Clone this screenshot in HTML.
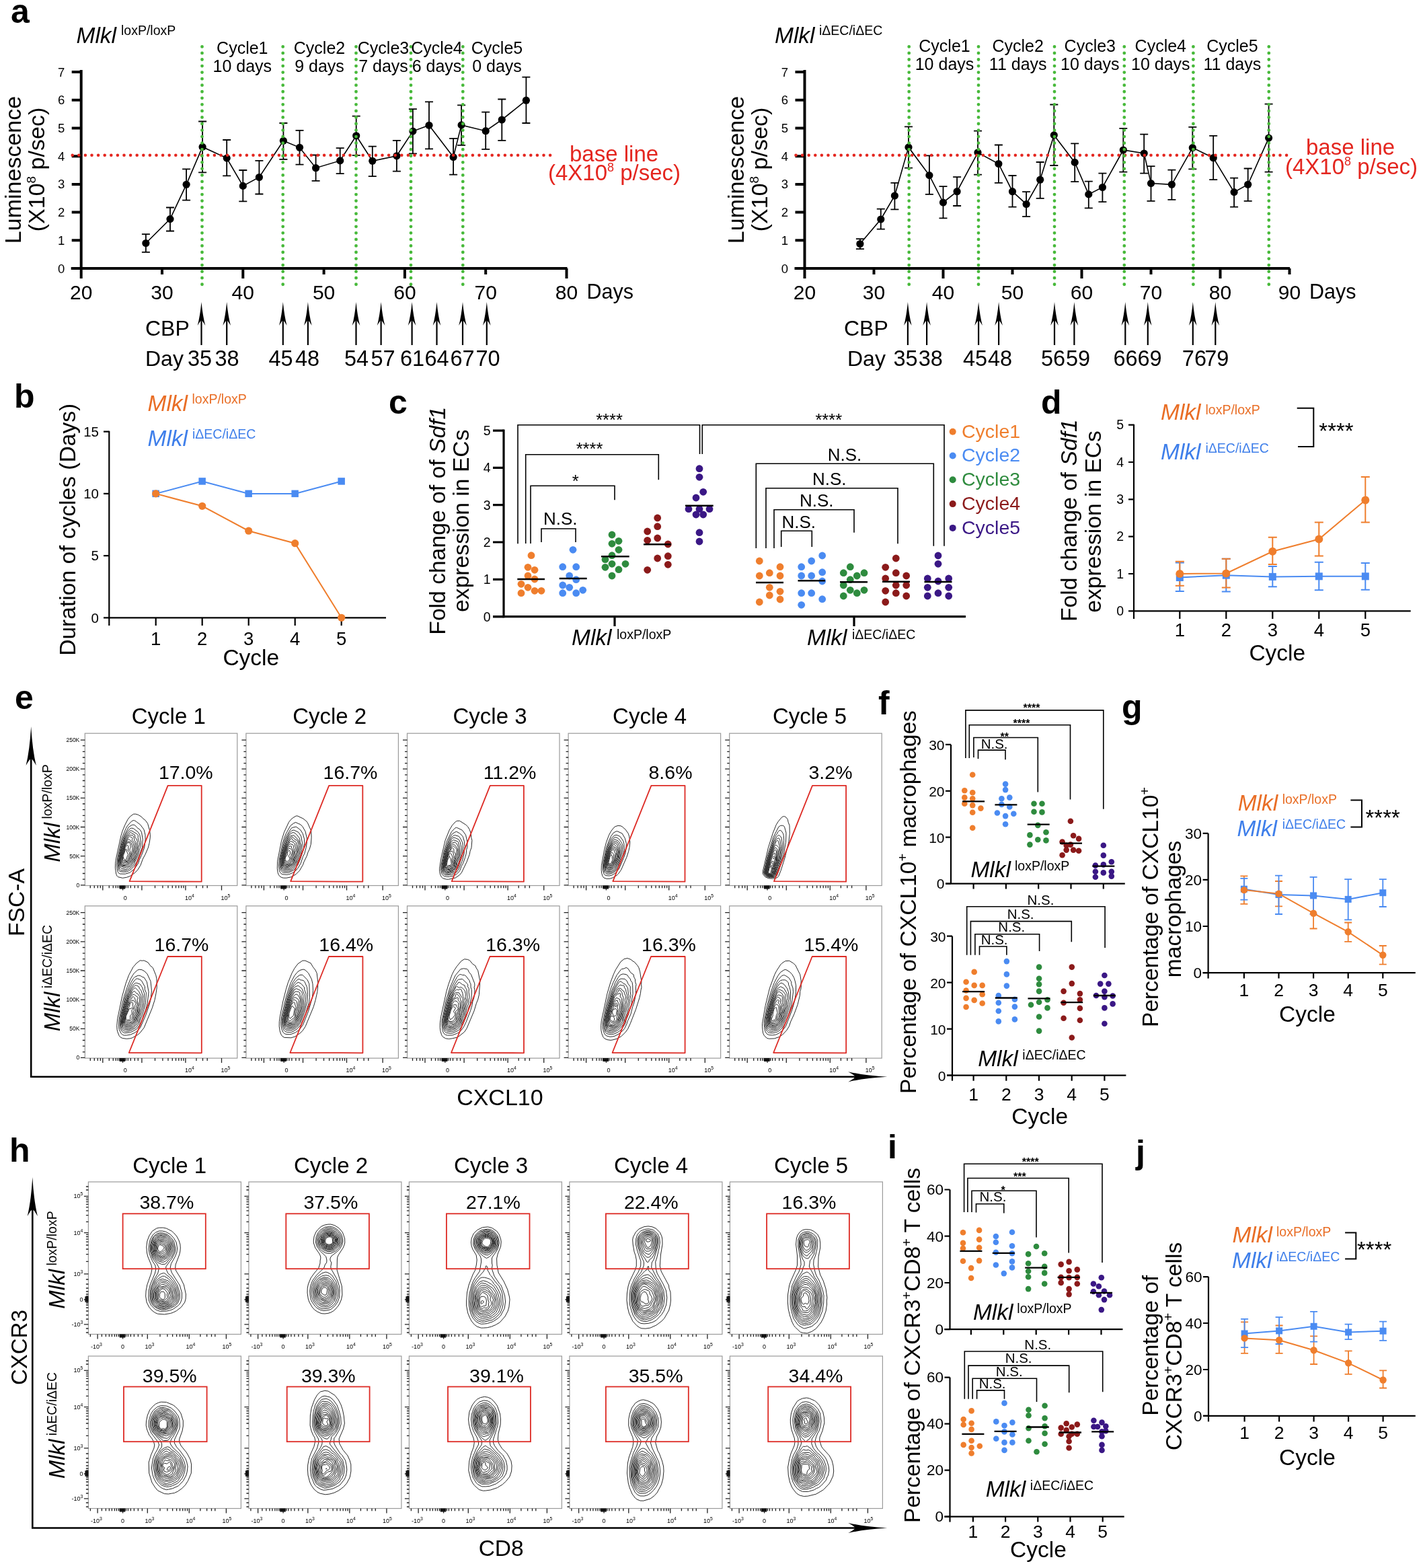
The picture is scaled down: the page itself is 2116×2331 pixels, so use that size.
<!DOCTYPE html>
<html><head><meta charset="utf-8"><style>
html,body{margin:0;padding:0;background:#fff;overflow:hidden;}
svg{display:block;font-family:'Liberation Sans', Arial, sans-serif;}
</style></head><body>
<svg width="2116" height="2331" viewBox="0 0 2116 2331">
<rect width="2116" height="2331" fill="#fff"/>
<text x="16" y="34" font-size="50" font-weight="bold">a</text>
<path d="M120.7 104L120.7 401" stroke="#000" stroke-width="4" fill="none"/>
<path d="M105.7 399L843.5 399" stroke="#000" stroke-width="4" fill="none"/>
<path d="M106.7 357.3L120.7 357.3M106.7 315.6L120.7 315.6M106.7 273.9L120.7 273.9M106.7 232.2L120.7 232.2M106.7 190.5L120.7 190.5M106.7 148.8L120.7 148.8M106.7 107.1L120.7 107.1" stroke="#000" stroke-width="4" fill="none"/>
<text x="91.2" y="405.5" font-size="18.5" text-anchor="middle">0</text>
<text x="91.2" y="363.8" font-size="18.5" text-anchor="middle">1</text>
<text x="91.2" y="322.1" font-size="18.5" text-anchor="middle">2</text>
<text x="91.2" y="280.4" font-size="18.5" text-anchor="middle">3</text>
<text x="91.2" y="238.7" font-size="18.5" text-anchor="middle">4</text>
<text x="91.2" y="197" font-size="18.5" text-anchor="middle">5</text>
<text x="91.2" y="155.3" font-size="18.5" text-anchor="middle">6</text>
<text x="91.2" y="113.6" font-size="18.5" text-anchor="middle">7</text>
<path d="M120.7 399L120.7 414M241 399L241 408M361.3 399L361.3 414M481.6 399L481.6 408M601.9 399L601.9 414M722.2 399L722.2 408M842.5 399L842.5 414" stroke="#000" stroke-width="4" fill="none"/>
<text x="120.7" y="444.5" font-size="30" text-anchor="middle">20</text>
<text x="241" y="444.5" font-size="30" text-anchor="middle">30</text>
<text x="361.3" y="444.5" font-size="30" text-anchor="middle">40</text>
<text x="481.6" y="444.5" font-size="30" text-anchor="middle">50</text>
<text x="601.9" y="444.5" font-size="30" text-anchor="middle">60</text>
<text x="722.2" y="444.5" font-size="30" text-anchor="middle">70</text>
<text x="842.5" y="444.5" font-size="30" text-anchor="middle">80</text>
<text x="872.5" y="444" font-size="30.5">Days</text>
<path d="M216.9 361.5L253 325.6L277.1 274.3L301.1 218.4L337.2 235.1L361.3 276.4L385.4 263.5L421.4 209.3L445.5 219.3L469.6 249.7L505.7 238.9L529.7 201.8L553.8 239.3L589.9 231.8L613.9 195.1L638 186.3L674.1 233.5L686.1 185.9L722.2 194.7L746.3 178L782.4 149.2" stroke="#000" stroke-width="1.6" fill="none"/>
<path d="M216.9 348.1L216.9 374.8M210.9 348.1L222.9 348.1M210.9 374.8L222.9 374.8M253 308.5L253 343.5M247 308.5L259 308.5M247 343.5L259 343.5M277.1 251.4L277.1 297.7M271.1 251.4L283.1 251.4M271.1 297.7L283.1 297.7M301.1 180.5L301.1 256.4M295.1 180.5L307.1 180.5M295.1 256.4L307.1 256.4M337.2 208L337.2 261.4M331.2 208L343.2 208M331.2 261.4L343.2 261.4M361.3 253L361.3 299.3M355.3 253L367.3 253M355.3 299.3L367.3 299.3M385.4 238.9L385.4 288.5M379.4 238.9L391.4 238.9M379.4 288.5L391.4 288.5M421.4 183L421.4 236.8M415.4 183L427.4 183M415.4 236.8L427.4 236.8M445.5 193.8L445.5 244.7M439.5 193.8L451.5 193.8M439.5 244.7L451.5 244.7M469.6 230.5L469.6 268.9M463.6 230.5L475.6 230.5M463.6 268.9L475.6 268.9M505.7 220.1L505.7 258.1M499.7 220.1L511.7 220.1M499.7 258.1L511.7 258.1M529.7 172.6L529.7 230.9M523.7 172.6L535.7 172.6M523.7 230.9L535.7 230.9M553.8 217.6L553.8 262.2M547.8 217.6L559.8 217.6M547.8 262.2L559.8 262.2M589.9 208.8L589.9 254.7M583.9 208.8L595.9 208.8M583.9 254.7L595.9 254.7M613.9 162.1L613.9 228.4M607.9 162.1L619.9 162.1M607.9 228.4L619.9 228.4M638 151.3L638 221.4M632 151.3L644 151.3M632 221.4L644 221.4M674.1 205.9L674.1 259.7M668.1 205.9L680.1 205.9M668.1 259.7L680.1 259.7M686.1 156.3L686.1 215.9M680.1 156.3L692.1 156.3M680.1 215.9L692.1 215.9M722.2 166.7L722.2 221.8M716.2 166.7L728.2 166.7M716.2 221.8L728.2 221.8M746.3 147.5L746.3 208.8M740.3 147.5L752.3 147.5M740.3 208.8L752.3 208.8M782.4 114.6L782.4 183M776.4 114.6L788.4 114.6M776.4 183L788.4 183" stroke="#000" stroke-width="1.8" fill="none"/>
<circle cx="216.9" cy="361.5" r="5.6" fill="#000"/>
<circle cx="253" cy="325.6" r="5.6" fill="#000"/>
<circle cx="277.1" cy="274.3" r="5.6" fill="#000"/>
<circle cx="301.1" cy="218.4" r="5.6" fill="#000"/>
<circle cx="337.2" cy="235.1" r="5.6" fill="#000"/>
<circle cx="361.3" cy="276.4" r="5.6" fill="#000"/>
<circle cx="385.4" cy="263.5" r="5.6" fill="#000"/>
<circle cx="421.4" cy="209.3" r="5.6" fill="#000"/>
<circle cx="445.5" cy="219.3" r="5.6" fill="#000"/>
<circle cx="469.6" cy="249.7" r="5.6" fill="#000"/>
<circle cx="505.7" cy="238.9" r="5.6" fill="#000"/>
<circle cx="529.7" cy="201.8" r="5.6" fill="#000"/>
<circle cx="553.8" cy="239.3" r="5.6" fill="#000"/>
<circle cx="589.9" cy="231.8" r="5.6" fill="#000"/>
<circle cx="613.9" cy="195.1" r="5.6" fill="#000"/>
<circle cx="638" cy="186.3" r="5.6" fill="#000"/>
<circle cx="674.1" cy="233.5" r="5.6" fill="#000"/>
<circle cx="686.1" cy="185.9" r="5.6" fill="#000"/>
<circle cx="722.2" cy="194.7" r="5.6" fill="#000"/>
<circle cx="746.3" cy="178" r="5.6" fill="#000"/>
<circle cx="782.4" cy="149.2" r="5.6" fill="#000"/>
<path d="M107.7 230.7H822" stroke="#E4261F" stroke-width="4.6" fill="none" stroke-dasharray="0 9.6" stroke-linecap="round"/>
<path d="M300.5 69.4V424" stroke="#47B93A" stroke-width="4.8" fill="none" stroke-dasharray="0 9.55" stroke-linecap="round"/>
<path d="M420.7 69.4V424" stroke="#47B93A" stroke-width="4.8" fill="none" stroke-dasharray="0 9.55" stroke-linecap="round"/>
<path d="M529.5 69.4V424" stroke="#47B93A" stroke-width="4.8" fill="none" stroke-dasharray="0 9.55" stroke-linecap="round"/>
<path d="M611 69.4V424" stroke="#47B93A" stroke-width="4.8" fill="none" stroke-dasharray="0 9.55" stroke-linecap="round"/>
<path d="M688.3 69.4V424" stroke="#47B93A" stroke-width="4.8" fill="none" stroke-dasharray="0 9.55" stroke-linecap="round"/>
<text x="360.3" y="80" font-size="25" text-anchor="middle">Cycle1</text>
<text x="360.3" y="107" font-size="25" text-anchor="middle">10 days</text>
<text x="475" y="80" font-size="25" text-anchor="middle">Cycle2</text>
<text x="475" y="107" font-size="25" text-anchor="middle">9 days</text>
<text x="570" y="80" font-size="25" text-anchor="middle">Cycle3</text>
<text x="570" y="107" font-size="25" text-anchor="middle">7 days</text>
<text x="649.5" y="80" font-size="25" text-anchor="middle">Cycle4</text>
<text x="649.5" y="107" font-size="25" text-anchor="middle">6 days</text>
<text x="739" y="80" font-size="25" text-anchor="middle">Cycle5</text>
<text x="739" y="107" font-size="25" text-anchor="middle">0 days</text>
<text x="113.5" y="63.5" font-size="33.5" font-style="italic">Mlkl</text>
<text x="180" y="52" font-size="19.5">loxP/loxP</text>
<text x="847" y="240" font-size="33" fill="#E4261F">base line</text>
<text x="815" y="268" font-size="33" fill="#E4261F">(4X10<tspan font-size="18" dy="-13">8</tspan><tspan dy="13"> p/sec)</tspan></text>
<text x="31" y="252.5" font-size="34" text-anchor="middle" transform="rotate(-90 31 252.5)">Luminescence</text>
<text x="66" y="252" font-size="34" text-anchor="middle" transform="rotate(-90 66 252)">(X10<tspan font-size="19" dy="-13">8</tspan><tspan dy="13"> p/sec)</tspan></text>
<text x="216" y="499" font-size="32">CBP</text>
<text x="216" y="543.5" font-size="32">Day</text>
<path d="M299.5 476L299.5 513" stroke="#000" stroke-width="2.2" fill="none"/>
<path d="M299.5 449 Q301.5 470 305.3 484 Q300.5 476 299.5 476 Q298.5 476 293.7 484 Q297.5 470 299.5 449Z" fill="#000"/>
<path d="M337.2 476L337.2 513" stroke="#000" stroke-width="2.2" fill="none"/>
<path d="M337.2 449 Q339.2 470 343 484 Q338.2 476 337.2 476 Q336.2 476 331.4 484 Q335.2 470 337.2 449Z" fill="#000"/>
<path d="M420.8 476L420.8 513" stroke="#000" stroke-width="2.2" fill="none"/>
<path d="M420.8 449 Q422.8 470 426.6 484 Q421.8 476 420.8 476 Q419.8 476 415 484 Q418.8 470 420.8 449Z" fill="#000"/>
<path d="M457.9 476L457.9 513" stroke="#000" stroke-width="2.2" fill="none"/>
<path d="M457.9 449 Q459.9 470 463.7 484 Q458.9 476 457.9 476 Q456.9 476 452.1 484 Q455.9 470 457.9 449Z" fill="#000"/>
<path d="M529.5 476L529.5 513" stroke="#000" stroke-width="2.2" fill="none"/>
<path d="M529.5 449 Q531.5 470 535.3 484 Q530.5 476 529.5 476 Q528.5 476 523.7 484 Q527.5 470 529.5 449Z" fill="#000"/>
<path d="M566.6 476L566.6 513" stroke="#000" stroke-width="2.2" fill="none"/>
<path d="M566.6 449 Q568.6 470 572.4 484 Q567.6 476 566.6 476 Q565.6 476 560.8 484 Q564.6 470 566.6 449Z" fill="#000"/>
<path d="M612.6 476L612.6 513" stroke="#000" stroke-width="2.2" fill="none"/>
<path d="M612.6 449 Q614.6 470 618.4 484 Q613.6 476 612.6 476 Q611.6 476 606.8 484 Q610.6 470 612.6 449Z" fill="#000"/>
<path d="M649.5 476L649.5 513" stroke="#000" stroke-width="2.2" fill="none"/>
<path d="M649.5 449 Q651.5 470 655.3 484 Q650.5 476 649.5 476 Q648.5 476 643.7 484 Q647.5 470 649.5 449Z" fill="#000"/>
<path d="M688 476L688 513" stroke="#000" stroke-width="2.2" fill="none"/>
<path d="M688 449 Q690 470 693.8 484 Q689 476 688 476 Q687 476 682.2 484 Q686 470 688 449Z" fill="#000"/>
<path d="M723.8 476L723.8 513" stroke="#000" stroke-width="2.2" fill="none"/>
<path d="M723.8 449 Q725.8 470 729.6 484 Q724.8 476 723.8 476 Q722.8 476 718 484 Q721.8 470 723.8 449Z" fill="#000"/>
<text x="297" y="543.5" font-size="32.5" text-anchor="middle">35</text>
<text x="337.5" y="543.5" font-size="32.5" text-anchor="middle">38</text>
<text x="417.5" y="543.5" font-size="32.5" text-anchor="middle">45</text>
<text x="457" y="543.5" font-size="32.5" text-anchor="middle">48</text>
<text x="530" y="543.5" font-size="32.5" text-anchor="middle">54</text>
<text x="569.5" y="543.5" font-size="32.5" text-anchor="middle">57</text>
<text x="613" y="543.5" font-size="32.5" text-anchor="middle">61</text>
<text x="649.5" y="543.5" font-size="32.5" text-anchor="middle">64</text>
<text x="687.5" y="543.5" font-size="32.5" text-anchor="middle">67</text>
<text x="725.5" y="543.5" font-size="32.5" text-anchor="middle">70</text>
<path d="M1196.5 104L1196.5 401" stroke="#000" stroke-width="4" fill="none"/>
<path d="M1181.5 399L1918 399" stroke="#000" stroke-width="4" fill="none"/>
<path d="M1182.5 357.3L1196.5 357.3M1182.5 315.6L1196.5 315.6M1182.5 273.9L1196.5 273.9M1182.5 232.2L1196.5 232.2M1182.5 190.5L1196.5 190.5M1182.5 148.8L1196.5 148.8M1182.5 107.1L1196.5 107.1" stroke="#000" stroke-width="4" fill="none"/>
<text x="1167" y="405.5" font-size="18.5" text-anchor="middle">0</text>
<text x="1167" y="363.8" font-size="18.5" text-anchor="middle">1</text>
<text x="1167" y="322.1" font-size="18.5" text-anchor="middle">2</text>
<text x="1167" y="280.4" font-size="18.5" text-anchor="middle">3</text>
<text x="1167" y="238.7" font-size="18.5" text-anchor="middle">4</text>
<text x="1167" y="197" font-size="18.5" text-anchor="middle">5</text>
<text x="1167" y="155.3" font-size="18.5" text-anchor="middle">6</text>
<text x="1167" y="113.6" font-size="18.5" text-anchor="middle">7</text>
<path d="M1196.5 399L1196.5 414M1299.5 399L1299.5 408M1402.5 399L1402.5 414M1505.5 399L1505.5 408M1608.5 399L1608.5 414M1711.5 399L1711.5 408M1814.5 399L1814.5 414M1917.5 399L1917.5 408" stroke="#000" stroke-width="4" fill="none"/>
<text x="1196.5" y="444.5" font-size="30" text-anchor="middle">20</text>
<text x="1299.5" y="444.5" font-size="30" text-anchor="middle">30</text>
<text x="1402.5" y="444.5" font-size="30" text-anchor="middle">40</text>
<text x="1505.5" y="444.5" font-size="30" text-anchor="middle">50</text>
<text x="1608.5" y="444.5" font-size="30" text-anchor="middle">60</text>
<text x="1711.5" y="444.5" font-size="30" text-anchor="middle">70</text>
<text x="1814.5" y="444.5" font-size="30" text-anchor="middle">80</text>
<text x="1917.5" y="444.5" font-size="30" text-anchor="middle">90</text>
<text x="1947" y="444" font-size="30.5">Days</text>
<path d="M1278.9 362.5L1309.8 326L1330.4 291L1351 218.9L1381.9 260.6L1402.5 301L1423.1 284.7L1454 226.8L1484.9 243.5L1505.5 284.7L1526.1 303.5L1546.7 267.2L1567.3 200.9L1598.2 241.4L1618.8 288.9L1639.4 278.5L1670.3 223L1701.2 228L1711.5 272.6L1742.4 274.3L1773.3 219.7L1804.2 234.7L1835.1 285.6L1855.7 274.3L1886.6 205.1" stroke="#000" stroke-width="1.6" fill="none"/>
<path d="M1278.9 355.2L1278.9 370.2M1272.9 355.2L1284.9 355.2M1272.9 370.2L1284.9 370.2M1309.8 310.6L1309.8 340.6M1303.8 310.6L1315.8 310.6M1303.8 340.6L1315.8 340.6M1330.4 271.8L1330.4 311.4M1324.4 271.8L1336.4 271.8M1324.4 311.4L1336.4 311.4M1351 188.4L1351 249.7M1345 188.4L1357 188.4M1345 249.7L1357 249.7M1381.9 231.4L1381.9 288.9M1375.9 231.4L1387.9 231.4M1375.9 288.9L1387.9 288.9M1402.5 277.2L1402.5 324.4M1396.5 277.2L1408.5 277.2M1396.5 324.4L1408.5 324.4M1423.1 263.1L1423.1 306M1417.1 263.1L1429.1 263.1M1417.1 306L1429.1 306M1454 194.7L1454 259.7M1448 194.7L1460 194.7M1448 259.7L1460 259.7M1484.9 215.5L1484.9 271.8M1478.9 215.5L1490.9 215.5M1478.9 271.8L1490.9 271.8M1505.5 261L1505.5 307.7M1499.5 261L1511.5 261M1499.5 307.7L1511.5 307.7M1526.1 285.2L1526.1 321.9M1520.1 285.2L1532.1 285.2M1520.1 321.9L1532.1 321.9M1546.7 241L1546.7 294.8M1540.7 241L1552.7 241M1540.7 294.8L1552.7 294.8M1567.3 155.5L1567.3 246M1561.3 155.5L1573.3 155.5M1561.3 246L1573.3 246M1598.2 213.4L1598.2 270.1M1592.2 213.4L1604.2 213.4M1592.2 270.1L1604.2 270.1M1618.8 269.7L1618.8 309.3M1612.8 269.7L1624.8 269.7M1612.8 309.3L1624.8 309.3M1639.4 257.6L1639.4 300.2M1633.4 257.6L1645.4 257.6M1633.4 300.2L1645.4 300.2M1670.3 190.9L1670.3 255.6M1664.3 190.9L1676.3 190.9M1664.3 255.6L1676.3 255.6M1701.2 199.7L1701.2 257.6M1695.2 199.7L1707.2 199.7M1695.2 257.6L1707.2 257.6M1711.5 247.2L1711.5 298.9M1705.5 247.2L1717.5 247.2M1705.5 298.9L1717.5 298.9M1742.4 252.6L1742.4 296.8M1736.4 252.6L1748.4 252.6M1736.4 296.8L1748.4 296.8M1773.3 188.8L1773.3 251.4M1767.3 188.8L1779.3 188.8M1767.3 251.4L1779.3 251.4M1804.2 201.8L1804.2 267.2M1798.2 201.8L1810.2 201.8M1798.2 267.2L1810.2 267.2M1835.1 264.7L1835.1 307.7M1829.1 264.7L1841.1 264.7M1829.1 307.7L1841.1 307.7M1855.7 250.5L1855.7 298.9M1849.7 250.5L1861.7 250.5M1849.7 298.9L1861.7 298.9M1886.6 154.6L1886.6 255.6M1880.6 154.6L1892.6 154.6M1880.6 255.6L1892.6 255.6" stroke="#000" stroke-width="1.8" fill="none"/>
<circle cx="1278.9" cy="362.5" r="5.6" fill="#000"/>
<circle cx="1309.8" cy="326" r="5.6" fill="#000"/>
<circle cx="1330.4" cy="291" r="5.6" fill="#000"/>
<circle cx="1351" cy="218.9" r="5.6" fill="#000"/>
<circle cx="1381.9" cy="260.6" r="5.6" fill="#000"/>
<circle cx="1402.5" cy="301" r="5.6" fill="#000"/>
<circle cx="1423.1" cy="284.7" r="5.6" fill="#000"/>
<circle cx="1454" cy="226.8" r="5.6" fill="#000"/>
<circle cx="1484.9" cy="243.5" r="5.6" fill="#000"/>
<circle cx="1505.5" cy="284.7" r="5.6" fill="#000"/>
<circle cx="1526.1" cy="303.5" r="5.6" fill="#000"/>
<circle cx="1546.7" cy="267.2" r="5.6" fill="#000"/>
<circle cx="1567.3" cy="200.9" r="5.6" fill="#000"/>
<circle cx="1598.2" cy="241.4" r="5.6" fill="#000"/>
<circle cx="1618.8" cy="288.9" r="5.6" fill="#000"/>
<circle cx="1639.4" cy="278.5" r="5.6" fill="#000"/>
<circle cx="1670.3" cy="223" r="5.6" fill="#000"/>
<circle cx="1701.2" cy="228" r="5.6" fill="#000"/>
<circle cx="1711.5" cy="272.6" r="5.6" fill="#000"/>
<circle cx="1742.4" cy="274.3" r="5.6" fill="#000"/>
<circle cx="1773.3" cy="219.7" r="5.6" fill="#000"/>
<circle cx="1804.2" cy="234.7" r="5.6" fill="#000"/>
<circle cx="1835.1" cy="285.6" r="5.6" fill="#000"/>
<circle cx="1855.7" cy="274.3" r="5.6" fill="#000"/>
<circle cx="1886.6" cy="205.1" r="5.6" fill="#000"/>
<path d="M1183.5 230.7H1918" stroke="#E4261F" stroke-width="4.6" fill="none" stroke-dasharray="0 9.6" stroke-linecap="round"/>
<path d="M1351.7 69.4V424" stroke="#47B93A" stroke-width="4.8" fill="none" stroke-dasharray="0 9.55" stroke-linecap="round"/>
<path d="M1455 69.4V424" stroke="#47B93A" stroke-width="4.8" fill="none" stroke-dasharray="0 9.55" stroke-linecap="round"/>
<path d="M1568 69.4V424" stroke="#47B93A" stroke-width="4.8" fill="none" stroke-dasharray="0 9.55" stroke-linecap="round"/>
<path d="M1671.8 69.4V424" stroke="#47B93A" stroke-width="4.8" fill="none" stroke-dasharray="0 9.55" stroke-linecap="round"/>
<path d="M1774.4 69.4V424" stroke="#47B93A" stroke-width="4.8" fill="none" stroke-dasharray="0 9.55" stroke-linecap="round"/>
<path d="M1886.8 69.4V424" stroke="#47B93A" stroke-width="4.8" fill="none" stroke-dasharray="0 9.55" stroke-linecap="round"/>
<text x="1404.5" y="77" font-size="25" text-anchor="middle">Cycle1</text>
<text x="1404.5" y="104" font-size="25" text-anchor="middle">10 days</text>
<text x="1513.7" y="77" font-size="25" text-anchor="middle">Cycle2</text>
<text x="1513.7" y="104" font-size="25" text-anchor="middle">11 days</text>
<text x="1620.8" y="77" font-size="25" text-anchor="middle">Cycle3</text>
<text x="1620.8" y="104" font-size="25" text-anchor="middle">10 days</text>
<text x="1725.8" y="77" font-size="25" text-anchor="middle">Cycle4</text>
<text x="1725.8" y="104" font-size="25" text-anchor="middle">10 days</text>
<text x="1832.4" y="77" font-size="25" text-anchor="middle">Cycle5</text>
<text x="1832.4" y="104" font-size="25" text-anchor="middle">11 days</text>
<text x="1152" y="63.5" font-size="33.5" font-style="italic">Mlkl</text>
<text x="1218" y="52" font-size="19.5">iΔEC/iΔEC</text>
<text x="1942" y="230" font-size="33" fill="#E4261F">base line</text>
<text x="1911" y="258.5" font-size="33" fill="#E4261F">(4X10<tspan font-size="18" dy="-13">8</tspan><tspan dy="13"> p/sec)</tspan></text>
<text x="1106" y="252.5" font-size="34" text-anchor="middle" transform="rotate(-90 1106 252.5)">Luminescence</text>
<text x="1141" y="252" font-size="34" text-anchor="middle" transform="rotate(-90 1141 252)">(X10<tspan font-size="19" dy="-13">8</tspan><tspan dy="13"> p/sec)</tspan></text>
<text x="1255" y="499" font-size="32">CBP</text>
<text x="1260" y="543.5" font-size="32">Day</text>
<path d="M1349.9 476L1349.9 513" stroke="#000" stroke-width="2.2" fill="none"/>
<path d="M1349.9 449 Q1351.9 470 1355.7 484 Q1350.9 476 1349.9 476 Q1348.9 476 1344.1 484 Q1347.9 470 1349.9 449Z" fill="#000"/>
<path d="M1378.1 476L1378.1 513" stroke="#000" stroke-width="2.2" fill="none"/>
<path d="M1378.1 449 Q1380.1 470 1383.9 484 Q1379.1 476 1378.1 476 Q1377.1 476 1372.3 484 Q1376.1 470 1378.1 449Z" fill="#000"/>
<path d="M1455.1 476L1455.1 513" stroke="#000" stroke-width="2.2" fill="none"/>
<path d="M1455.1 449 Q1457.1 470 1460.9 484 Q1456.1 476 1455.1 476 Q1454.1 476 1449.3 484 Q1453.1 470 1455.1 449Z" fill="#000"/>
<path d="M1485.1 476L1485.1 513" stroke="#000" stroke-width="2.2" fill="none"/>
<path d="M1485.1 449 Q1487.1 470 1490.9 484 Q1486.1 476 1485.1 476 Q1484.1 476 1479.3 484 Q1483.1 470 1485.1 449Z" fill="#000"/>
<path d="M1568 476L1568 513" stroke="#000" stroke-width="2.2" fill="none"/>
<path d="M1568 449 Q1570 470 1573.8 484 Q1569 476 1568 476 Q1567 476 1562.2 484 Q1566 470 1568 449Z" fill="#000"/>
<path d="M1597.4 476L1597.4 513" stroke="#000" stroke-width="2.2" fill="none"/>
<path d="M1597.4 449 Q1599.4 470 1603.2 484 Q1598.4 476 1597.4 476 Q1596.4 476 1591.6 484 Q1595.4 470 1597.4 449Z" fill="#000"/>
<path d="M1673.3 476L1673.3 513" stroke="#000" stroke-width="2.2" fill="none"/>
<path d="M1673.3 449 Q1675.3 470 1679.1 484 Q1674.3 476 1673.3 476 Q1672.3 476 1667.5 484 Q1671.3 470 1673.3 449Z" fill="#000"/>
<path d="M1706.8 476L1706.8 513" stroke="#000" stroke-width="2.2" fill="none"/>
<path d="M1706.8 449 Q1708.8 470 1712.6 484 Q1707.8 476 1706.8 476 Q1705.8 476 1701 484 Q1704.8 470 1706.8 449Z" fill="#000"/>
<path d="M1773.8 476L1773.8 513" stroke="#000" stroke-width="2.2" fill="none"/>
<path d="M1773.8 449 Q1775.8 470 1779.6 484 Q1774.8 476 1773.8 476 Q1772.8 476 1768 484 Q1771.8 470 1773.8 449Z" fill="#000"/>
<path d="M1807.3 476L1807.3 513" stroke="#000" stroke-width="2.2" fill="none"/>
<path d="M1807.3 449 Q1809.3 470 1813.1 484 Q1808.3 476 1807.3 476 Q1806.3 476 1801.5 484 Q1805.3 470 1807.3 449Z" fill="#000"/>
<text x="1346.6" y="543.5" font-size="32.5" text-anchor="middle">35</text>
<text x="1383.8" y="543.5" font-size="32.5" text-anchor="middle">38</text>
<text x="1450" y="543.5" font-size="32.5" text-anchor="middle">45</text>
<text x="1487" y="543.5" font-size="32.5" text-anchor="middle">48</text>
<text x="1566" y="543.5" font-size="32.5" text-anchor="middle">56</text>
<text x="1603" y="543.5" font-size="32.5" text-anchor="middle">59</text>
<text x="1673.5" y="543.5" font-size="32.5" text-anchor="middle">66</text>
<text x="1709.5" y="543.5" font-size="32.5" text-anchor="middle">69</text>
<text x="1775.9" y="543.5" font-size="32.5" text-anchor="middle">76</text>
<text x="1809.3" y="543.5" font-size="32.5" text-anchor="middle">79</text>
<text x="21" y="606" font-size="50" font-weight="bold">b</text>
<path d="M162.3 640.7L162.3 930" stroke="#000" stroke-width="2.2" fill="none"/>
<path d="M161.2 918.3L574 918.3" stroke="#000" stroke-width="2.2" fill="none"/>
<path d="M154 918.3L162.3 918.3M154 826.1L162.3 826.1M154 733.9L162.3 733.9M154 641.7L162.3 641.7" stroke="#000" stroke-width="2.2" fill="none"/>
<path d="M231.7 918.3L231.7 930M300.7 918.3L300.7 930M369.7 918.3L369.7 930M438.7 918.3L438.7 930M507.7 918.3L507.7 930" stroke="#000" stroke-width="2.2" fill="none"/>
<text x="147" y="925.6" font-size="20.5" text-anchor="end">0</text>
<text x="147" y="833.4" font-size="20.5" text-anchor="end">5</text>
<text x="147" y="741.2" font-size="20.5" text-anchor="end">10</text>
<text x="147" y="649" font-size="20.5" text-anchor="end">15</text>
<text x="231.7" y="958.5" font-size="27.5" text-anchor="middle">1</text>
<text x="300.7" y="958.5" font-size="27.5" text-anchor="middle">2</text>
<text x="369.7" y="958.5" font-size="27.5" text-anchor="middle">3</text>
<text x="438.7" y="958.5" font-size="27.5" text-anchor="middle">4</text>
<text x="507.7" y="958.5" font-size="27.5" text-anchor="middle">5</text>
<text x="373.3" y="988.5" font-size="33.5" text-anchor="middle">Cycle</text>
<text x="112" y="787.3" font-size="33.6" text-anchor="middle" transform="rotate(-90 112 787.3)">Duration of cycles (Days)</text>
<path d="M231.7 733.9L300.7 715.5L369.7 733.9L438.7 733.9L507.7 715.5" stroke="#4A8BF2" stroke-width="2" fill="none"/>
<rect x="226.4" y="728.6" width="10.5" height="10.5" fill="#4A8BF2"/>
<rect x="295.4" y="710.2" width="10.5" height="10.5" fill="#4A8BF2"/>
<rect x="364.4" y="728.6" width="10.5" height="10.5" fill="#4A8BF2"/>
<rect x="433.4" y="728.6" width="10.5" height="10.5" fill="#4A8BF2"/>
<rect x="502.4" y="710.2" width="10.5" height="10.5" fill="#4A8BF2"/>
<path d="M231.7 733.9L300.7 752.3L369.7 789.2L438.7 807.7L507.7 918.3" stroke="#EF7E2D" stroke-width="2" fill="none"/>
<circle cx="231.7" cy="733.9" r="5.6" fill="#EF7E2D"/>
<circle cx="300.7" cy="752.3" r="5.6" fill="#EF7E2D"/>
<circle cx="369.7" cy="789.2" r="5.6" fill="#EF7E2D"/>
<circle cx="438.7" cy="807.7" r="5.6" fill="#EF7E2D"/>
<circle cx="507.7" cy="918.3" r="5.6" fill="#EF7E2D"/>
<text x="219.5" y="611" font-size="33.5" font-style="italic" fill="#E96E26">Mlkl</text>
<text x="285.5" y="600" font-size="19.5" fill="#E96E26">loxP/loxP</text>
<text x="219.5" y="662.5" font-size="33.5" font-style="italic" fill="#3F7FEA">Mlkl</text>
<text x="286" y="651.5" font-size="19.5" fill="#3F7FEA">iΔEC/iΔEC</text>
<text x="578" y="615" font-size="50" font-weight="bold">c</text>
<path d="M749 638.5L749 918.2" stroke="#000" stroke-width="3.2" fill="none"/>
<path d="M733 916.7L1436 916.7" stroke="#000" stroke-width="3.2" fill="none"/>
<path d="M733 916.7L749 916.7M733 861.4L749 861.4M733 806L749 806M733 750.7L749 750.7M733 695.4L749 695.4M733 640.1L749 640.1" stroke="#000" stroke-width="3.2" fill="none"/>
<path d="M914 916.7L914 931M1270 916.7L1270 931" stroke="#000" stroke-width="3.2" fill="none"/>
<text x="729.5" y="923.5" font-size="19.5" text-anchor="end">0</text>
<text x="729.5" y="868.2" font-size="19.5" text-anchor="end">1</text>
<text x="729.5" y="812.8" font-size="19.5" text-anchor="end">2</text>
<text x="729.5" y="757.5" font-size="19.5" text-anchor="end">3</text>
<text x="729.5" y="702.2" font-size="19.5" text-anchor="end">4</text>
<text x="729.5" y="646.9" font-size="19.5" text-anchor="end">5</text>
<text x="850" y="959" font-size="33.5" font-style="italic">Mlkl</text>
<text x="917" y="950" font-size="19.5">loxP/loxP</text>
<text x="1200" y="959" font-size="33.5" font-style="italic">Mlkl</text>
<text x="1267" y="950" font-size="19.5">iΔEC/iΔEC</text>
<text x="662.5" y="774.2" font-size="33.7" text-anchor="middle" transform="rotate(-90 662.5 774.2)">Fold change of of <tspan font-style="italic">Sdf1</tspan></text>
<text x="697" y="774.2" font-size="33.7" text-anchor="middle" transform="rotate(-90 697 774.2)">expression in ECs</text>
<circle cx="790" cy="825.7" r="5.4" fill="#EF7E2D"/>
<circle cx="785" cy="843.3" r="5.4" fill="#EF7E2D"/>
<circle cx="795" cy="847.3" r="5.4" fill="#EF7E2D"/>
<circle cx="785" cy="856" r="5.4" fill="#EF7E2D"/>
<circle cx="795" cy="861" r="5.4" fill="#EF7E2D"/>
<circle cx="775" cy="868.3" r="5.4" fill="#EF7E2D"/>
<circle cx="785" cy="873.3" r="5.4" fill="#EF7E2D"/>
<circle cx="805" cy="878.3" r="5.4" fill="#EF7E2D"/>
<circle cx="775" cy="881.7" r="5.4" fill="#EF7E2D"/>
<circle cx="795" cy="878.3" r="5.4" fill="#EF7E2D"/>
<circle cx="852" cy="817.3" r="5.4" fill="#4A8BF2"/>
<circle cx="836.7" cy="842.7" r="5.4" fill="#4A8BF2"/>
<circle cx="856.7" cy="842.7" r="5.4" fill="#4A8BF2"/>
<circle cx="846.7" cy="856" r="5.4" fill="#4A8BF2"/>
<circle cx="856.7" cy="861.7" r="5.4" fill="#4A8BF2"/>
<circle cx="836.7" cy="870" r="5.4" fill="#4A8BF2"/>
<circle cx="846.7" cy="873.3" r="5.4" fill="#4A8BF2"/>
<circle cx="866.7" cy="877.3" r="5.4" fill="#4A8BF2"/>
<circle cx="836.7" cy="881.7" r="5.4" fill="#4A8BF2"/>
<circle cx="856.7" cy="881.7" r="5.4" fill="#4A8BF2"/>
<circle cx="910" cy="795" r="5.4" fill="#2E8B3E"/>
<circle cx="920" cy="804.3" r="5.4" fill="#2E8B3E"/>
<circle cx="910" cy="808.3" r="5.4" fill="#2E8B3E"/>
<circle cx="920" cy="817.3" r="5.4" fill="#2E8B3E"/>
<circle cx="910" cy="825.7" r="5.4" fill="#2E8B3E"/>
<circle cx="900" cy="831.7" r="5.4" fill="#2E8B3E"/>
<circle cx="930" cy="838.3" r="5.4" fill="#2E8B3E"/>
<circle cx="910" cy="838.3" r="5.4" fill="#2E8B3E"/>
<circle cx="900" cy="843.3" r="5.4" fill="#2E8B3E"/>
<circle cx="920" cy="846.7" r="5.4" fill="#2E8B3E"/>
<circle cx="910" cy="856" r="5.4" fill="#2E8B3E"/>
<circle cx="977.7" cy="770" r="5.4" fill="#8B1A1A"/>
<circle cx="977.7" cy="782.7" r="5.4" fill="#8B1A1A"/>
<circle cx="962.7" cy="790" r="5.4" fill="#8B1A1A"/>
<circle cx="962.7" cy="803.3" r="5.4" fill="#8B1A1A"/>
<circle cx="977.7" cy="800" r="5.4" fill="#8B1A1A"/>
<circle cx="993.3" cy="809" r="5.4" fill="#8B1A1A"/>
<circle cx="977.7" cy="830" r="5.4" fill="#8B1A1A"/>
<circle cx="993.3" cy="826.7" r="5.4" fill="#8B1A1A"/>
<circle cx="993.3" cy="839.3" r="5.4" fill="#8B1A1A"/>
<circle cx="962.7" cy="847.3" r="5.4" fill="#8B1A1A"/>
<circle cx="1040" cy="696.7" r="5.4" fill="#3A1785"/>
<circle cx="1040" cy="709.3" r="5.4" fill="#3A1785"/>
<circle cx="1045.7" cy="731.3" r="5.4" fill="#3A1785"/>
<circle cx="1035" cy="740" r="5.4" fill="#3A1785"/>
<circle cx="1024" cy="756.7" r="5.4" fill="#3A1785"/>
<circle cx="1040" cy="756.7" r="5.4" fill="#3A1785"/>
<circle cx="1055" cy="756.7" r="5.4" fill="#3A1785"/>
<circle cx="1035" cy="765" r="5.4" fill="#3A1785"/>
<circle cx="1045.7" cy="765" r="5.4" fill="#3A1785"/>
<circle cx="1040" cy="791.7" r="5.4" fill="#3A1785"/>
<circle cx="1040" cy="805" r="5.4" fill="#3A1785"/>
<circle cx="1129.3" cy="834" r="5.4" fill="#EF7E2D"/>
<circle cx="1144.3" cy="851.7" r="5.4" fill="#EF7E2D"/>
<circle cx="1160" cy="842.7" r="5.4" fill="#EF7E2D"/>
<circle cx="1129.3" cy="856" r="5.4" fill="#EF7E2D"/>
<circle cx="1160" cy="856" r="5.4" fill="#EF7E2D"/>
<circle cx="1144.3" cy="873.3" r="5.4" fill="#EF7E2D"/>
<circle cx="1160" cy="879.3" r="5.4" fill="#EF7E2D"/>
<circle cx="1144.3" cy="885" r="5.4" fill="#EF7E2D"/>
<circle cx="1129.3" cy="895" r="5.4" fill="#EF7E2D"/>
<circle cx="1160" cy="891" r="5.4" fill="#EF7E2D"/>
<circle cx="1222.7" cy="826" r="5.4" fill="#4A8BF2"/>
<circle cx="1206.7" cy="834" r="5.4" fill="#4A8BF2"/>
<circle cx="1191.7" cy="842.7" r="5.4" fill="#4A8BF2"/>
<circle cx="1222.7" cy="850.7" r="5.4" fill="#4A8BF2"/>
<circle cx="1206.7" cy="856" r="5.4" fill="#4A8BF2"/>
<circle cx="1191.7" cy="856" r="5.4" fill="#4A8BF2"/>
<circle cx="1222.7" cy="864" r="5.4" fill="#4A8BF2"/>
<circle cx="1191.7" cy="881.7" r="5.4" fill="#4A8BF2"/>
<circle cx="1206.7" cy="881.7" r="5.4" fill="#4A8BF2"/>
<circle cx="1222.7" cy="890.7" r="5.4" fill="#4A8BF2"/>
<circle cx="1191.7" cy="899.3" r="5.4" fill="#4A8BF2"/>
<circle cx="1264.3" cy="842.7" r="5.4" fill="#2E8B3E"/>
<circle cx="1254.3" cy="851.7" r="5.4" fill="#2E8B3E"/>
<circle cx="1285" cy="851.7" r="5.4" fill="#2E8B3E"/>
<circle cx="1274.3" cy="856" r="5.4" fill="#2E8B3E"/>
<circle cx="1264.3" cy="861.7" r="5.4" fill="#2E8B3E"/>
<circle cx="1254.3" cy="870" r="5.4" fill="#2E8B3E"/>
<circle cx="1285" cy="877.3" r="5.4" fill="#2E8B3E"/>
<circle cx="1264.3" cy="877.3" r="5.4" fill="#2E8B3E"/>
<circle cx="1274.3" cy="881.7" r="5.4" fill="#2E8B3E"/>
<circle cx="1254.3" cy="886" r="5.4" fill="#2E8B3E"/>
<circle cx="1332.3" cy="830" r="5.4" fill="#8B1A1A"/>
<circle cx="1316.7" cy="843.3" r="5.4" fill="#8B1A1A"/>
<circle cx="1332.3" cy="851.7" r="5.4" fill="#8B1A1A"/>
<circle cx="1347.7" cy="856" r="5.4" fill="#8B1A1A"/>
<circle cx="1316.7" cy="860" r="5.4" fill="#8B1A1A"/>
<circle cx="1332.3" cy="870" r="5.4" fill="#8B1A1A"/>
<circle cx="1347.7" cy="870" r="5.4" fill="#8B1A1A"/>
<circle cx="1316.7" cy="878.3" r="5.4" fill="#8B1A1A"/>
<circle cx="1332.3" cy="881.7" r="5.4" fill="#8B1A1A"/>
<circle cx="1347.7" cy="886" r="5.4" fill="#8B1A1A"/>
<circle cx="1316.7" cy="895" r="5.4" fill="#8B1A1A"/>
<circle cx="1395" cy="826" r="5.4" fill="#3A1785"/>
<circle cx="1395" cy="838.3" r="5.4" fill="#3A1785"/>
<circle cx="1379.3" cy="860" r="5.4" fill="#3A1785"/>
<circle cx="1395" cy="864" r="5.4" fill="#3A1785"/>
<circle cx="1410.7" cy="860" r="5.4" fill="#3A1785"/>
<circle cx="1379.3" cy="873.3" r="5.4" fill="#3A1785"/>
<circle cx="1410.7" cy="873.3" r="5.4" fill="#3A1785"/>
<circle cx="1395" cy="881.7" r="5.4" fill="#3A1785"/>
<circle cx="1379.3" cy="886" r="5.4" fill="#3A1785"/>
<circle cx="1410.7" cy="886" r="5.4" fill="#3A1785"/>
<path d="M769.3 861L810 861M831.7 860L872.7 860M894 827.3L935.7 827.3M957 809.3L997.7 809.3M1019 751.7L1060.7 751.7M1124 866L1165 866M1186.5 863.3L1227 863.3M1249 865.3L1290 865.3M1312 864.7L1353 864.7M1374.5 865L1415.5 865" stroke="#000" stroke-width="2.4" fill="none"/>
<path d="M770 808.3L770 631.7L1040.5 631.7L1040.5 675" stroke="#000" stroke-width="1.6" fill="none"/>
<path d="M1044.3 675L1044.3 631.7L1404 631.7L1404 811.7" stroke="#000" stroke-width="1.6" fill="none"/>
<path d="M781.7 808L781.7 675.7L979.3 675.7L979.3 713.3" stroke="#000" stroke-width="1.6" fill="none"/>
<path d="M789 808L789 722.3L914 722.3L914 743.3" stroke="#000" stroke-width="1.6" fill="none"/>
<path d="M805 806L805 786L856 786L856 806" stroke="#000" stroke-width="1.6" fill="none"/>
<path d="M1124.3 815L1124.3 689.3L1388.3 689.3L1388.3 811.7" stroke="#000" stroke-width="1.6" fill="none"/>
<path d="M1139 815L1139 725.7L1335 725.7L1335 808.3" stroke="#000" stroke-width="1.6" fill="none"/>
<path d="M1151 815L1151 757.7L1270 757.7L1270 791.7" stroke="#000" stroke-width="1.6" fill="none"/>
<path d="M1161.7 813L1161.7 789.3L1207.3 789.3L1207.3 813" stroke="#000" stroke-width="1.6" fill="none"/>
<text x="906" y="633.2" font-size="25.5" text-anchor="middle">****</text>
<text x="1232.3" y="633.2" font-size="25.5" text-anchor="middle">****</text>
<text x="876.5" y="676.4" font-size="25.5" text-anchor="middle">****</text>
<text x="855.7" y="723.5" font-size="25.5" text-anchor="middle">*</text>
<text x="833.3" y="779.5" font-size="26" text-anchor="middle">N.S.</text>
<text x="1256" y="684.5" font-size="26" text-anchor="middle">N.S.</text>
<text x="1233.3" y="720.5" font-size="26" text-anchor="middle">N.S.</text>
<text x="1214.3" y="752.5" font-size="26" text-anchor="middle">N.S.</text>
<text x="1187.7" y="784.5" font-size="26" text-anchor="middle">N.S.</text>
<circle cx="1416.7" cy="641.7" r="5" fill="#EF7E2D"/>
<text x="1430" y="650.5" font-size="28.5" fill="#EF7E2D">Cycle1</text>
<circle cx="1416.7" cy="677.5" r="5" fill="#4A8BF2"/>
<text x="1430" y="686.3" font-size="28.5" fill="#4A8BF2">Cycle2</text>
<circle cx="1416.7" cy="713.3" r="5" fill="#2E8B3E"/>
<text x="1430" y="722.1" font-size="28.5" fill="#2E8B3E">Cycle3</text>
<circle cx="1416.7" cy="749.1" r="5" fill="#8B1A1A"/>
<text x="1430" y="757.9" font-size="28.5" fill="#8B1A1A">Cycle4</text>
<circle cx="1416.7" cy="784.9" r="5" fill="#3A1785"/>
<text x="1430" y="793.7" font-size="28.5" fill="#3A1785">Cycle5</text>
<text x="1548" y="615" font-size="50" font-weight="bold">d</text>
<path d="M1686 630.7L1686 920" stroke="#000" stroke-width="2.2" fill="none"/>
<path d="M1685 908.3L2097.7 908.3" stroke="#000" stroke-width="2.2" fill="none"/>
<path d="M1678 908.3L1686 908.3M1678 853L1686 853M1678 797.6L1686 797.6M1678 742.3L1686 742.3M1678 687L1686 687M1678 631.6L1686 631.6" stroke="#000" stroke-width="2.2" fill="none"/>
<path d="M1754.3 908.3L1754.3 920M1823.3 908.3L1823.3 920M1892.3 908.3L1892.3 920M1961.3 908.3L1961.3 920M2030.3 908.3L2030.3 920" stroke="#000" stroke-width="2.2" fill="none"/>
<text x="1671" y="915.1" font-size="19.5" text-anchor="end">0</text>
<text x="1671" y="859.8" font-size="19.5" text-anchor="end">1</text>
<text x="1671" y="804.4" font-size="19.5" text-anchor="end">2</text>
<text x="1671" y="749.1" font-size="19.5" text-anchor="end">3</text>
<text x="1671" y="693.8" font-size="19.5" text-anchor="end">4</text>
<text x="1671" y="638.4" font-size="19.5" text-anchor="end">5</text>
<text x="1754.3" y="945.5" font-size="27.5" text-anchor="middle">1</text>
<text x="1823.3" y="945.5" font-size="27.5" text-anchor="middle">2</text>
<text x="1892.3" y="945.5" font-size="27.5" text-anchor="middle">3</text>
<text x="1961.3" y="945.5" font-size="27.5" text-anchor="middle">4</text>
<text x="2030.3" y="945.5" font-size="27.5" text-anchor="middle">5</text>
<text x="1899.3" y="981.8" font-size="33.5" text-anchor="middle">Cycle</text>
<text x="1601.5" y="773.7" font-size="33.6" text-anchor="middle" transform="rotate(-90 1601.5 773.7)">Fold change of <tspan font-style="italic">Sdf1</tspan></text>
<text x="1637" y="775.4" font-size="33.6" text-anchor="middle" transform="rotate(-90 1637 775.4)">expression in ECs</text>
<path d="M1754.3 836.4L1754.3 879M1747.8 836.4L1760.8 836.4M1747.8 879L1760.8 879M1823.3 830.8L1823.3 879.5M1816.8 830.8L1829.8 830.8M1816.8 879.5L1829.8 879.5M1892.3 841.9L1892.3 872.3M1885.8 841.9L1898.8 841.9M1885.8 872.3L1898.8 872.3M1961.3 835.8L1961.3 877.3M1954.8 835.8L1967.8 835.8M1954.8 877.3L1967.8 877.3M2030.3 836.9L2030.3 876.8M2023.8 836.9L2036.8 836.9M2023.8 876.8L2036.8 876.8" stroke="#4A8BF2" stroke-width="2" fill="none"/>
<path d="M1754.3 834.7L1754.3 870.7M1747.8 834.7L1760.8 834.7M1747.8 870.7L1760.8 870.7M1823.3 830.8L1823.3 873.4M1816.8 830.8L1829.8 830.8M1816.8 873.4L1829.8 873.4M1892.3 798.7L1892.3 839.1M1885.8 798.7L1898.8 798.7M1885.8 839.1L1898.8 839.1M1961.3 776.6L1961.3 826.4M1954.8 776.6L1967.8 776.6M1954.8 826.4L1967.8 826.4M2030.3 709.1L2030.3 776.6M2023.8 709.1L2036.8 709.1M2023.8 776.6L2036.8 776.6" stroke="#EF7E2D" stroke-width="2" fill="none"/>
<path d="M1754.3 858.5L1823.3 855.2L1892.3 857.4L1961.3 856.8L2030.3 856.8" stroke="#4A8BF2" stroke-width="2" fill="none"/>
<rect x="1748.8" y="853" width="11" height="11" fill="#4A8BF2"/>
<rect x="1817.8" y="849.7" width="11" height="11" fill="#4A8BF2"/>
<rect x="1886.8" y="851.9" width="11" height="11" fill="#4A8BF2"/>
<rect x="1955.8" y="851.3" width="11" height="11" fill="#4A8BF2"/>
<rect x="2024.8" y="851.3" width="11" height="11" fill="#4A8BF2"/>
<path d="M1754.3 853L1823.3 852.4L1892.3 819.8L1961.3 801.5L2030.3 743.4" stroke="#EF7E2D" stroke-width="2" fill="none"/>
<circle cx="1754.3" cy="853" r="6" fill="#EF7E2D"/>
<circle cx="1823.3" cy="852.4" r="6" fill="#EF7E2D"/>
<circle cx="1892.3" cy="819.8" r="6" fill="#EF7E2D"/>
<circle cx="1961.3" cy="801.5" r="6" fill="#EF7E2D"/>
<circle cx="2030.3" cy="743.4" r="6" fill="#EF7E2D"/>
<text x="1726" y="624" font-size="33.5" font-style="italic" fill="#E96E26">Mlkl</text>
<text x="1792.5" y="615.5" font-size="19.5" fill="#E96E26">loxP/loxP</text>
<text x="1726" y="682.5" font-size="33.5" font-style="italic" fill="#3F7FEA">Mlkl</text>
<text x="1792.5" y="673" font-size="19.5" fill="#3F7FEA">iΔEC/iΔEC</text>
<path d="M1928.7 606.7L1953.3 606.7L1953.3 664L1930 664" stroke="#000" stroke-width="2" fill="none"/>
<text x="1987" y="652" font-size="33" text-anchor="middle">****</text>
<text x="22" y="1053.5" font-size="50" font-weight="bold">e</text>
<text x="250.8" y="1076" font-size="33" text-anchor="middle">Cycle 1</text>
<text x="490.2" y="1076" font-size="33" text-anchor="middle">Cycle 2</text>
<text x="728.5" y="1076" font-size="33" text-anchor="middle">Cycle 3</text>
<text x="966.1" y="1076" font-size="33" text-anchor="middle">Cycle 4</text>
<text x="1204" y="1076" font-size="33" text-anchor="middle">Cycle 5</text>
<rect x="126.3" y="1090.2" width="226.5" height="226.3" fill="none" stroke="#9a9a9a" stroke-width="1.2"/>
<path d="M119.8 1315.8L126.3 1315.8M119.8 1272.7L126.3 1272.7M119.8 1229.5L126.3 1229.5M119.8 1186.4L126.3 1186.4M119.8 1143.2L126.3 1143.2M119.8 1100.1L126.3 1100.1M122.8 1307.2L126.3 1307.2M122.8 1298.5L126.3 1298.5M122.8 1289.9L126.3 1289.9M122.8 1281.3L126.3 1281.3M122.8 1264L126.3 1264M122.8 1255.4L126.3 1255.4M122.8 1246.8L126.3 1246.8M122.8 1238.1L126.3 1238.1M122.8 1220.9L126.3 1220.9M122.8 1212.3L126.3 1212.3M122.8 1203.6L126.3 1203.6M122.8 1195L126.3 1195M122.8 1177.8L126.3 1177.8M122.8 1169.1L126.3 1169.1M122.8 1160.5L126.3 1160.5M122.8 1151.9L126.3 1151.9M122.8 1134.6L126.3 1134.6M122.8 1126L126.3 1126M122.8 1117.4L126.3 1117.4M122.8 1108.7L126.3 1108.7M152.8 1316.5L152.8 1323.5M182.6 1316.5L182.6 1323.5M210.9 1316.5L210.9 1323.5M275.9 1316.5L275.9 1323.5M329.5 1316.5L329.5 1323.5M134.3 1316.5L134.3 1320.3M140.3 1316.5L140.3 1320.3M145.3 1316.5L145.3 1320.3M149.3 1316.5L149.3 1320.3M162.3 1316.5L162.3 1320.3M168.3 1316.5L168.3 1320.3M172.3 1316.5L172.3 1320.3M175.3 1316.5L175.3 1320.3M177.8 1316.5L177.8 1320.3M179.8 1316.5L179.8 1320.3M181.3 1316.5L181.3 1320.3M183.8 1316.5L183.8 1320.3M185.3 1316.5L185.3 1320.3M187.3 1316.5L187.3 1320.3M190.3 1316.5L190.3 1320.3M194.3 1316.5L194.3 1320.3M200.3 1316.5L200.3 1320.3M205.3 1316.5L205.3 1320.3M230.5 1316.5L230.5 1320.3M241.9 1316.5L241.9 1320.3M250 1316.5L250 1320.3M256.3 1316.5L256.3 1320.3M261.5 1316.5L261.5 1320.3M265.8 1316.5L265.8 1320.3M269.6 1316.5L269.6 1320.3M272.9 1316.5L272.9 1320.3M292 1316.5L292 1320.3M301.5 1316.5L301.5 1320.3M308.2 1316.5L308.2 1320.3" stroke="#222" stroke-width="1.3" fill="none"/>
<path d="M178.3 1316.5L178.3 1321.5M179.5 1316.5L179.5 1321.5M180.7 1316.5L180.7 1321.5M181.9 1316.5L181.9 1321.5M183.1 1316.5L183.1 1321.5M184.3 1316.5L184.3 1321.5M185.5 1316.5L185.5 1321.5" stroke="#111" stroke-width="1.3" fill="none"/>
<text x="118.3" y="1318.8" font-size="8.5" text-anchor="end">0</text>
<text x="118.3" y="1275.7" font-size="8.5" text-anchor="end">50K</text>
<text x="118.3" y="1232.5" font-size="8.5" text-anchor="end">100K</text>
<text x="118.3" y="1189.4" font-size="8.5" text-anchor="end">150K</text>
<text x="118.3" y="1146.2" font-size="8.5" text-anchor="end">200K</text>
<text x="118.3" y="1103.1" font-size="8.5" text-anchor="end">250K</text>
<text x="186.3" y="1337.5" font-size="9" text-anchor="middle">0</text>
<text x="281.8" y="1337.5" font-size="9" text-anchor="middle">10<tspan font-size="6.8" dy="-4">4</tspan></text>
<text x="335.3" y="1337.5" font-size="9" text-anchor="middle">10<tspan font-size="6.8" dy="-4">5</tspan></text>
<path d="M188.3 1277.3L186.3 1278.0L184.3 1277.4L183.6 1276.2L183.1 1272.2L187.3 1261.9L188.3 1263.5L188.6 1266.2L190.6 1270.2L188.7 1274.2L188.3 1277.3ZM188.3 1279.4L183.3 1279.6L182.4 1277.2L182.1 1272.2L184.7 1266.2L186.3 1259.3L189.3 1256.4L190.3 1256.9L190.9 1258.2L190.6 1264.2L190.8 1265.2L192.5 1267.2L192.7 1270.2L190.9 1274.2L190.3 1277.9L188.3 1279.4ZM185.3 1281.3L183.3 1281.7L182.3 1281.2L181.8 1280.2L181.7 1271.2L184.0 1266.2L185.6 1259.2L189.2 1253.2L191.3 1252.7L192.9 1253.2L194.0 1254.2L193.7 1257.2L194.5 1259.2L193.3 1261.6L192.8 1264.2L194.4 1266.2L194.1 1271.2L192.6 1274.2L192.1 1277.2L191.1 1279.2L189.3 1280.3L185.3 1281.3ZM184.3 1283.5L182.3 1283.2L181.1 1281.2L181.2 1271.2L183.7 1265.2L185.0 1259.2L187.3 1254.2L189.3 1251.5L191.3 1251.2L194.3 1252.0L195.5 1253.2L197.1 1260.2L196.5 1266.2L192.7 1279.2L190.3 1281.0L187.3 1281.9L184.3 1283.5ZM184.3 1285.3L182.3 1285.2L181.3 1284.6L180.3 1282.7L179.9 1279.2L180.5 1272.2L186.3 1254.0L189.3 1249.4L191.3 1247.6L196.3 1251.2L198.0 1253.2L199.2 1259.2L198.1 1267.2L195.4 1274.2L195.3 1277.2L194.5 1279.2L191.3 1282.0L188.4 1283.2L186.3 1284.9L184.3 1285.3ZM186.3 1286.4L182.3 1286.4L180.4 1285.2L179.8 1284.2L179.2 1280.2L180.0 1272.2L185.8 1253.2L191.3 1244.4L192.3 1243.6L193.3 1243.7L196.4 1245.2L197.2 1246.2L196.3 1248.2L196.7 1249.2L200.6 1253.2L200.9 1260.2L199.3 1268.7L197.2 1274.2L196.6 1278.2L192.3 1282.8L186.3 1286.4ZM188.3 1287.2L186.3 1287.7L182.3 1287.6L180.3 1286.5L179.3 1285.3L178.5 1280.2L179.3 1273.2L180.4 1268.2L185.3 1252.2L190.1 1243.2L192.3 1241.6L194.3 1241.4L197.3 1242.0L198.3 1242.8L199.6 1246.2L199.7 1249.2L202.3 1252.2L202.9 1257.2L202.4 1262.2L200.5 1270.2L197.4 1279.2L193.3 1283.8L188.3 1287.2ZM188.3 1289.2L185.3 1289.8L180.3 1288.2L178.2 1285.2L177.8 1279.2L179.7 1268.2L184.2 1252.2L188.2 1243.2L191.7 1240.2L193.3 1237.9L194.3 1237.6L200.5 1241.2L200.7 1244.2L203.3 1247.9L204.7 1252.2L204.8 1257.2L204.0 1263.2L202.5 1267.2L202.3 1270.2L198.9 1279.2L193.5 1286.2L188.3 1289.2ZM186.3 1292.3L180.3 1290.9L179.3 1290.2L178.3 1288.1L177.2 1285.2L177.0 1281.2L177.9 1274.2L181.9 1257.2L186.4 1244.2L192.0 1236.2L193.3 1235.2L195.3 1234.8L203.3 1239.5L205.0 1241.2L205.4 1242.2L205.1 1245.2L206.0 1249.2L207.3 1252.2L207.4 1255.2L205.8 1260.2L205.4 1264.2L203.5 1271.2L199.3 1281.0L194.3 1287.9L191.3 1289.2L188.3 1291.7L186.3 1292.3ZM186.3 1294.2L179.3 1293.7L177.7 1292.2L176.1 1284.2L176.9 1275.2L181.0 1257.2L185.5 1243.2L189.6 1236.2L193.3 1231.8L195.3 1231.1L198.3 1231.5L205.6 1237.2L207.8 1241.2L209.6 1252.2L208.7 1259.2L204.8 1272.2L199.3 1284.5L195.3 1289.4L189.6 1293.2L186.3 1294.2ZM184.3 1296.2L178.3 1295.6L176.2 1293.2L175.0 1284.2L176.0 1275.2L181.5 1251.2L184.6 1242.2L191.3 1229.6L196.3 1226.3L199.3 1226.2L201.1 1227.2L203.7 1230.2L208.3 1233.6L210.5 1237.2L212.3 1248.2L211.3 1260.2L203.4 1281.2L199.1 1288.2L195.3 1291.9L191.3 1294.7L188.3 1295.9L184.3 1296.2ZM186.3 1299.2L178.3 1299.1L176.3 1297.8L175.2 1296.2L173.9 1291.2L173.6 1285.2L174.7 1275.2L180.6 1249.2L182.7 1242.2L187.4 1231.2L189.3 1228.0L194.3 1222.1L196.9 1220.2L199.3 1219.5L202.3 1221.1L208.8 1226.2L214.0 1233.2L216.0 1241.2L216.1 1248.2L214.7 1260.2L210.6 1271.2L207.2 1278.2L205.7 1283.2L200.4 1291.2L193.3 1297.1L186.3 1299.2ZM182.3 1305.3L175.3 1303.6L174.0 1302.2L172.7 1299.2L171.4 1290.2L171.6 1283.2L172.8 1275.2L180.0 1242.2L182.2 1235.2L185.9 1226.2L190.0 1218.2L193.3 1214.0L198.3 1210.3L201.3 1210.1L205.3 1211.2L210.3 1214.2L212.3 1216.6L215.9 1219.2L219.6 1224.2L222.7 1235.2L223.3 1240.2L223.3 1245.2L222.1 1253.2L220.3 1260.2L216.0 1270.2L212.3 1277.1L209.0 1286.2L204.8 1293.2L200.3 1297.7L193.3 1302.6L188.3 1304.3L182.3 1305.3Z" fill="none" stroke="#2a2a2a" stroke-width="1" stroke-linejoin="round"/>
<path d="M192.6 1310.2L249.6 1167.9L299.7 1167.9L299.7 1310.7Z" fill="none" stroke="#DD2B25" stroke-width="1.8" stroke-linejoin="round"/>
<text x="276.3" y="1157.9" font-size="28.5" text-anchor="middle">17.0%</text>
<rect x="365.9" y="1090.2" width="226.5" height="226.3" fill="none" stroke="#9a9a9a" stroke-width="1.2"/>
<path d="M359.4 1315.8L365.9 1315.8M359.4 1272.7L365.9 1272.7M359.4 1229.5L365.9 1229.5M359.4 1186.4L365.9 1186.4M359.4 1143.2L365.9 1143.2M359.4 1100.1L365.9 1100.1M362.4 1307.2L365.9 1307.2M362.4 1298.5L365.9 1298.5M362.4 1289.9L365.9 1289.9M362.4 1281.3L365.9 1281.3M362.4 1264L365.9 1264M362.4 1255.4L365.9 1255.4M362.4 1246.8L365.9 1246.8M362.4 1238.1L365.9 1238.1M362.4 1220.9L365.9 1220.9M362.4 1212.3L365.9 1212.3M362.4 1203.6L365.9 1203.6M362.4 1195L365.9 1195M362.4 1177.8L365.9 1177.8M362.4 1169.1L365.9 1169.1M362.4 1160.5L365.9 1160.5M362.4 1151.9L365.9 1151.9M362.4 1134.6L365.9 1134.6M362.4 1126L365.9 1126M362.4 1117.4L365.9 1117.4M362.4 1108.7L365.9 1108.7M392.4 1316.5L392.4 1323.5M422.2 1316.5L422.2 1323.5M450.5 1316.5L450.5 1323.5M515.5 1316.5L515.5 1323.5M569.1 1316.5L569.1 1323.5M373.9 1316.5L373.9 1320.3M379.9 1316.5L379.9 1320.3M384.9 1316.5L384.9 1320.3M388.9 1316.5L388.9 1320.3M401.9 1316.5L401.9 1320.3M407.9 1316.5L407.9 1320.3M411.9 1316.5L411.9 1320.3M414.9 1316.5L414.9 1320.3M417.4 1316.5L417.4 1320.3M419.4 1316.5L419.4 1320.3M420.9 1316.5L420.9 1320.3M423.4 1316.5L423.4 1320.3M424.9 1316.5L424.9 1320.3M426.9 1316.5L426.9 1320.3M429.9 1316.5L429.9 1320.3M433.9 1316.5L433.9 1320.3M439.9 1316.5L439.9 1320.3M444.9 1316.5L444.9 1320.3M470.1 1316.5L470.1 1320.3M481.5 1316.5L481.5 1320.3M489.6 1316.5L489.6 1320.3M495.9 1316.5L495.9 1320.3M501.1 1316.5L501.1 1320.3M505.4 1316.5L505.4 1320.3M509.2 1316.5L509.2 1320.3M512.5 1316.5L512.5 1320.3M531.6 1316.5L531.6 1320.3M541.1 1316.5L541.1 1320.3M547.8 1316.5L547.8 1320.3" stroke="#222" stroke-width="1.3" fill="none"/>
<path d="M417.9 1316.5L417.9 1321.5M419.1 1316.5L419.1 1321.5M420.3 1316.5L420.3 1321.5M421.5 1316.5L421.5 1321.5M422.7 1316.5L422.7 1321.5M423.9 1316.5L423.9 1321.5M425.1 1316.5L425.1 1321.5" stroke="#111" stroke-width="1.3" fill="none"/>
<text x="425.9" y="1337.5" font-size="9" text-anchor="middle">0</text>
<text x="521.4" y="1337.5" font-size="9" text-anchor="middle">10<tspan font-size="6.8" dy="-4">4</tspan></text>
<text x="574.9" y="1337.5" font-size="9" text-anchor="middle">10<tspan font-size="6.8" dy="-4">5</tspan></text>
<path d="M427.9 1280.4L426.9 1280.8L424.9 1279.7L423.9 1277.2L425.0 1273.2L427.4 1271.2L427.2 1268.2L427.9 1266.3L429.9 1264.1L431.2 1265.2L431.6 1268.2L431.2 1270.2L429.2 1272.2L430.9 1276.2L430.2 1278.2L427.9 1280.4ZM428.9 1282.2L426.9 1282.9L425.4 1282.2L423.7 1280.2L423.0 1278.2L423.7 1274.2L425.6 1270.2L426.6 1266.2L428.9 1261.5L429.9 1261.0L431.9 1261.7L433.7 1263.2L434.8 1265.2L433.3 1271.2L432.2 1273.2L432.5 1277.2L428.9 1282.2ZM427.9 1284.6L425.9 1284.3L423.9 1283.0L422.4 1280.2L422.3 1277.2L425.5 1266.2L427.9 1260.2L428.9 1258.9L432.9 1257.6L433.5 1258.2L433.4 1260.2L436.2 1264.2L435.9 1267.6L433.9 1275.2L433.8 1278.2L430.9 1282.5L427.9 1284.6ZM428.9 1285.6L425.9 1285.9L422.9 1284.3L421.5 1280.2L421.3 1278.2L424.5 1266.2L427.1 1259.2L427.9 1257.9L431.9 1254.4L435.9 1256.2L436.7 1257.2L436.6 1260.2L438.0 1264.2L434.9 1279.3L432.1 1283.2L428.9 1285.6ZM428.9 1286.8L426.9 1287.1L422.9 1286.2L421.7 1284.2L420.7 1278.2L423.7 1266.2L426.7 1258.2L429.7 1254.2L430.9 1251.7L432.9 1250.6L436.9 1252.8L438.3 1254.2L440.1 1264.2L438.6 1267.2L438.4 1271.2L435.3 1282.2L434.5 1283.2L428.9 1286.8ZM427.9 1288.4L423.9 1288.2L421.9 1287.2L420.7 1284.2L420.1 1278.2L423.0 1266.2L425.9 1258.0L428.9 1253.2L430.1 1250.2L432.9 1246.5L433.9 1246.4L435.9 1249.7L439.4 1251.2L440.2 1252.2L441.5 1258.2L441.8 1264.2L439.7 1272.2L437.7 1277.2L436.8 1282.2L434.9 1284.6L427.9 1288.4ZM428.9 1289.5L423.9 1289.8L421.9 1289.1L421.1 1288.2L420.0 1284.2L419.5 1278.2L422.3 1266.2L425.5 1257.2L431.4 1245.2L433.9 1244.0L436.1 1245.2L438.6 1248.2L441.9 1249.2L442.5 1250.2L443.4 1255.2L443.2 1263.2L441.8 1270.2L439.0 1277.2L438.0 1282.2L434.9 1285.8L428.9 1289.5ZM428.9 1291.3L423.9 1291.5L421.9 1291.1L420.9 1290.3L419.5 1287.2L418.8 1278.2L422.4 1263.2L427.2 1250.2L429.6 1245.2L431.9 1242.5L436.9 1241.8L444.0 1249.2L445.7 1256.2L443.9 1269.2L440.4 1278.2L439.9 1281.2L438.8 1283.2L434.9 1287.6L430.9 1290.6L428.9 1291.3ZM427.9 1293.2L421.9 1293.1L419.9 1291.4L418.5 1288.2L418.0 1278.2L421.5 1263.2L428.0 1245.2L431.1 1240.2L433.9 1238.2L435.9 1237.6L437.9 1238.1L440.6 1240.2L444.7 1245.2L445.9 1248.2L446.2 1252.2L447.5 1256.2L446.5 1264.2L445.4 1270.2L440.4 1283.2L434.9 1290.0L431.9 1292.1L427.9 1293.2ZM426.9 1295.3L421.9 1295.1L420.2 1294.2L418.9 1292.6L417.3 1287.2L417.2 1278.2L420.8 1262.2L425.6 1247.2L429.9 1239.0L433.9 1234.7L436.9 1234.0L443.9 1237.3L447.7 1243.2L449.5 1253.2L448.8 1263.2L446.9 1271.2L441.6 1284.2L435.5 1292.2L429.9 1294.9L426.9 1295.3ZM428.9 1297.3L421.4 1297.2L419.9 1296.5L417.9 1294.3L416.9 1291.9L416.1 1287.2L416.3 1278.2L422.1 1253.2L424.0 1247.2L426.8 1241.2L432.9 1231.6L434.9 1230.3L439.9 1229.1L440.9 1229.4L446.9 1233.9L450.2 1239.2L452.5 1247.2L452.6 1253.2L451.5 1259.2L451.3 1263.2L446.2 1278.2L442.9 1285.8L436.9 1293.5L428.9 1297.3ZM426.9 1300.3L419.9 1299.8L417.9 1298.5L416.1 1296.2L415.2 1293.2L414.5 1287.2L415.1 1278.2L420.4 1253.2L422.5 1246.2L425.3 1239.2L431.9 1227.5L436.9 1223.7L439.9 1222.5L443.9 1224.6L446.1 1225.2L449.9 1228.7L454.1 1236.2L456.3 1246.2L456.2 1253.2L455.4 1259.2L452.7 1269.2L450.6 1273.2L447.3 1283.2L443.3 1290.2L439.9 1294.2L434.9 1297.7L429.9 1299.7L426.9 1300.3ZM425.9 1305.2L421.9 1305.2L418.9 1304.6L415.9 1302.6L414.2 1300.2L413.1 1297.2L412.3 1291.2L412.6 1280.2L418.5 1250.2L422.5 1237.2L429.5 1222.2L432.7 1218.2L435.9 1215.6L439.9 1213.2L441.9 1212.8L450.9 1217.0L456.0 1221.2L457.4 1223.2L462.7 1235.2L463.1 1245.2L462.3 1255.2L460.3 1262.2L457.9 1267.2L456.4 1272.2L451.9 1281.4L450.7 1285.2L445.5 1294.2L439.9 1299.8L432.9 1303.8L425.9 1305.2Z" fill="none" stroke="#2a2a2a" stroke-width="1" stroke-linejoin="round"/>
<path d="M432.2 1310.2L489.2 1167.9L539.3 1167.9L539.3 1310.7Z" fill="none" stroke="#DD2B25" stroke-width="1.8" stroke-linejoin="round"/>
<text x="521" y="1157.9" font-size="28.5" text-anchor="middle">16.7%</text>
<rect x="605.5" y="1090.2" width="226.5" height="226.3" fill="none" stroke="#9a9a9a" stroke-width="1.2"/>
<path d="M599 1315.8L605.5 1315.8M599 1272.7L605.5 1272.7M599 1229.5L605.5 1229.5M599 1186.4L605.5 1186.4M599 1143.2L605.5 1143.2M599 1100.1L605.5 1100.1M602 1307.2L605.5 1307.2M602 1298.5L605.5 1298.5M602 1289.9L605.5 1289.9M602 1281.3L605.5 1281.3M602 1264L605.5 1264M602 1255.4L605.5 1255.4M602 1246.8L605.5 1246.8M602 1238.1L605.5 1238.1M602 1220.9L605.5 1220.9M602 1212.3L605.5 1212.3M602 1203.6L605.5 1203.6M602 1195L605.5 1195M602 1177.8L605.5 1177.8M602 1169.1L605.5 1169.1M602 1160.5L605.5 1160.5M602 1151.9L605.5 1151.9M602 1134.6L605.5 1134.6M602 1126L605.5 1126M602 1117.4L605.5 1117.4M602 1108.7L605.5 1108.7M632 1316.5L632 1323.5M661.8 1316.5L661.8 1323.5M690.1 1316.5L690.1 1323.5M755.1 1316.5L755.1 1323.5M808.7 1316.5L808.7 1323.5M613.5 1316.5L613.5 1320.3M619.5 1316.5L619.5 1320.3M624.5 1316.5L624.5 1320.3M628.5 1316.5L628.5 1320.3M641.5 1316.5L641.5 1320.3M647.5 1316.5L647.5 1320.3M651.5 1316.5L651.5 1320.3M654.5 1316.5L654.5 1320.3M657 1316.5L657 1320.3M659 1316.5L659 1320.3M660.5 1316.5L660.5 1320.3M663 1316.5L663 1320.3M664.5 1316.5L664.5 1320.3M666.5 1316.5L666.5 1320.3M669.5 1316.5L669.5 1320.3M673.5 1316.5L673.5 1320.3M679.5 1316.5L679.5 1320.3M684.5 1316.5L684.5 1320.3M709.7 1316.5L709.7 1320.3M721.1 1316.5L721.1 1320.3M729.2 1316.5L729.2 1320.3M735.5 1316.5L735.5 1320.3M740.7 1316.5L740.7 1320.3M745 1316.5L745 1320.3M748.8 1316.5L748.8 1320.3M752.1 1316.5L752.1 1320.3M771.2 1316.5L771.2 1320.3M780.7 1316.5L780.7 1320.3M787.4 1316.5L787.4 1320.3" stroke="#222" stroke-width="1.3" fill="none"/>
<path d="M657.5 1316.5L657.5 1321.5M658.7 1316.5L658.7 1321.5M659.9 1316.5L659.9 1321.5M661.1 1316.5L661.1 1321.5M662.3 1316.5L662.3 1321.5M663.5 1316.5L663.5 1321.5M664.7 1316.5L664.7 1321.5" stroke="#111" stroke-width="1.3" fill="none"/>
<text x="665.5" y="1337.5" font-size="9" text-anchor="middle">0</text>
<text x="761" y="1337.5" font-size="9" text-anchor="middle">10<tspan font-size="6.8" dy="-4">4</tspan></text>
<text x="814.5" y="1337.5" font-size="9" text-anchor="middle">10<tspan font-size="6.8" dy="-4">5</tspan></text>
<path d="M669.5 1286.2L665.5 1287.0L664.5 1286.2L664.3 1285.2L665.3 1279.2L666.5 1276.2L668.4 1274.2L668.5 1272.1L668.6 1274.2L670.3 1276.2L671.2 1284.2L670.9 1285.2L669.5 1286.2ZM666.5 1288.5L664.5 1288.2L663.7 1287.2L663.4 1284.2L667.2 1271.2L668.5 1269.1L669.5 1268.6L671.5 1269.9L672.9 1274.2L672.1 1279.2L673.1 1284.2L671.5 1286.8L666.5 1288.5ZM668.5 1289.5L666.5 1290.1L663.5 1289.4L662.7 1288.2L662.6 1284.2L664.8 1275.2L667.5 1267.9L668.5 1266.8L672.5 1265.1L673.5 1266.7L674.8 1271.2L674.9 1276.2L673.8 1279.2L674.5 1284.2L672.5 1287.8L668.5 1289.5ZM668.5 1291.4L666.5 1291.6L662.5 1290.0L661.8 1288.2L662.0 1284.2L666.5 1268.1L667.5 1266.2L670.2 1264.2L671.5 1260.4L672.5 1260.2L674.9 1262.2L675.0 1266.2L677.3 1269.2L677.5 1271.2L676.3 1274.2L676.4 1277.2L675.2 1280.2L675.4 1284.2L674.5 1287.2L673.5 1288.7L668.5 1291.4ZM668.5 1292.6L665.5 1292.4L663.5 1291.7L661.8 1290.2L661.3 1288.2L661.5 1284.2L663.7 1275.2L666.5 1266.6L669.3 1263.2L670.5 1259.8L672.5 1257.8L673.5 1257.6L674.8 1258.2L678.5 1261.9L679.1 1263.2L678.6 1266.2L678.9 1271.2L676.3 1280.2L676.2 1284.2L675.2 1288.2L674.5 1289.4L668.5 1292.6ZM669.5 1293.4L665.5 1293.9L662.5 1292.5L661.5 1291.5L660.6 1289.2L661.0 1284.2L662.8 1276.2L666.2 1265.2L671.5 1256.1L672.5 1255.3L674.5 1255.2L677.2 1257.2L680.6 1262.2L680.7 1272.2L677.3 1281.2L677.1 1285.2L676.2 1289.2L674.5 1290.9L669.5 1293.4ZM666.5 1295.4L664.5 1295.2L662.5 1294.2L660.5 1291.7L659.9 1290.2L660.2 1285.2L661.6 1278.2L664.9 1266.2L670.5 1254.9L672.5 1253.1L676.5 1252.0L679.1 1254.2L681.9 1260.2L682.3 1272.2L678.8 1281.2L678.2 1286.2L676.8 1290.2L675.5 1291.6L671.5 1294.0L666.5 1295.4ZM667.5 1296.3L664.5 1296.7L661.5 1294.9L659.4 1291.2L659.6 1285.2L663.7 1267.2L665.2 1263.2L670.5 1252.2L673.5 1248.9L674.5 1248.6L680.5 1250.9L681.6 1252.2L682.0 1255.2L683.9 1260.2L683.7 1272.2L680.0 1282.2L679.2 1287.2L677.5 1290.8L673.5 1294.2L667.5 1296.3ZM668.5 1297.3L664.5 1298.1L660.9 1296.2L658.5 1291.2L658.8 1286.2L662.9 1267.2L665.0 1261.2L671.5 1247.2L673.5 1245.6L676.5 1245.4L682.4 1248.2L684.4 1252.2L684.7 1255.2L686.5 1260.2L685.4 1272.2L680.2 1288.2L678.7 1291.2L674.5 1295.2L668.5 1297.3ZM667.5 1299.3L663.5 1299.2L661.5 1298.5L659.8 1297.2L657.8 1292.2L658.0 1286.2L662.0 1267.2L668.3 1250.2L670.8 1245.2L674.5 1242.3L676.5 1241.6L682.5 1243.4L685.1 1247.2L687.5 1252.2L688.6 1260.2L687.4 1272.2L681.9 1288.2L679.5 1292.9L676.3 1296.2L667.5 1299.3ZM671.5 1300.3L664.5 1301.0L661.5 1300.4L659.5 1299.3L658.1 1297.2L656.9 1293.2L657.0 1287.2L661.0 1267.2L667.1 1249.2L668.9 1245.2L672.5 1239.6L678.5 1236.1L683.5 1238.8L687.2 1242.2L688.5 1244.2L690.5 1251.2L690.4 1254.2L691.2 1258.2L690.2 1264.2L690.1 1269.2L687.2 1280.2L681.6 1293.2L678.3 1297.2L671.5 1300.3ZM668.5 1303.3L664.5 1303.3L660.5 1302.6L657.6 1300.2L656.6 1298.2L655.5 1293.2L656.0 1286.2L660.0 1266.2L665.0 1249.2L671.5 1236.4L676.5 1231.1L678.5 1230.2L679.5 1230.4L687.4 1234.2L692.5 1241.2L694.8 1251.2L695.0 1259.2L693.7 1263.2L693.2 1269.2L691.8 1274.2L688.7 1283.2L686.4 1287.2L683.8 1294.2L680.5 1298.2L678.5 1299.8L674.5 1301.9L668.5 1303.3ZM666.5 1307.3L663.5 1307.1L658.5 1305.7L656.5 1303.9L654.7 1300.2L653.6 1295.2L653.5 1291.2L656.0 1275.2L662.1 1249.2L668.1 1234.2L672.5 1226.8L677.5 1221.5L679.5 1220.4L683.5 1220.3L692.8 1226.2L695.5 1228.8L698.2 1233.2L700.3 1239.2L700.8 1245.2L701.9 1249.2L701.0 1260.2L699.1 1265.2L698.2 1270.2L694.1 1281.2L686.4 1297.2L683.5 1300.6L677.5 1304.9L666.5 1307.3Z" fill="none" stroke="#2a2a2a" stroke-width="1" stroke-linejoin="round"/>
<path d="M671.8 1310.2L728.8 1167.9L778.9 1167.9L778.9 1310.7Z" fill="none" stroke="#DD2B25" stroke-width="1.8" stroke-linejoin="round"/>
<text x="758" y="1157.9" font-size="28.5" text-anchor="middle">11.2%</text>
<rect x="845.1" y="1090.2" width="226.5" height="226.3" fill="none" stroke="#9a9a9a" stroke-width="1.2"/>
<path d="M838.6 1315.8L845.1 1315.8M838.6 1272.7L845.1 1272.7M838.6 1229.5L845.1 1229.5M838.6 1186.4L845.1 1186.4M838.6 1143.2L845.1 1143.2M838.6 1100.1L845.1 1100.1M841.6 1307.2L845.1 1307.2M841.6 1298.5L845.1 1298.5M841.6 1289.9L845.1 1289.9M841.6 1281.3L845.1 1281.3M841.6 1264L845.1 1264M841.6 1255.4L845.1 1255.4M841.6 1246.8L845.1 1246.8M841.6 1238.1L845.1 1238.1M841.6 1220.9L845.1 1220.9M841.6 1212.3L845.1 1212.3M841.6 1203.6L845.1 1203.6M841.6 1195L845.1 1195M841.6 1177.8L845.1 1177.8M841.6 1169.1L845.1 1169.1M841.6 1160.5L845.1 1160.5M841.6 1151.9L845.1 1151.9M841.6 1134.6L845.1 1134.6M841.6 1126L845.1 1126M841.6 1117.4L845.1 1117.4M841.6 1108.7L845.1 1108.7M871.6 1316.5L871.6 1323.5M901.4 1316.5L901.4 1323.5M929.7 1316.5L929.7 1323.5M994.7 1316.5L994.7 1323.5M1048.3 1316.5L1048.3 1323.5M853.1 1316.5L853.1 1320.3M859.1 1316.5L859.1 1320.3M864.1 1316.5L864.1 1320.3M868.1 1316.5L868.1 1320.3M881.1 1316.5L881.1 1320.3M887.1 1316.5L887.1 1320.3M891.1 1316.5L891.1 1320.3M894.1 1316.5L894.1 1320.3M896.6 1316.5L896.6 1320.3M898.6 1316.5L898.6 1320.3M900.1 1316.5L900.1 1320.3M902.6 1316.5L902.6 1320.3M904.1 1316.5L904.1 1320.3M906.1 1316.5L906.1 1320.3M909.1 1316.5L909.1 1320.3M913.1 1316.5L913.1 1320.3M919.1 1316.5L919.1 1320.3M924.1 1316.5L924.1 1320.3M949.3 1316.5L949.3 1320.3M960.7 1316.5L960.7 1320.3M968.8 1316.5L968.8 1320.3M975.1 1316.5L975.1 1320.3M980.3 1316.5L980.3 1320.3M984.6 1316.5L984.6 1320.3M988.4 1316.5L988.4 1320.3M991.7 1316.5L991.7 1320.3M1010.8 1316.5L1010.8 1320.3M1020.3 1316.5L1020.3 1320.3M1027 1316.5L1027 1320.3" stroke="#222" stroke-width="1.3" fill="none"/>
<path d="M897.1 1316.5L897.1 1321.5M898.3 1316.5L898.3 1321.5M899.5 1316.5L899.5 1321.5M900.7 1316.5L900.7 1321.5M901.9 1316.5L901.9 1321.5M903.1 1316.5L903.1 1321.5M904.3 1316.5L904.3 1321.5" stroke="#111" stroke-width="1.3" fill="none"/>
<text x="905.1" y="1337.5" font-size="9" text-anchor="middle">0</text>
<text x="1000.6" y="1337.5" font-size="9" text-anchor="middle">10<tspan font-size="6.8" dy="-4">4</tspan></text>
<text x="1054.1" y="1337.5" font-size="9" text-anchor="middle">10<tspan font-size="6.8" dy="-4">5</tspan></text>
<path d="M908.1 1283.6L906.1 1283.9L905.1 1283.2L904.9 1282.2L907.1 1273.1L909.1 1270.4L910.1 1272.3L910.8 1278.2L909.3 1282.2L908.1 1283.6ZM908.1 1285.2L906.1 1285.6L905.1 1285.1L903.9 1282.2L906.8 1271.2L908.1 1268.8L910.1 1267.2L912.7 1270.2L912.2 1273.2L912.7 1277.2L912.2 1279.2L910.1 1283.2L908.1 1285.2ZM908.1 1286.5L906.1 1287.1L904.7 1286.2L903.2 1283.2L903.3 1281.2L905.6 1272.2L907.1 1268.7L909.1 1265.0L912.1 1262.7L913.1 1263.2L913.6 1266.2L915.2 1269.2L914.0 1274.2L914.1 1277.2L913.5 1279.2L910.7 1284.2L908.1 1286.5ZM907.1 1288.3L905.1 1288.1L903.9 1287.2L902.6 1283.2L903.1 1279.2L905.3 1271.2L908.1 1264.6L911.1 1261.1L913.1 1260.7L914.9 1262.2L916.7 1267.2L915.0 1277.2L914.1 1280.0L911.1 1285.5L907.1 1288.3ZM908.1 1289.3L906.1 1289.9L904.1 1289.4L903.1 1288.5L902.1 1284.1L902.1 1281.2L904.6 1271.2L907.1 1264.4L910.1 1260.1L912.1 1258.3L916.1 1260.5L918.0 1265.2L918.3 1267.2L917.3 1271.2L917.0 1275.2L914.6 1281.2L912.0 1286.2L908.1 1289.3ZM906.1 1291.3L903.1 1290.4L902.2 1289.2L901.4 1283.2L901.7 1280.2L904.2 1270.2L906.3 1264.2L910.1 1257.8L913.1 1255.2L917.1 1258.7L918.4 1261.2L919.4 1266.2L918.2 1275.2L914.5 1284.2L912.6 1287.2L910.2 1289.2L906.1 1291.3ZM907.1 1292.5L905.1 1292.8L902.1 1291.2L900.9 1287.2L900.9 1281.2L903.5 1270.2L905.9 1263.2L911.1 1254.7L912.1 1253.5L914.1 1253.1L917.1 1254.5L919.8 1260.2L920.5 1265.2L919.3 1275.2L915.1 1286.2L912.1 1289.4L907.1 1292.5ZM906.1 1294.4L903.1 1293.9L901.1 1291.8L900.1 1287.2L900.3 1281.2L902.8 1270.2L905.1 1263.2L908.1 1257.1L911.1 1252.6L912.1 1251.5L914.1 1250.8L918.3 1252.2L921.4 1258.2L922.0 1263.2L920.3 1276.2L916.0 1287.2L912.1 1291.2L906.1 1294.4ZM908.1 1295.5L904.1 1295.8L902.1 1295.2L901.0 1294.2L900.1 1292.2L899.3 1287.2L899.5 1282.2L902.0 1270.2L904.6 1262.2L909.7 1252.2L912.1 1248.9L914.1 1247.8L919.1 1250.0L920.3 1251.2L923.6 1257.2L924.1 1262.2L921.3 1277.2L918.0 1286.2L913.1 1292.8L908.1 1295.5ZM907.1 1297.3L902.1 1297.0L899.9 1295.2L898.5 1287.2L899.0 1281.2L902.6 1265.2L906.4 1255.2L911.1 1247.0L914.1 1244.9L916.1 1244.8L918.1 1245.6L921.1 1248.1L924.6 1253.2L925.9 1257.2L926.0 1263.2L922.7 1277.2L919.0 1287.2L914.1 1294.1L910.1 1296.4L907.1 1297.3ZM907.1 1299.2L904.1 1299.4L901.1 1298.7L898.7 1296.2L897.9 1293.2L897.5 1287.2L898.0 1282.2L901.9 1264.2L904.1 1257.2L906.7 1251.2L909.1 1246.5L911.1 1244.2L914.1 1241.8L917.1 1241.3L922.1 1243.5L926.7 1250.2L927.8 1254.2L928.3 1263.2L925.1 1275.2L920.1 1288.2L915.1 1295.2L911.1 1297.8L907.1 1299.2ZM909.1 1301.3L906.1 1302.0L901.1 1301.6L899.1 1300.5L898.1 1299.2L896.4 1293.2L896.5 1284.2L901.3 1261.2L905.3 1250.2L908.5 1243.2L912.1 1238.2L916.1 1235.9L918.1 1235.8L925.1 1239.0L929.3 1246.2L931.4 1254.2L930.8 1263.2L929.9 1268.2L927.5 1275.2L920.7 1291.2L916.1 1297.0L912.1 1299.9L909.1 1301.3ZM907.1 1306.2L902.1 1306.4L898.1 1305.1L896.1 1302.7L894.7 1298.2L894.2 1293.2L894.4 1286.2L898.7 1263.2L901.5 1252.2L905.6 1241.2L909.0 1235.2L912.9 1230.2L915.1 1228.6L919.1 1227.4L923.1 1227.8L925.1 1228.8L930.1 1233.2L934.3 1239.2L935.6 1243.2L936.8 1251.2L936.1 1259.2L934.8 1265.2L931.9 1274.2L923.6 1293.2L919.3 1299.2L917.1 1301.3L911.1 1304.9L907.1 1306.2Z" fill="none" stroke="#2a2a2a" stroke-width="1" stroke-linejoin="round"/>
<path d="M911.4 1310.2L968.4 1167.9L1018.5 1167.9L1018.5 1310.7Z" fill="none" stroke="#DD2B25" stroke-width="1.8" stroke-linejoin="round"/>
<text x="997" y="1157.9" font-size="28.5" text-anchor="middle">8.6%</text>
<rect x="1084.7" y="1090.2" width="226.5" height="226.3" fill="none" stroke="#9a9a9a" stroke-width="1.2"/>
<path d="M1078.2 1315.8L1084.7 1315.8M1078.2 1272.7L1084.7 1272.7M1078.2 1229.5L1084.7 1229.5M1078.2 1186.4L1084.7 1186.4M1078.2 1143.2L1084.7 1143.2M1078.2 1100.1L1084.7 1100.1M1081.2 1307.2L1084.7 1307.2M1081.2 1298.5L1084.7 1298.5M1081.2 1289.9L1084.7 1289.9M1081.2 1281.3L1084.7 1281.3M1081.2 1264L1084.7 1264M1081.2 1255.4L1084.7 1255.4M1081.2 1246.8L1084.7 1246.8M1081.2 1238.1L1084.7 1238.1M1081.2 1220.9L1084.7 1220.9M1081.2 1212.3L1084.7 1212.3M1081.2 1203.6L1084.7 1203.6M1081.2 1195L1084.7 1195M1081.2 1177.8L1084.7 1177.8M1081.2 1169.1L1084.7 1169.1M1081.2 1160.5L1084.7 1160.5M1081.2 1151.9L1084.7 1151.9M1081.2 1134.6L1084.7 1134.6M1081.2 1126L1084.7 1126M1081.2 1117.4L1084.7 1117.4M1081.2 1108.7L1084.7 1108.7M1111.2 1316.5L1111.2 1323.5M1141 1316.5L1141 1323.5M1169.3 1316.5L1169.3 1323.5M1234.3 1316.5L1234.3 1323.5M1287.9 1316.5L1287.9 1323.5M1092.7 1316.5L1092.7 1320.3M1098.7 1316.5L1098.7 1320.3M1103.7 1316.5L1103.7 1320.3M1107.7 1316.5L1107.7 1320.3M1120.7 1316.5L1120.7 1320.3M1126.7 1316.5L1126.7 1320.3M1130.7 1316.5L1130.7 1320.3M1133.7 1316.5L1133.7 1320.3M1136.2 1316.5L1136.2 1320.3M1138.2 1316.5L1138.2 1320.3M1139.7 1316.5L1139.7 1320.3M1142.2 1316.5L1142.2 1320.3M1143.7 1316.5L1143.7 1320.3M1145.7 1316.5L1145.7 1320.3M1148.7 1316.5L1148.7 1320.3M1152.7 1316.5L1152.7 1320.3M1158.7 1316.5L1158.7 1320.3M1163.7 1316.5L1163.7 1320.3M1188.9 1316.5L1188.9 1320.3M1200.3 1316.5L1200.3 1320.3M1208.4 1316.5L1208.4 1320.3M1214.7 1316.5L1214.7 1320.3M1219.9 1316.5L1219.9 1320.3M1224.2 1316.5L1224.2 1320.3M1228 1316.5L1228 1320.3M1231.3 1316.5L1231.3 1320.3M1250.4 1316.5L1250.4 1320.3M1259.9 1316.5L1259.9 1320.3M1266.6 1316.5L1266.6 1320.3" stroke="#222" stroke-width="1.3" fill="none"/>
<path d="M1136.7 1316.5L1136.7 1321.5M1137.9 1316.5L1137.9 1321.5M1139.1 1316.5L1139.1 1321.5M1140.3 1316.5L1140.3 1321.5M1141.5 1316.5L1141.5 1321.5M1142.7 1316.5L1142.7 1321.5M1143.9 1316.5L1143.9 1321.5" stroke="#111" stroke-width="1.3" fill="none"/>
<text x="1144.7" y="1337.5" font-size="9" text-anchor="middle">0</text>
<text x="1240.2" y="1337.5" font-size="9" text-anchor="middle">10<tspan font-size="6.8" dy="-4">4</tspan></text>
<text x="1293.7" y="1337.5" font-size="9" text-anchor="middle">10<tspan font-size="6.8" dy="-4">5</tspan></text>
<path d="M1145.7 1298.3L1142.8 1298.2L1142.3 1297.2L1143.2 1295.2L1143.7 1291.2L1146.2 1287.2L1145.7 1284.2L1146.7 1282.9L1147.7 1282.5L1148.7 1282.8L1149.3 1284.2L1148.7 1286.1L1146.8 1288.2L1147.2 1292.2L1145.7 1298.3ZM1150.7 1276.5L1149.5 1276.2L1150.7 1275.2L1150.7 1276.5ZM1145.7 1299.3L1142.7 1299.0L1141.4 1297.2L1142.7 1291.8L1144.6 1287.2L1145.2 1283.2L1147.7 1280.5L1149.7 1280.5L1150.9 1282.2L1150.7 1285.1L1148.7 1289.2L1147.5 1298.2L1145.7 1299.3ZM1146.7 1299.6L1142.7 1299.5L1141.2 1298.2L1140.9 1297.2L1144.0 1287.2L1144.6 1283.2L1146.4 1280.2L1147.9 1275.2L1149.7 1273.2L1150.7 1273.2L1151.7 1273.7L1152.6 1275.2L1151.8 1279.2L1151.7 1284.2L1149.8 1289.2L1148.3 1298.2L1146.7 1299.6ZM1146.7 1300.2L1143.7 1300.2L1141.7 1299.5L1140.6 1298.2L1140.5 1296.2L1143.2 1287.2L1143.7 1283.9L1146.7 1275.3L1149.7 1270.3L1151.7 1268.2L1152.7 1268.3L1152.6 1272.2L1153.8 1275.2L1152.8 1283.2L1150.9 1289.2L1149.1 1298.2L1148.6 1299.2L1146.7 1300.2ZM1147.7 1300.5L1144.7 1300.8L1141.7 1300.0L1140.0 1298.2L1139.9 1296.2L1145.7 1275.8L1151.7 1263.9L1152.7 1262.9L1154.0 1264.2L1154.7 1268.2L1154.4 1280.2L1151.8 1289.2L1151.3 1293.2L1150.2 1297.2L1149.4 1299.2L1147.7 1300.5ZM1146.7 1301.2L1143.7 1301.1L1141.2 1300.2L1139.5 1298.2L1139.4 1296.2L1145.2 1275.2L1150.7 1262.5L1152.7 1259.9L1154.8 1261.2L1156.0 1263.2L1155.5 1280.2L1152.8 1288.2L1151.9 1294.2L1150.2 1299.2L1148.7 1300.7L1146.7 1301.2ZM1148.7 1301.3L1144.7 1301.7L1141.7 1301.0L1139.6 1299.2L1138.9 1296.2L1144.2 1276.2L1146.8 1269.2L1151.7 1257.8L1152.7 1256.7L1154.7 1256.4L1157.7 1259.5L1158.5 1261.2L1157.2 1267.2L1156.7 1279.2L1153.7 1288.6L1152.1 1296.2L1150.4 1300.2L1148.7 1301.3ZM1149.7 1301.5L1145.7 1302.1L1141.7 1301.4L1139.0 1299.2L1138.4 1296.2L1143.3 1277.2L1146.7 1267.4L1150.7 1257.2L1152.9 1254.2L1153.9 1251.2L1155.7 1249.4L1156.7 1249.6L1157.6 1251.2L1160.0 1261.2L1158.1 1271.2L1158.1 1276.2L1157.4 1280.2L1152.4 1297.2L1151.2 1300.2L1149.7 1301.5ZM1148.7 1302.4L1144.7 1302.6L1140.7 1301.4L1138.5 1299.2L1137.8 1296.2L1142.9 1276.2L1150.0 1256.2L1153.7 1248.7L1155.7 1246.8L1157.7 1245.9L1158.7 1246.4L1159.7 1248.2L1161.4 1258.2L1161.4 1261.2L1159.0 1277.2L1152.2 1300.2L1150.7 1301.7L1148.7 1302.4ZM1145.7 1303.2L1142.7 1302.8L1139.7 1301.4L1137.8 1299.2L1137.2 1296.2L1142.4 1275.2L1150.7 1251.2L1155.4 1243.2L1156.7 1242.1L1158.7 1241.7L1160.5 1243.2L1162.3 1246.2L1163.3 1255.2L1163.2 1261.2L1161.9 1266.2L1160.1 1278.2L1153.3 1300.2L1150.7 1302.7L1145.7 1303.2ZM1150.7 1303.5L1144.7 1303.8L1140.7 1302.8L1137.7 1300.2L1136.7 1298.2L1136.5 1296.2L1141.6 1275.2L1150.5 1248.2L1153.3 1242.2L1155.7 1239.2L1156.7 1236.7L1158.7 1234.8L1160.7 1234.4L1161.9 1235.2L1164.5 1239.2L1165.3 1242.2L1165.7 1249.2L1165.1 1260.2L1161.4 1278.2L1158.2 1289.2L1153.9 1301.2L1150.7 1303.5ZM1151.7 1304.3L1145.7 1304.8L1140.7 1303.7L1138.4 1302.2L1136.7 1300.2L1135.8 1298.2L1135.6 1296.2L1141.0 1273.2L1150.1 1244.2L1157.9 1229.2L1160.7 1227.3L1163.7 1227.2L1165.7 1228.1L1166.5 1229.2L1169.0 1238.2L1168.5 1252.2L1165.3 1270.2L1158.2 1294.2L1155.1 1302.2L1151.7 1304.3ZM1149.7 1306.2L1142.7 1305.8L1137.7 1303.5L1135.0 1300.2L1134.2 1298.2L1134.3 1295.2L1142.4 1260.2L1149.4 1238.2L1154.2 1226.2L1157.3 1221.2L1162.7 1214.7L1164.7 1213.8L1166.7 1213.7L1169.1 1215.2L1171.3 1218.2L1172.1 1222.2L1174.0 1227.2L1174.3 1239.2L1172.9 1251.2L1167.1 1275.2L1161.1 1294.2L1157.9 1302.2L1156.7 1303.8L1154.7 1305.1L1149.7 1306.2Z" fill="none" stroke="#2a2a2a" stroke-width="1" stroke-linejoin="round"/>
<path d="M1151 1310.2L1208 1167.9L1258.1 1167.9L1258.1 1310.7Z" fill="none" stroke="#DD2B25" stroke-width="1.8" stroke-linejoin="round"/>
<text x="1235" y="1157.9" font-size="28.5" text-anchor="middle">3.2%</text>
<rect x="126.3" y="1346.8" width="226.5" height="226.3" fill="none" stroke="#9a9a9a" stroke-width="1.2"/>
<path d="M119.8 1572.4L126.3 1572.4M119.8 1529.3L126.3 1529.3M119.8 1486.1L126.3 1486.1M119.8 1443L126.3 1443M119.8 1399.8L126.3 1399.8M119.8 1356.7L126.3 1356.7M122.8 1563.8L126.3 1563.8M122.8 1555.1L126.3 1555.1M122.8 1546.5L126.3 1546.5M122.8 1537.9L126.3 1537.9M122.8 1520.6L126.3 1520.6M122.8 1512L126.3 1512M122.8 1503.4L126.3 1503.4M122.8 1494.7L126.3 1494.7M122.8 1477.5L126.3 1477.5M122.8 1468.9L126.3 1468.9M122.8 1460.2L126.3 1460.2M122.8 1451.6L126.3 1451.6M122.8 1434.4L126.3 1434.4M122.8 1425.7L126.3 1425.7M122.8 1417.1L126.3 1417.1M122.8 1408.5L126.3 1408.5M122.8 1391.2L126.3 1391.2M122.8 1382.6L126.3 1382.6M122.8 1374L126.3 1374M122.8 1365.3L126.3 1365.3M152.8 1573.1L152.8 1580.1M182.6 1573.1L182.6 1580.1M210.9 1573.1L210.9 1580.1M275.9 1573.1L275.9 1580.1M329.5 1573.1L329.5 1580.1M134.3 1573.1L134.3 1576.9M140.3 1573.1L140.3 1576.9M145.3 1573.1L145.3 1576.9M149.3 1573.1L149.3 1576.9M162.3 1573.1L162.3 1576.9M168.3 1573.1L168.3 1576.9M172.3 1573.1L172.3 1576.9M175.3 1573.1L175.3 1576.9M177.8 1573.1L177.8 1576.9M179.8 1573.1L179.8 1576.9M181.3 1573.1L181.3 1576.9M183.8 1573.1L183.8 1576.9M185.3 1573.1L185.3 1576.9M187.3 1573.1L187.3 1576.9M190.3 1573.1L190.3 1576.9M194.3 1573.1L194.3 1576.9M200.3 1573.1L200.3 1576.9M205.3 1573.1L205.3 1576.9M230.5 1573.1L230.5 1576.9M241.9 1573.1L241.9 1576.9M250 1573.1L250 1576.9M256.3 1573.1L256.3 1576.9M261.5 1573.1L261.5 1576.9M265.8 1573.1L265.8 1576.9M269.6 1573.1L269.6 1576.9M272.9 1573.1L272.9 1576.9M292 1573.1L292 1576.9M301.5 1573.1L301.5 1576.9M308.2 1573.1L308.2 1576.9" stroke="#222" stroke-width="1.3" fill="none"/>
<path d="M178.3 1573.1L178.3 1578.1M179.5 1573.1L179.5 1578.1M180.7 1573.1L180.7 1578.1M181.9 1573.1L181.9 1578.1M183.1 1573.1L183.1 1578.1M184.3 1573.1L184.3 1578.1M185.5 1573.1L185.5 1578.1" stroke="#111" stroke-width="1.3" fill="none"/>
<text x="118.3" y="1575.4" font-size="8.5" text-anchor="end">0</text>
<text x="118.3" y="1532.3" font-size="8.5" text-anchor="end">50K</text>
<text x="118.3" y="1489.1" font-size="8.5" text-anchor="end">100K</text>
<text x="118.3" y="1446" font-size="8.5" text-anchor="end">150K</text>
<text x="118.3" y="1402.8" font-size="8.5" text-anchor="end">200K</text>
<text x="118.3" y="1359.7" font-size="8.5" text-anchor="end">250K</text>
<text x="186.3" y="1594.1" font-size="9" text-anchor="middle">0</text>
<text x="281.8" y="1594.1" font-size="9" text-anchor="middle">10<tspan font-size="6.8" dy="-4">4</tspan></text>
<text x="335.3" y="1594.1" font-size="9" text-anchor="middle">10<tspan font-size="6.8" dy="-4">5</tspan></text>
<path d="M192.3 1516.0L188.3 1516.5L187.7 1515.8L187.2 1513.8L187.3 1510.8L192.3 1499.4L194.3 1499.4L196.3 1498.3L197.3 1498.8L197.4 1499.8L196.0 1501.8L196.3 1506.3L195.3 1508.4L193.6 1509.8L193.8 1514.8L192.3 1516.0ZM191.3 1517.9L188.3 1518.5L187.0 1517.8L186.3 1515.8L186.6 1510.8L190.3 1501.8L190.8 1498.8L192.3 1496.8L193.3 1492.1L194.3 1490.7L196.3 1489.9L197.6 1490.8L197.6 1495.8L199.4 1501.8L196.6 1510.8L196.3 1514.9L194.6 1516.8L191.3 1517.9ZM192.3 1520.0L188.3 1520.4L186.3 1519.4L185.3 1516.8L185.8 1510.8L189.4 1500.8L189.9 1497.8L193.2 1489.8L195.3 1487.8L198.3 1486.9L202.3 1491.8L200.1 1495.8L200.1 1497.8L201.4 1500.8L201.4 1503.8L199.1 1507.8L198.2 1514.8L197.4 1516.8L195.3 1518.7L192.3 1520.0ZM191.3 1522.1L187.3 1522.1L185.8 1520.8L184.4 1516.8L185.1 1510.8L188.4 1500.8L189.2 1496.8L192.3 1488.6L194.9 1485.8L197.3 1481.4L198.3 1481.6L200.3 1483.6L201.5 1487.8L204.2 1491.8L204.1 1493.8L202.5 1495.8L203.2 1498.8L203.1 1503.8L200.3 1510.5L199.7 1514.8L198.5 1517.8L196.3 1519.7L191.3 1522.1ZM191.3 1523.9L187.3 1523.7L185.3 1522.8L183.7 1516.8L184.4 1510.8L188.3 1496.3L191.3 1487.6L193.4 1484.8L194.9 1480.8L197.3 1478.8L199.3 1478.2L205.1 1482.8L205.2 1483.8L203.8 1486.8L206.0 1492.8L204.4 1496.8L204.8 1499.8L204.3 1504.8L201.7 1511.8L200.1 1517.8L197.3 1520.5L193.3 1523.2L191.3 1523.9ZM193.3 1524.9L190.3 1525.7L185.9 1524.8L184.3 1523.7L183.0 1516.8L183.7 1510.8L187.5 1495.8L190.4 1486.8L193.3 1480.8L195.9 1477.8L197.2 1474.8L198.3 1474.0L200.3 1473.6L202.9 1476.8L205.4 1477.8L207.7 1481.8L207.5 1492.8L206.2 1496.8L206.3 1499.8L205.1 1506.8L203.0 1511.8L201.5 1517.8L195.3 1523.8L193.3 1524.9ZM192.3 1527.0L190.3 1527.4L185.3 1526.3L183.3 1524.5L182.7 1522.8L182.3 1516.8L183.1 1509.8L186.9 1494.8L191.8 1480.8L194.3 1477.8L195.7 1473.8L198.3 1470.2L199.3 1469.2L201.3 1468.5L206.4 1473.8L209.8 1480.8L209.6 1491.8L206.2 1507.8L204.0 1512.8L203.0 1517.8L196.8 1524.8L192.3 1527.0ZM192.3 1529.0L190.3 1529.3L184.3 1528.0L182.5 1525.8L181.5 1520.8L181.5 1515.8L182.3 1509.8L186.0 1494.8L190.6 1480.8L193.3 1476.8L194.6 1472.8L196.3 1469.8L200.3 1465.3L202.3 1464.6L206.3 1466.6L207.5 1469.8L209.4 1471.8L210.4 1473.8L212.3 1480.8L211.8 1484.8L212.0 1491.8L210.5 1498.8L208.3 1504.0L207.7 1507.8L206.2 1510.8L204.2 1518.8L198.3 1526.0L192.3 1529.0ZM191.3 1531.1L184.3 1530.2L181.8 1527.8L180.5 1521.8L180.7 1514.8L181.5 1509.8L185.4 1493.8L189.8 1479.8L192.2 1475.8L193.9 1470.8L199.3 1462.8L201.3 1461.5L203.3 1461.3L208.3 1463.0L211.5 1467.8L214.5 1476.8L214.2 1490.8L212.6 1498.8L208.1 1510.8L207.7 1513.8L205.3 1520.5L198.7 1527.8L191.3 1531.1ZM191.3 1533.0L186.3 1533.1L184.3 1532.6L182.3 1531.2L180.7 1528.8L179.8 1525.8L179.4 1520.8L180.5 1509.8L187.2 1482.8L191.0 1474.8L192.1 1470.8L196.9 1461.8L200.6 1456.8L202.3 1455.3L204.3 1454.9L207.3 1455.8L210.4 1457.8L215.4 1466.8L215.3 1470.8L217.4 1475.8L216.5 1490.8L214.1 1500.8L206.5 1521.8L201.9 1527.8L196.3 1531.1L191.3 1533.0ZM193.3 1534.9L185.3 1535.6L183.3 1534.8L181.3 1533.1L179.3 1529.8L178.5 1526.8L178.1 1520.8L178.5 1514.8L185.8 1482.8L191.0 1468.8L194.6 1460.8L198.1 1454.8L200.3 1452.5L205.3 1450.2L208.3 1450.3L211.3 1452.2L214.3 1453.2L218.4 1459.8L221.1 1474.8L219.1 1491.8L216.4 1501.8L213.0 1509.8L211.7 1514.8L207.3 1524.2L203.3 1529.7L197.3 1533.2L193.3 1534.9ZM188.3 1539.0L184.3 1539.1L182.3 1538.3L180.3 1536.6L177.3 1530.8L176.6 1526.8L176.9 1515.8L182.1 1490.8L184.4 1481.8L189.0 1467.8L193.9 1455.8L197.3 1449.8L199.4 1446.8L204.3 1442.3L207.3 1441.2L211.3 1441.8L214.8 1443.8L218.9 1447.8L224.0 1458.8L225.5 1472.8L224.2 1484.8L222.6 1491.8L216.9 1508.8L208.6 1527.8L204.3 1532.5L200.3 1535.3L194.3 1538.0L188.3 1539.0ZM193.3 1543.8L188.3 1544.3L182.3 1543.5L179.3 1542.1L177.2 1539.8L174.8 1533.8L174.1 1530.8L173.8 1524.8L174.7 1514.8L181.5 1481.8L187.1 1461.8L191.5 1449.8L197.9 1437.8L203.1 1431.8L208.3 1427.8L211.3 1428.2L214.3 1427.9L220.1 1430.8L223.7 1435.8L227.3 1438.7L231.8 1449.8L232.9 1454.8L233.3 1467.8L232.0 1476.8L230.0 1486.8L226.2 1498.8L214.2 1527.8L207.9 1535.8L204.3 1538.7L196.3 1543.0L193.3 1543.8Z" fill="none" stroke="#2a2a2a" stroke-width="1" stroke-linejoin="round"/>
<path d="M191.8 1565L249.3 1422L299.8 1422L299.8 1565.3Z" fill="none" stroke="#DD2B25" stroke-width="1.8" stroke-linejoin="round"/>
<text x="270" y="1413.6" font-size="28.5" text-anchor="middle">16.7%</text>
<rect x="365.9" y="1346.8" width="226.5" height="226.3" fill="none" stroke="#9a9a9a" stroke-width="1.2"/>
<path d="M359.4 1572.4L365.9 1572.4M359.4 1529.3L365.9 1529.3M359.4 1486.1L365.9 1486.1M359.4 1443L365.9 1443M359.4 1399.8L365.9 1399.8M359.4 1356.7L365.9 1356.7M362.4 1563.8L365.9 1563.8M362.4 1555.1L365.9 1555.1M362.4 1546.5L365.9 1546.5M362.4 1537.9L365.9 1537.9M362.4 1520.6L365.9 1520.6M362.4 1512L365.9 1512M362.4 1503.4L365.9 1503.4M362.4 1494.7L365.9 1494.7M362.4 1477.5L365.9 1477.5M362.4 1468.9L365.9 1468.9M362.4 1460.2L365.9 1460.2M362.4 1451.6L365.9 1451.6M362.4 1434.4L365.9 1434.4M362.4 1425.7L365.9 1425.7M362.4 1417.1L365.9 1417.1M362.4 1408.5L365.9 1408.5M362.4 1391.2L365.9 1391.2M362.4 1382.6L365.9 1382.6M362.4 1374L365.9 1374M362.4 1365.3L365.9 1365.3M392.4 1573.1L392.4 1580.1M422.2 1573.1L422.2 1580.1M450.5 1573.1L450.5 1580.1M515.5 1573.1L515.5 1580.1M569.1 1573.1L569.1 1580.1M373.9 1573.1L373.9 1576.9M379.9 1573.1L379.9 1576.9M384.9 1573.1L384.9 1576.9M388.9 1573.1L388.9 1576.9M401.9 1573.1L401.9 1576.9M407.9 1573.1L407.9 1576.9M411.9 1573.1L411.9 1576.9M414.9 1573.1L414.9 1576.9M417.4 1573.1L417.4 1576.9M419.4 1573.1L419.4 1576.9M420.9 1573.1L420.9 1576.9M423.4 1573.1L423.4 1576.9M424.9 1573.1L424.9 1576.9M426.9 1573.1L426.9 1576.9M429.9 1573.1L429.9 1576.9M433.9 1573.1L433.9 1576.9M439.9 1573.1L439.9 1576.9M444.9 1573.1L444.9 1576.9M470.1 1573.1L470.1 1576.9M481.5 1573.1L481.5 1576.9M489.6 1573.1L489.6 1576.9M495.9 1573.1L495.9 1576.9M501.1 1573.1L501.1 1576.9M505.4 1573.1L505.4 1576.9M509.2 1573.1L509.2 1576.9M512.5 1573.1L512.5 1576.9M531.6 1573.1L531.6 1576.9M541.1 1573.1L541.1 1576.9M547.8 1573.1L547.8 1576.9" stroke="#222" stroke-width="1.3" fill="none"/>
<path d="M417.9 1573.1L417.9 1578.1M419.1 1573.1L419.1 1578.1M420.3 1573.1L420.3 1578.1M421.5 1573.1L421.5 1578.1M422.7 1573.1L422.7 1578.1M423.9 1573.1L423.9 1578.1M425.1 1573.1L425.1 1578.1" stroke="#111" stroke-width="1.3" fill="none"/>
<text x="425.9" y="1594.1" font-size="9" text-anchor="middle">0</text>
<text x="521.4" y="1594.1" font-size="9" text-anchor="middle">10<tspan font-size="6.8" dy="-4">4</tspan></text>
<text x="574.9" y="1594.1" font-size="9" text-anchor="middle">10<tspan font-size="6.8" dy="-4">5</tspan></text>
<path d="M431.9 1513.9L430.9 1513.8L429.7 1511.8L430.0 1505.8L433.9 1495.8L434.9 1495.3L435.6 1496.8L437.9 1498.6L438.2 1499.8L436.3 1509.8L431.9 1513.9ZM430.9 1517.9L428.6 1516.8L428.3 1511.8L428.9 1505.8L432.9 1494.3L436.9 1489.3L438.3 1490.8L438.9 1494.3L440.2 1496.8L438.5 1506.8L438.4 1510.8L436.6 1513.8L433.4 1515.8L431.9 1517.7L430.9 1517.9ZM432.9 1520.0L430.9 1520.2L427.9 1518.6L427.0 1516.8L427.2 1511.8L428.3 1504.8L431.9 1494.1L434.0 1490.8L434.9 1487.6L436.9 1486.1L439.9 1487.3L441.3 1488.8L442.3 1496.8L441.4 1499.8L441.1 1503.8L439.9 1507.3L439.7 1511.8L437.9 1514.8L432.9 1520.0ZM433.9 1521.2L429.9 1521.5L426.9 1519.8L425.9 1516.8L426.0 1512.8L427.9 1503.5L431.4 1492.8L433.1 1489.8L433.7 1486.8L436.4 1483.8L438.9 1482.7L442.7 1484.8L444.5 1487.8L443.8 1491.8L444.0 1496.8L443.1 1499.8L443.1 1503.8L440.2 1513.8L437.9 1517.4L433.9 1521.2ZM431.9 1523.0L427.9 1522.5L425.9 1521.1L424.9 1516.8L425.3 1511.8L427.9 1500.8L432.9 1485.8L438.9 1478.4L440.9 1478.0L442.6 1478.8L444.9 1482.4L446.6 1486.8L445.7 1492.8L445.9 1496.8L444.9 1500.4L444.5 1504.8L441.5 1513.8L438.9 1518.6L435.5 1521.8L431.9 1523.0ZM433.9 1524.0L430.9 1524.4L426.9 1523.6L425.6 1522.8L424.5 1520.8L424.2 1518.8L424.5 1511.8L427.7 1498.8L431.9 1485.4L437.9 1475.0L439.9 1474.0L443.9 1474.3L445.9 1475.8L446.0 1479.8L448.1 1486.8L447.7 1496.8L445.4 1506.8L441.0 1517.8L438.0 1521.8L433.9 1524.0ZM433.9 1525.8L431.9 1526.1L426.9 1525.3L424.9 1523.9L423.5 1520.8L423.3 1513.8L425.3 1504.8L430.9 1485.0L437.9 1470.9L440.9 1469.7L446.9 1472.5L449.2 1475.8L449.5 1477.8L448.8 1480.8L449.9 1487.8L449.6 1494.8L446.9 1506.8L442.1 1518.8L439.0 1522.8L433.9 1525.8ZM431.9 1527.8L426.9 1527.2L423.9 1524.6L422.7 1520.8L422.7 1512.8L429.8 1484.8L435.9 1470.8L436.9 1468.9L438.9 1467.1L441.9 1465.7L443.9 1465.5L449.0 1469.8L452.2 1477.8L451.5 1494.8L448.6 1506.8L443.4 1519.8L440.9 1523.0L437.9 1525.4L434.9 1527.1L431.9 1527.8ZM434.9 1529.0L428.9 1529.6L425.9 1529.1L424.4 1527.8L422.0 1522.8L421.7 1513.8L423.6 1504.8L428.8 1484.8L435.0 1468.8L436.9 1465.9L440.9 1461.8L442.9 1460.5L443.9 1460.4L447.9 1462.4L452.5 1467.8L452.6 1470.8L455.1 1477.8L454.5 1486.8L453.4 1494.8L450.6 1505.8L445.4 1519.8L440.9 1525.3L434.9 1529.0ZM434.9 1531.1L432.9 1531.7L427.9 1531.7L424.9 1531.0L423.9 1530.2L421.9 1526.6L420.9 1522.8L420.6 1517.8L421.0 1512.8L428.0 1483.8L433.8 1467.8L436.9 1462.5L439.9 1458.7L442.9 1456.0L444.9 1455.4L446.9 1456.9L449.9 1457.2L451.9 1458.2L453.1 1459.8L456.6 1467.8L457.5 1478.8L456.9 1488.8L452.4 1505.8L446.6 1520.8L440.9 1527.5L434.9 1531.1ZM434.9 1533.9L431.9 1534.5L426.9 1534.4L423.9 1533.4L422.3 1531.8L420.5 1527.8L419.4 1522.8L419.3 1517.8L420.0 1511.8L427.0 1482.8L432.3 1466.8L435.9 1459.8L438.9 1455.4L441.9 1452.2L445.9 1449.4L449.9 1449.3L457.2 1456.8L459.8 1462.8L460.5 1482.8L459.5 1489.8L454.4 1506.8L447.8 1522.8L441.5 1529.8L434.9 1533.9ZM433.9 1537.1L430.9 1537.7L424.9 1537.4L422.9 1536.5L420.9 1534.6L418.9 1529.8L417.9 1524.8L417.7 1518.8L418.5 1511.8L425.2 1482.8L429.5 1468.8L432.5 1460.8L437.9 1450.5L441.9 1445.5L445.9 1442.4L450.9 1441.0L453.9 1442.1L458.7 1446.8L463.4 1455.8L465.0 1462.8L465.5 1472.8L464.2 1483.8L458.4 1503.8L450.4 1523.8L444.9 1530.9L439.6 1534.8L433.9 1537.1ZM432.9 1542.8L422.9 1542.4L419.9 1540.6L417.9 1537.8L416.2 1532.8L415.2 1525.8L415.3 1518.8L416.4 1510.8L421.0 1487.8L425.3 1470.8L428.3 1460.8L434.0 1446.8L437.9 1439.6L442.9 1432.9L449.9 1428.1L453.9 1428.1L462.0 1431.8L465.6 1437.8L468.9 1442.0L471.2 1446.8L472.7 1459.8L472.7 1465.8L471.8 1474.8L469.1 1486.8L466.2 1496.8L454.2 1525.8L449.9 1532.4L445.9 1536.2L438.9 1540.9L432.9 1542.8Z" fill="none" stroke="#2a2a2a" stroke-width="1" stroke-linejoin="round"/>
<path d="M431.4 1565L488.9 1422L539.4 1422L539.4 1565.3Z" fill="none" stroke="#DD2B25" stroke-width="1.8" stroke-linejoin="round"/>
<text x="514.7" y="1413.6" font-size="28.5" text-anchor="middle">16.4%</text>
<rect x="605.5" y="1346.8" width="226.5" height="226.3" fill="none" stroke="#9a9a9a" stroke-width="1.2"/>
<path d="M599 1572.4L605.5 1572.4M599 1529.3L605.5 1529.3M599 1486.1L605.5 1486.1M599 1443L605.5 1443M599 1399.8L605.5 1399.8M599 1356.7L605.5 1356.7M602 1563.8L605.5 1563.8M602 1555.1L605.5 1555.1M602 1546.5L605.5 1546.5M602 1537.9L605.5 1537.9M602 1520.6L605.5 1520.6M602 1512L605.5 1512M602 1503.4L605.5 1503.4M602 1494.7L605.5 1494.7M602 1477.5L605.5 1477.5M602 1468.9L605.5 1468.9M602 1460.2L605.5 1460.2M602 1451.6L605.5 1451.6M602 1434.4L605.5 1434.4M602 1425.7L605.5 1425.7M602 1417.1L605.5 1417.1M602 1408.5L605.5 1408.5M602 1391.2L605.5 1391.2M602 1382.6L605.5 1382.6M602 1374L605.5 1374M602 1365.3L605.5 1365.3M632 1573.1L632 1580.1M661.8 1573.1L661.8 1580.1M690.1 1573.1L690.1 1580.1M755.1 1573.1L755.1 1580.1M808.7 1573.1L808.7 1580.1M613.5 1573.1L613.5 1576.9M619.5 1573.1L619.5 1576.9M624.5 1573.1L624.5 1576.9M628.5 1573.1L628.5 1576.9M641.5 1573.1L641.5 1576.9M647.5 1573.1L647.5 1576.9M651.5 1573.1L651.5 1576.9M654.5 1573.1L654.5 1576.9M657 1573.1L657 1576.9M659 1573.1L659 1576.9M660.5 1573.1L660.5 1576.9M663 1573.1L663 1576.9M664.5 1573.1L664.5 1576.9M666.5 1573.1L666.5 1576.9M669.5 1573.1L669.5 1576.9M673.5 1573.1L673.5 1576.9M679.5 1573.1L679.5 1576.9M684.5 1573.1L684.5 1576.9M709.7 1573.1L709.7 1576.9M721.1 1573.1L721.1 1576.9M729.2 1573.1L729.2 1576.9M735.5 1573.1L735.5 1576.9M740.7 1573.1L740.7 1576.9M745 1573.1L745 1576.9M748.8 1573.1L748.8 1576.9M752.1 1573.1L752.1 1576.9M771.2 1573.1L771.2 1576.9M780.7 1573.1L780.7 1576.9M787.4 1573.1L787.4 1576.9" stroke="#222" stroke-width="1.3" fill="none"/>
<path d="M657.5 1573.1L657.5 1578.1M658.7 1573.1L658.7 1578.1M659.9 1573.1L659.9 1578.1M661.1 1573.1L661.1 1578.1M662.3 1573.1L662.3 1578.1M663.5 1573.1L663.5 1578.1M664.7 1573.1L664.7 1578.1" stroke="#111" stroke-width="1.3" fill="none"/>
<text x="665.5" y="1594.1" font-size="9" text-anchor="middle">0</text>
<text x="761" y="1594.1" font-size="9" text-anchor="middle">10<tspan font-size="6.8" dy="-4">4</tspan></text>
<text x="814.5" y="1594.1" font-size="9" text-anchor="middle">10<tspan font-size="6.8" dy="-4">5</tspan></text>
<path d="M669.5 1515.9L668.0 1511.8L668.2 1509.8L670.5 1501.7L672.5 1497.6L673.5 1496.6L674.5 1496.6L676.8 1497.8L677.4 1498.8L674.5 1503.8L676.7 1506.8L676.6 1508.8L673.5 1513.0L669.5 1515.9ZM672.5 1518.4L670.5 1518.7L667.5 1517.9L666.5 1515.6L666.7 1511.8L669.2 1502.8L671.5 1496.8L673.5 1494.3L677.5 1493.4L678.5 1493.8L678.3 1495.8L680.5 1497.8L681.2 1499.8L680.5 1501.1L677.5 1503.4L678.3 1507.8L676.3 1514.8L675.5 1516.2L672.5 1518.4ZM673.5 1519.9L671.5 1520.2L667.5 1519.6L665.7 1516.8L665.4 1513.8L668.4 1502.8L671.0 1495.8L673.0 1491.8L675.5 1488.2L676.5 1487.7L679.5 1488.9L681.5 1490.8L681.8 1492.8L681.2 1494.8L682.8 1498.8L680.3 1504.8L679.9 1508.8L677.5 1516.8L676.5 1518.2L673.5 1519.9ZM674.5 1522.0L667.5 1522.1L666.5 1521.4L664.7 1516.8L664.6 1513.8L671.6 1490.8L674.5 1485.8L680.5 1482.8L681.3 1483.8L681.2 1486.8L684.0 1489.8L684.3 1498.8L681.8 1505.8L681.8 1509.8L680.1 1512.8L679.0 1517.8L677.5 1519.9L674.5 1522.0ZM670.5 1525.0L667.5 1524.4L665.5 1522.8L663.9 1516.8L664.0 1512.8L670.5 1490.5L673.5 1484.6L676.8 1482.8L677.5 1478.6L678.5 1477.9L679.5 1477.9L681.5 1479.3L684.1 1482.8L684.4 1485.8L686.1 1489.8L685.4 1499.8L683.4 1505.8L683.6 1509.8L681.8 1512.8L681.0 1516.8L678.5 1520.7L675.5 1523.2L672.5 1523.8L670.5 1525.0ZM672.5 1526.2L669.5 1526.6L666.5 1525.8L665.2 1524.8L663.3 1518.8L663.4 1512.8L669.7 1489.8L676.1 1476.8L677.5 1475.7L682.5 1475.8L686.8 1482.8L688.7 1484.8L687.7 1487.8L688.3 1491.8L687.2 1500.8L685.1 1506.8L684.9 1509.8L683.5 1512.8L682.3 1517.8L678.5 1522.6L675.5 1524.8L672.5 1526.2ZM671.5 1528.0L665.5 1527.0L663.7 1524.8L662.4 1518.8L662.4 1514.8L663.2 1510.8L668.9 1489.8L675.1 1474.8L678.5 1471.3L679.5 1470.9L681.5 1471.7L684.5 1470.4L685.5 1470.6L688.0 1476.8L688.5 1481.8L690.9 1484.8L689.8 1487.8L690.2 1491.8L689.0 1496.8L688.9 1500.8L686.7 1506.8L686.3 1509.8L684.8 1512.8L683.5 1518.8L680.5 1522.9L675.5 1526.6L671.5 1528.0ZM673.5 1529.1L671.5 1529.6L666.5 1529.4L664.5 1528.6L662.4 1524.8L661.6 1519.8L661.6 1514.8L668.1 1488.8L672.7 1477.8L673.3 1474.8L676.3 1470.8L677.6 1467.8L678.5 1466.6L679.5 1466.4L682.5 1468.3L684.5 1467.5L686.5 1467.9L690.5 1471.9L691.5 1473.8L692.3 1477.8L692.0 1481.8L693.0 1486.8L688.2 1509.8L686.1 1513.8L684.6 1519.8L681.5 1524.1L676.5 1527.9L673.5 1529.1ZM673.5 1531.0L671.5 1531.6L665.5 1531.1L663.5 1530.1L661.3 1525.8L660.7 1520.8L660.8 1514.8L667.1 1488.8L671.9 1474.8L674.7 1470.8L677.5 1465.2L680.3 1462.8L681.5 1460.7L683.5 1460.3L687.5 1463.6L690.9 1464.8L691.7 1467.8L693.9 1470.8L695.0 1483.8L694.7 1489.8L691.9 1498.8L691.7 1502.8L690.6 1505.8L690.1 1509.8L687.8 1513.8L685.2 1521.8L683.0 1524.8L678.5 1528.5L673.5 1531.0ZM671.5 1533.8L664.5 1533.0L663.5 1532.7L661.9 1530.8L660.3 1526.8L659.7 1522.8L660.2 1512.8L665.9 1488.8L670.7 1473.8L673.3 1469.8L674.9 1465.8L680.5 1456.9L681.5 1456.2L687.5 1455.4L695.3 1462.8L695.8 1464.8L695.5 1466.8L697.4 1469.8L697.0 1474.8L698.2 1482.8L696.9 1486.8L696.8 1491.8L693.9 1498.8L693.6 1502.8L692.3 1506.8L691.7 1510.8L689.5 1514.8L686.0 1523.8L680.3 1529.8L673.5 1533.4L671.5 1533.8ZM672.5 1536.1L670.5 1536.3L663.5 1535.4L661.5 1533.8L660.0 1530.8L658.7 1525.8L658.4 1521.8L658.8 1514.8L664.6 1488.8L666.7 1482.8L668.3 1475.8L671.9 1466.8L679.5 1452.5L682.5 1449.3L683.5 1448.7L685.5 1448.6L687.5 1449.5L690.5 1449.5L692.5 1450.6L698.1 1457.8L698.8 1460.8L700.0 1462.8L700.1 1467.8L701.4 1471.8L701.1 1482.8L699.4 1488.8L699.2 1492.8L696.3 1498.8L696.0 1502.8L693.9 1509.8L688.0 1523.8L681.8 1531.8L672.5 1536.1ZM672.5 1539.0L665.5 1539.1L662.5 1538.4L659.6 1535.8L658.0 1531.8L656.9 1522.8L657.1 1517.8L662.9 1488.8L668.8 1468.8L677.2 1449.8L684.8 1440.8L689.5 1439.8L694.5 1440.6L695.5 1441.2L697.5 1445.3L700.5 1448.8L705.7 1461.8L705.9 1464.8L705.1 1467.8L705.9 1471.8L705.8 1475.8L704.7 1483.8L702.9 1488.8L701.9 1494.8L699.5 1502.8L692.9 1519.8L690.0 1525.8L687.4 1529.8L683.5 1534.1L679.5 1536.3L672.5 1539.0ZM672.5 1543.8L667.5 1544.5L662.5 1543.8L658.5 1541.3L656.7 1538.8L654.9 1532.8L654.3 1527.8L654.4 1520.8L655.6 1511.8L663.9 1473.8L667.1 1462.8L672.2 1448.8L675.2 1442.8L679.2 1436.8L685.8 1428.8L690.5 1425.8L695.5 1426.4L698.5 1427.8L702.6 1432.8L706.9 1435.8L708.1 1438.8L710.7 1442.8L713.8 1458.8L712.4 1478.8L710.7 1485.8L708.3 1491.8L705.0 1502.8L694.1 1528.8L690.5 1534.2L682.1 1540.8L679.5 1542.2L672.5 1543.8Z" fill="none" stroke="#2a2a2a" stroke-width="1" stroke-linejoin="round"/>
<path d="M671 1565L728.5 1422L779 1422L779 1565.3Z" fill="none" stroke="#DD2B25" stroke-width="1.8" stroke-linejoin="round"/>
<text x="762.6" y="1413.6" font-size="28.5" text-anchor="middle">16.3%</text>
<rect x="845.1" y="1346.8" width="226.5" height="226.3" fill="none" stroke="#9a9a9a" stroke-width="1.2"/>
<path d="M838.6 1572.4L845.1 1572.4M838.6 1529.3L845.1 1529.3M838.6 1486.1L845.1 1486.1M838.6 1443L845.1 1443M838.6 1399.8L845.1 1399.8M838.6 1356.7L845.1 1356.7M841.6 1563.8L845.1 1563.8M841.6 1555.1L845.1 1555.1M841.6 1546.5L845.1 1546.5M841.6 1537.9L845.1 1537.9M841.6 1520.6L845.1 1520.6M841.6 1512L845.1 1512M841.6 1503.4L845.1 1503.4M841.6 1494.7L845.1 1494.7M841.6 1477.5L845.1 1477.5M841.6 1468.9L845.1 1468.9M841.6 1460.2L845.1 1460.2M841.6 1451.6L845.1 1451.6M841.6 1434.4L845.1 1434.4M841.6 1425.7L845.1 1425.7M841.6 1417.1L845.1 1417.1M841.6 1408.5L845.1 1408.5M841.6 1391.2L845.1 1391.2M841.6 1382.6L845.1 1382.6M841.6 1374L845.1 1374M841.6 1365.3L845.1 1365.3M871.6 1573.1L871.6 1580.1M901.4 1573.1L901.4 1580.1M929.7 1573.1L929.7 1580.1M994.7 1573.1L994.7 1580.1M1048.3 1573.1L1048.3 1580.1M853.1 1573.1L853.1 1576.9M859.1 1573.1L859.1 1576.9M864.1 1573.1L864.1 1576.9M868.1 1573.1L868.1 1576.9M881.1 1573.1L881.1 1576.9M887.1 1573.1L887.1 1576.9M891.1 1573.1L891.1 1576.9M894.1 1573.1L894.1 1576.9M896.6 1573.1L896.6 1576.9M898.6 1573.1L898.6 1576.9M900.1 1573.1L900.1 1576.9M902.6 1573.1L902.6 1576.9M904.1 1573.1L904.1 1576.9M906.1 1573.1L906.1 1576.9M909.1 1573.1L909.1 1576.9M913.1 1573.1L913.1 1576.9M919.1 1573.1L919.1 1576.9M924.1 1573.1L924.1 1576.9M949.3 1573.1L949.3 1576.9M960.7 1573.1L960.7 1576.9M968.8 1573.1L968.8 1576.9M975.1 1573.1L975.1 1576.9M980.3 1573.1L980.3 1576.9M984.6 1573.1L984.6 1576.9M988.4 1573.1L988.4 1576.9M991.7 1573.1L991.7 1576.9M1010.8 1573.1L1010.8 1576.9M1020.3 1573.1L1020.3 1576.9M1027 1573.1L1027 1576.9" stroke="#222" stroke-width="1.3" fill="none"/>
<path d="M897.1 1573.1L897.1 1578.1M898.3 1573.1L898.3 1578.1M899.5 1573.1L899.5 1578.1M900.7 1573.1L900.7 1578.1M901.9 1573.1L901.9 1578.1M903.1 1573.1L903.1 1578.1M904.3 1573.1L904.3 1578.1" stroke="#111" stroke-width="1.3" fill="none"/>
<text x="905.1" y="1594.1" font-size="9" text-anchor="middle">0</text>
<text x="1000.6" y="1594.1" font-size="9" text-anchor="middle">10<tspan font-size="6.8" dy="-4">4</tspan></text>
<text x="1054.1" y="1594.1" font-size="9" text-anchor="middle">10<tspan font-size="6.8" dy="-4">5</tspan></text>
<path d="M916.1 1496.7L914.3 1495.8L914.1 1494.8L915.1 1493.5L916.8 1493.8L917.1 1494.5L916.1 1496.7ZM915.1 1510.1L913.1 1510.7L912.1 1509.8L910.3 1504.8L911.7 1500.8L915.1 1499.5L916.1 1499.8L917.5 1501.8L916.7 1505.8L916.8 1508.8L915.1 1510.1ZM912.1 1518.4L910.1 1518.2L907.1 1515.5L907.4 1512.8L909.1 1510.5L910.1 1510.4L912.1 1511.2L913.7 1513.8L913.4 1516.8L912.1 1518.4ZM912.1 1519.9L910.1 1520.4L909.1 1520.0L906.6 1516.8L906.1 1513.8L909.1 1507.8L909.1 1504.8L910.0 1501.8L912.8 1497.8L912.6 1495.8L913.1 1493.7L914.1 1492.0L915.1 1491.2L916.1 1491.2L918.1 1492.4L918.9 1493.8L917.9 1497.8L919.2 1500.8L918.0 1505.8L918.6 1508.8L917.1 1511.8L917.0 1515.8L914.1 1518.8L912.1 1519.9ZM910.1 1523.2L907.8 1522.8L906.8 1521.8L906.6 1519.8L905.3 1516.8L905.3 1513.8L907.6 1507.8L908.9 1501.8L913.1 1490.4L915.1 1488.0L917.1 1487.0L918.1 1487.2L918.7 1489.8L920.8 1492.8L921.4 1494.8L921.4 1500.8L919.9 1505.8L920.0 1509.8L918.1 1517.0L914.1 1520.7L910.1 1523.2ZM910.1 1524.9L906.1 1523.8L905.2 1522.8L904.4 1516.8L904.6 1513.8L908.1 1500.4L912.1 1489.4L916.1 1483.7L917.1 1483.3L921.9 1485.8L921.9 1487.8L923.7 1494.8L923.1 1501.8L921.9 1505.8L921.3 1510.8L919.1 1517.5L914.1 1522.8L912.1 1524.3L910.1 1524.9ZM911.1 1526.1L906.1 1525.2L904.2 1523.8L903.6 1517.8L904.0 1513.8L907.3 1499.8L914.1 1481.6L918.2 1477.8L922.1 1476.6L922.8 1477.8L922.0 1481.8L924.1 1483.4L924.7 1484.8L924.4 1487.8L925.2 1494.8L924.7 1501.8L923.3 1505.8L922.7 1510.8L919.5 1518.8L916.1 1523.0L911.1 1526.1ZM912.1 1527.3L907.1 1527.1L903.5 1524.8L902.6 1521.8L902.7 1515.8L906.4 1499.8L913.0 1480.8L914.1 1479.3L918.3 1475.8L920.0 1471.8L921.1 1471.5L922.1 1471.8L925.0 1475.8L925.4 1478.8L927.2 1483.8L926.5 1488.8L926.3 1501.8L924.7 1505.8L923.5 1512.8L921.0 1518.8L917.1 1524.5L912.1 1527.3ZM912.1 1529.1L906.1 1529.2L903.1 1526.1L901.6 1521.8L901.9 1515.8L905.6 1499.8L912.3 1479.8L915.7 1475.8L917.9 1470.8L920.1 1469.3L922.1 1469.2L923.7 1469.8L925.1 1472.0L927.9 1473.8L928.6 1476.8L930.8 1481.8L929.2 1486.8L929.5 1490.8L928.5 1493.8L928.0 1501.8L926.0 1505.8L924.8 1512.8L921.6 1520.8L918.9 1524.8L912.1 1529.1ZM912.1 1530.8L906.1 1531.5L903.6 1529.8L900.8 1521.8L901.3 1514.8L904.9 1499.8L909.9 1483.8L911.6 1478.8L915.1 1471.8L916.4 1469.8L922.1 1464.1L925.1 1465.1L927.1 1464.8L928.4 1465.8L928.2 1467.8L930.5 1470.8L931.1 1474.8L933.0 1480.8L929.6 1501.8L927.6 1505.8L925.1 1518.3L923.2 1521.8L919.9 1525.8L912.1 1530.8ZM911.1 1533.1L905.1 1533.0L903.1 1532.1L902.1 1531.0L899.9 1521.8L900.3 1515.8L904.4 1498.8L910.3 1478.8L913.9 1470.8L920.1 1460.8L921.1 1459.4L923.1 1458.8L926.8 1461.8L930.1 1463.5L933.5 1468.8L934.4 1477.8L935.4 1480.8L934.3 1484.8L934.6 1487.8L931.6 1501.8L929.7 1505.8L928.6 1510.8L927.1 1513.8L927.0 1518.8L926.2 1520.8L921.1 1527.0L915.9 1530.8L911.1 1533.1ZM912.1 1534.8L909.1 1535.5L904.1 1534.7L901.1 1532.8L899.7 1528.8L898.9 1521.8L899.7 1514.8L903.6 1497.8L911.1 1472.8L920.1 1456.8L922.1 1455.5L924.1 1455.0L929.1 1455.4L932.1 1458.1L934.1 1462.7L937.3 1466.8L937.1 1473.8L938.0 1479.8L936.6 1485.8L936.7 1488.8L935.1 1495.8L934.9 1498.8L930.8 1510.8L928.8 1514.8L928.7 1518.8L927.7 1521.8L922.2 1528.8L918.1 1531.8L912.1 1534.8ZM913.1 1537.1L909.1 1537.8L904.1 1537.2L902.1 1536.4L900.1 1534.5L898.0 1527.8L897.8 1520.8L898.7 1514.8L902.5 1496.8L909.3 1472.8L913.1 1465.5L914.8 1460.8L918.9 1453.8L922.1 1449.5L926.1 1447.9L931.1 1448.6L933.0 1449.8L934.8 1452.8L937.0 1454.8L937.9 1457.8L940.1 1460.6L940.7 1464.8L941.1 1477.8L939.4 1486.8L939.3 1490.8L934.2 1508.8L931.2 1515.8L930.1 1520.8L928.5 1523.8L924.5 1529.8L921.1 1532.8L918.1 1534.8L913.1 1537.1ZM911.1 1540.9L907.1 1541.3L902.1 1540.0L900.1 1538.5L898.4 1535.8L896.8 1530.8L896.3 1526.8L896.4 1519.8L897.5 1513.8L900.9 1496.8L904.7 1481.8L907.4 1471.8L911.8 1460.8L917.1 1449.7L923.1 1441.7L924.1 1440.7L928.1 1439.9L931.1 1438.4L933.8 1439.8L937.7 1445.8L942.0 1448.8L942.8 1452.8L944.5 1455.8L944.7 1459.8L946.0 1463.8L945.3 1466.8L945.6 1472.8L945.2 1478.8L943.2 1489.8L940.7 1496.8L937.9 1507.8L933.4 1517.8L932.2 1521.8L928.8 1528.8L926.1 1532.1L920.1 1537.1L914.1 1540.2L911.1 1540.9ZM911.1 1545.9L908.1 1546.4L903.1 1545.7L899.1 1544.0L897.0 1541.8L894.9 1536.8L893.9 1531.8L893.7 1524.8L894.3 1517.8L903.0 1476.8L908.0 1459.8L912.6 1447.8L915.4 1441.8L922.9 1429.8L928.1 1425.6L933.1 1424.5L938.1 1426.4L941.1 1429.0L943.1 1429.8L948.1 1435.5L950.0 1438.8L951.7 1444.8L953.9 1459.8L953.6 1463.8L954.0 1467.8L953.0 1471.8L952.4 1476.8L950.8 1483.8L945.4 1500.8L937.2 1521.8L933.5 1529.8L929.8 1534.8L923.6 1540.8L917.1 1544.3L911.1 1545.9Z" fill="none" stroke="#2a2a2a" stroke-width="1" stroke-linejoin="round"/>
<path d="M910.6 1565L968.1 1422L1018.6 1422L1018.6 1565.3Z" fill="none" stroke="#DD2B25" stroke-width="1.8" stroke-linejoin="round"/>
<text x="994.5" y="1413.6" font-size="28.5" text-anchor="middle">16.3%</text>
<rect x="1084.7" y="1346.8" width="226.5" height="226.3" fill="none" stroke="#9a9a9a" stroke-width="1.2"/>
<path d="M1078.2 1572.4L1084.7 1572.4M1078.2 1529.3L1084.7 1529.3M1078.2 1486.1L1084.7 1486.1M1078.2 1443L1084.7 1443M1078.2 1399.8L1084.7 1399.8M1078.2 1356.7L1084.7 1356.7M1081.2 1563.8L1084.7 1563.8M1081.2 1555.1L1084.7 1555.1M1081.2 1546.5L1084.7 1546.5M1081.2 1537.9L1084.7 1537.9M1081.2 1520.6L1084.7 1520.6M1081.2 1512L1084.7 1512M1081.2 1503.4L1084.7 1503.4M1081.2 1494.7L1084.7 1494.7M1081.2 1477.5L1084.7 1477.5M1081.2 1468.9L1084.7 1468.9M1081.2 1460.2L1084.7 1460.2M1081.2 1451.6L1084.7 1451.6M1081.2 1434.4L1084.7 1434.4M1081.2 1425.7L1084.7 1425.7M1081.2 1417.1L1084.7 1417.1M1081.2 1408.5L1084.7 1408.5M1081.2 1391.2L1084.7 1391.2M1081.2 1382.6L1084.7 1382.6M1081.2 1374L1084.7 1374M1081.2 1365.3L1084.7 1365.3M1111.2 1573.1L1111.2 1580.1M1141 1573.1L1141 1580.1M1169.3 1573.1L1169.3 1580.1M1234.3 1573.1L1234.3 1580.1M1287.9 1573.1L1287.9 1580.1M1092.7 1573.1L1092.7 1576.9M1098.7 1573.1L1098.7 1576.9M1103.7 1573.1L1103.7 1576.9M1107.7 1573.1L1107.7 1576.9M1120.7 1573.1L1120.7 1576.9M1126.7 1573.1L1126.7 1576.9M1130.7 1573.1L1130.7 1576.9M1133.7 1573.1L1133.7 1576.9M1136.2 1573.1L1136.2 1576.9M1138.2 1573.1L1138.2 1576.9M1139.7 1573.1L1139.7 1576.9M1142.2 1573.1L1142.2 1576.9M1143.7 1573.1L1143.7 1576.9M1145.7 1573.1L1145.7 1576.9M1148.7 1573.1L1148.7 1576.9M1152.7 1573.1L1152.7 1576.9M1158.7 1573.1L1158.7 1576.9M1163.7 1573.1L1163.7 1576.9M1188.9 1573.1L1188.9 1576.9M1200.3 1573.1L1200.3 1576.9M1208.4 1573.1L1208.4 1576.9M1214.7 1573.1L1214.7 1576.9M1219.9 1573.1L1219.9 1576.9M1224.2 1573.1L1224.2 1576.9M1228 1573.1L1228 1576.9M1231.3 1573.1L1231.3 1576.9M1250.4 1573.1L1250.4 1576.9M1259.9 1573.1L1259.9 1576.9M1266.6 1573.1L1266.6 1576.9" stroke="#222" stroke-width="1.3" fill="none"/>
<path d="M1136.7 1573.1L1136.7 1578.1M1137.9 1573.1L1137.9 1578.1M1139.1 1573.1L1139.1 1578.1M1140.3 1573.1L1140.3 1578.1M1141.5 1573.1L1141.5 1578.1M1142.7 1573.1L1142.7 1578.1M1143.9 1573.1L1143.9 1578.1" stroke="#111" stroke-width="1.3" fill="none"/>
<text x="1144.7" y="1594.1" font-size="9" text-anchor="middle">0</text>
<text x="1240.2" y="1594.1" font-size="9" text-anchor="middle">10<tspan font-size="6.8" dy="-4">4</tspan></text>
<text x="1293.7" y="1594.1" font-size="9" text-anchor="middle">10<tspan font-size="6.8" dy="-4">5</tspan></text>
<path d="M1149.7 1517.0L1147.7 1517.6L1147.2 1516.8L1147.2 1514.8L1149.3 1509.8L1149.2 1507.8L1150.7 1500.8L1152.7 1498.0L1153.7 1497.5L1154.5 1497.8L1156.1 1505.8L1154.3 1509.8L1153.5 1514.8L1152.7 1515.9L1149.7 1517.0ZM1148.7 1519.8L1146.7 1519.3L1145.9 1517.8L1146.5 1511.8L1149.6 1500.8L1152.7 1494.0L1153.7 1493.0L1154.7 1492.9L1156.7 1493.9L1157.9 1495.8L1158.5 1505.8L1156.3 1509.8L1154.7 1516.2L1153.7 1517.2L1148.7 1519.8ZM1151.7 1520.9L1147.7 1521.4L1145.7 1519.8L1145.0 1517.8L1145.3 1512.8L1151.1 1493.8L1155.6 1486.8L1156.7 1486.4L1157.9 1486.8L1158.5 1487.8L1157.1 1490.8L1159.8 1493.8L1160.2 1504.8L1157.7 1512.8L1155.9 1516.8L1151.7 1520.9ZM1149.7 1522.9L1146.7 1522.5L1144.7 1519.9L1144.2 1517.8L1144.6 1511.8L1149.8 1493.8L1154.7 1483.5L1155.7 1482.2L1156.7 1482.0L1159.7 1483.9L1160.9 1486.8L1160.3 1490.8L1162.5 1493.8L1161.1 1497.8L1162.1 1503.8L1160.4 1507.8L1159.4 1512.8L1156.7 1518.3L1153.7 1521.7L1149.7 1522.9ZM1152.7 1523.9L1150.7 1524.5L1147.7 1524.4L1145.0 1522.8L1143.4 1518.8L1143.7 1512.8L1149.7 1491.3L1153.9 1481.8L1155.7 1479.9L1157.7 1479.0L1162.7 1480.7L1163.4 1481.8L1163.2 1490.8L1164.5 1493.8L1162.8 1497.8L1163.7 1500.8L1163.8 1503.8L1161.7 1507.8L1161.0 1512.8L1158.2 1518.8L1156.0 1521.8L1152.7 1523.9ZM1150.7 1525.8L1146.7 1525.6L1144.1 1523.8L1142.6 1518.8L1143.2 1511.8L1147.3 1495.8L1149.7 1488.9L1155.7 1476.2L1156.7 1474.8L1158.7 1474.1L1162.7 1476.9L1165.6 1481.8L1166.0 1493.8L1164.9 1503.8L1163.2 1507.8L1162.0 1513.8L1158.5 1520.8L1156.7 1522.8L1152.7 1525.5L1150.7 1525.8ZM1152.7 1527.1L1146.7 1527.3L1143.0 1524.8L1141.8 1519.8L1142.0 1514.8L1143.6 1505.8L1146.4 1495.8L1151.1 1482.8L1155.9 1472.8L1157.7 1471.4L1159.7 1471.3L1163.7 1473.1L1167.7 1477.8L1168.2 1490.8L1167.8 1496.8L1164.1 1511.8L1161.4 1518.8L1158.7 1522.9L1152.7 1527.1ZM1151.7 1529.0L1146.7 1529.1L1141.9 1525.8L1141.1 1522.8L1141.1 1514.8L1143.0 1504.8L1145.4 1495.8L1151.6 1477.8L1155.7 1470.2L1160.7 1466.6L1165.7 1469.3L1170.1 1476.8L1171.1 1483.8L1169.9 1487.8L1169.9 1495.8L1167.9 1501.8L1166.6 1508.8L1162.1 1520.8L1160.0 1523.8L1155.7 1527.4L1151.7 1529.0ZM1150.7 1530.9L1145.7 1531.1L1142.7 1528.9L1141.0 1526.8L1140.0 1523.8L1140.2 1514.8L1144.5 1495.8L1150.7 1476.8L1153.7 1470.3L1158.7 1462.9L1160.7 1461.6L1162.7 1461.4L1166.4 1463.8L1170.7 1469.8L1172.4 1474.8L1173.4 1483.8L1172.1 1489.8L1172.0 1493.8L1168.3 1508.8L1163.8 1520.8L1161.2 1524.8L1156.7 1528.8L1154.7 1529.9L1150.7 1530.9ZM1150.7 1533.0L1146.7 1533.5L1143.7 1532.8L1141.6 1530.8L1139.4 1526.8L1138.9 1523.8L1139.0 1516.8L1141.2 1504.8L1149.2 1476.8L1156.4 1461.8L1160.7 1457.5L1163.7 1456.8L1167.7 1456.9L1169.7 1458.0L1172.2 1460.8L1172.8 1464.8L1173.9 1466.8L1175.5 1473.8L1175.3 1486.8L1174.4 1493.8L1170.1 1508.8L1165.3 1521.8L1161.7 1526.8L1156.7 1531.1L1150.7 1533.0ZM1152.7 1535.0L1149.7 1535.7L1144.7 1535.5L1142.7 1535.0L1140.7 1533.1L1139.4 1530.8L1137.8 1525.8L1138.1 1514.8L1143.2 1491.8L1147.6 1476.8L1151.6 1466.8L1154.5 1460.8L1157.7 1455.9L1162.7 1450.4L1165.7 1449.6L1167.7 1450.2L1173.2 1453.8L1176.8 1459.8L1176.8 1462.8L1179.0 1468.8L1179.5 1474.8L1178.0 1486.8L1176.5 1494.8L1173.3 1505.8L1167.5 1521.8L1161.7 1529.8L1156.7 1533.6L1152.7 1535.0ZM1148.7 1538.9L1143.7 1538.6L1140.7 1537.4L1138.1 1533.8L1136.5 1527.8L1136.1 1521.8L1136.5 1516.8L1140.5 1495.8L1145.9 1475.8L1151.4 1460.8L1156.7 1450.7L1160.7 1445.3L1166.1 1441.8L1168.7 1441.4L1174.7 1445.1L1178.0 1448.8L1180.8 1453.8L1182.3 1458.8L1183.6 1464.8L1183.5 1474.8L1181.7 1487.8L1177.7 1501.8L1168.4 1525.8L1163.7 1531.8L1158.7 1535.8L1153.7 1538.2L1148.7 1538.9ZM1151.7 1543.9L1143.7 1544.2L1140.7 1543.5L1136.5 1539.8L1134.6 1535.8L1133.5 1526.8L1133.5 1521.8L1138.2 1494.8L1144.5 1468.8L1151.9 1448.8L1154.4 1443.8L1160.7 1434.0L1162.7 1432.0L1167.7 1428.7L1173.7 1428.3L1179.4 1431.8L1182.8 1434.8L1189.7 1448.8L1191.2 1457.8L1191.0 1461.8L1191.4 1465.8L1190.8 1470.8L1189.7 1473.8L1189.4 1479.8L1186.0 1493.8L1180.8 1507.8L1175.7 1518.9L1173.4 1525.8L1169.6 1531.8L1163.7 1538.1L1158.7 1541.4L1151.7 1543.9Z" fill="none" stroke="#2a2a2a" stroke-width="1" stroke-linejoin="round"/>
<path d="M1150.2 1565L1207.7 1422L1258.2 1422L1258.2 1565.3Z" fill="none" stroke="#DD2B25" stroke-width="1.8" stroke-linejoin="round"/>
<text x="1236" y="1413.6" font-size="28.5" text-anchor="middle">15.4%</text>
<path d="M46.2 1120L46.2 1601" stroke="#000" stroke-width="2.6" fill="none"/>
<path d="M46.2 1080 Q48.2 1115 53.8 1138 Q47.7 1127 46.2 1128 Q44.7 1127 38.6 1138 Q44.2 1115 46.2 1080Z" fill="#000"/>
<path d="M45 1600.8L1279.3 1600.8" stroke="#000" stroke-width="2.6" fill="none"/>
<path d="M1319.3 1600.8 Q1284.3 1602.8 1261.3 1608.4 Q1272.3 1602.3 1271.3 1600.8 Q1272.3 1599.3 1261.3 1593.2 Q1284.3 1598.8 1319.3 1600.8Z" fill="#000"/>
<text x="743.4" y="1642.5" font-size="34" text-anchor="middle">CXCL10</text>
<text x="36" y="1341.5" font-size="33.7" text-anchor="middle" transform="rotate(-90 36 1341.5)">FSC-A</text>
<text x="89" y="1209" font-size="33" text-anchor="middle" transform="rotate(-90 89 1209)"><tspan font-style="italic">Mlkl</tspan><tspan font-size="19.5" dy="-12"> loxP/loxP</tspan></text>
<text x="89" y="1454" font-size="33" text-anchor="middle" transform="rotate(-90 89 1454)"><tspan font-style="italic">Mlkl</tspan><tspan font-size="19.5" dy="-12"> iΔEC/iΔEC</tspan></text>
<text x="14" y="1726.5" font-size="50" font-weight="bold">h</text>
<text x="252.2" y="1744" font-size="33" text-anchor="middle">Cycle 1</text>
<text x="492" y="1744" font-size="33" text-anchor="middle">Cycle 2</text>
<text x="730" y="1744" font-size="33" text-anchor="middle">Cycle 3</text>
<text x="968" y="1744" font-size="33" text-anchor="middle">Cycle 4</text>
<text x="1206" y="1744" font-size="33" text-anchor="middle">Cycle 5</text>
<rect x="131.4" y="1757" width="227" height="226.5" fill="none" stroke="#9a9a9a" stroke-width="1.2"/>
<path d="M124.9 1778.3L131.4 1778.3M124.9 1832.6L131.4 1832.6M124.9 1893.8L131.4 1893.8M124.9 1932L131.4 1932M124.9 1968.8L131.4 1968.8M127.9 1875.4L131.4 1875.4M127.9 1864.6L131.4 1864.6M127.9 1857L131.4 1857M127.9 1851L131.4 1851M127.9 1846.2L131.4 1846.2M127.9 1842.1L131.4 1842.1M127.9 1838.5L131.4 1838.5M127.9 1835.4L131.4 1835.4M127.9 1816.3L131.4 1816.3M127.9 1806.7L131.4 1806.7M127.9 1799.9L131.4 1799.9M127.9 1794.6L131.4 1794.6M127.9 1790.3L131.4 1790.3M127.9 1786.7L131.4 1786.7M127.9 1783.6L131.4 1783.6M127.9 1780.8L131.4 1780.8M127.9 1769L131.4 1769M127.9 1764L131.4 1764M127.9 1902L131.4 1902M127.9 1909L131.4 1909M127.9 1915L131.4 1915M127.9 1920L131.4 1920M127.9 1924L131.4 1924M127.9 1927L131.4 1927M127.9 1929.5L131.4 1929.5M127.9 1934.5L131.4 1934.5M127.9 1937L131.4 1937M127.9 1940L131.4 1940M127.9 1944L131.4 1944M127.9 1949L131.4 1949M127.9 1955L131.4 1955M127.9 1961L131.4 1961M127.9 1975L131.4 1975M127.9 1981L131.4 1981M145.1 1983.5L145.1 1990.5M182.6 1983.5L182.6 1990.5M219.3 1983.5L219.3 1990.5M281.3 1983.5L281.3 1990.5M336.4 1983.5L336.4 1990.5M134.4 1983.5L134.4 1987.3M151.4 1983.5L151.4 1987.3M157.4 1983.5L157.4 1987.3M162.4 1983.5L162.4 1987.3M166.4 1983.5L166.4 1987.3M170.4 1983.5L170.4 1987.3M173.4 1983.5L173.4 1987.3M176.4 1983.5L176.4 1987.3M178.4 1983.5L178.4 1987.3M180.4 1983.5L180.4 1987.3M184.9 1983.5L184.9 1987.3M187.4 1983.5L187.4 1987.3M190.4 1983.5L190.4 1987.3M194.4 1983.5L194.4 1987.3M199.4 1983.5L199.4 1987.3M205.4 1983.5L205.4 1987.3M211.4 1983.5L211.4 1987.3M238 1983.5L238 1987.3M248.9 1983.5L248.9 1987.3M256.6 1983.5L256.6 1987.3M262.6 1983.5L262.6 1987.3M267.5 1983.5L267.5 1987.3M271.7 1983.5L271.7 1987.3M275.3 1983.5L275.3 1987.3M278.5 1983.5L278.5 1987.3M297.9 1983.5L297.9 1987.3M307.6 1983.5L307.6 1987.3M314.5 1983.5L314.5 1987.3M319.8 1983.5L319.8 1987.3" stroke="#222" stroke-width="1.3" fill="none"/>
<path d="M178.4 1983.5L178.4 1988.5M179.6 1983.5L179.6 1988.5M180.8 1983.5L180.8 1988.5M182 1983.5L182 1988.5M183.2 1983.5L183.2 1988.5M184.4 1983.5L184.4 1988.5M185.6 1983.5L185.6 1988.5M126.4 1928L131.4 1928M126.4 1929.2L131.4 1929.2M126.4 1930.4L131.4 1930.4M126.4 1931.6L131.4 1931.6M126.4 1932.8L131.4 1932.8M126.4 1934L131.4 1934M126.4 1935.2L131.4 1935.2" stroke="#111" stroke-width="1.3" fill="none"/>
<text x="123.4" y="1781.3" font-size="9" text-anchor="end">10<tspan font-size="6.8" dy="-4">5</tspan></text>
<text x="123.4" y="1835.6" font-size="9" text-anchor="end">10<tspan font-size="6.8" dy="-4">4</tspan></text>
<text x="123.4" y="1896.8" font-size="9" text-anchor="end">10<tspan font-size="6.8" dy="-4">3</tspan></text>
<text x="123.4" y="1935" font-size="9" text-anchor="end">0</text>
<text x="123.4" y="1971.8" font-size="9" text-anchor="end">-10<tspan font-size="6.8" dy="-4">3</tspan></text>
<text x="143.4" y="2004.5" font-size="9" text-anchor="middle">-10<tspan font-size="6.8" dy="-4">3</tspan></text>
<text x="182.6" y="2004.5" font-size="9" text-anchor="middle">0</text>
<text x="222.4" y="2004.5" font-size="9" text-anchor="middle">10<tspan font-size="6.8" dy="-4">3</tspan></text>
<text x="283.4" y="2004.5" font-size="9" text-anchor="middle">10<tspan font-size="6.8" dy="-4">4</tspan></text>
<text x="337.4" y="2004.5" font-size="9" text-anchor="middle">10<tspan font-size="6.8" dy="-4">5</tspan></text>
<path d="M239.4 1860.6L237.4 1860.9L236.4 1860.3L234.5 1857.0L235.1 1853.0L236.4 1851.0L237.4 1850.5L239.4 1850.8L242.0 1852.0L243.4 1853.1L244.2 1855.0L243.4 1856.9L239.4 1860.6ZM243.4 1931.6L241.4 1931.7L237.3 1929.0L237.3 1924.0L239.4 1920.2L243.4 1920.2L245.3 1923.0L245.4 1929.0L244.4 1930.9L243.4 1931.6ZM240.4 1862.0L238.4 1862.8L236.4 1862.2L234.4 1860.5L233.1 1858.0L234.0 1852.0L234.9 1850.0L236.4 1848.8L240.4 1848.9L244.2 1851.0L245.6 1853.0L246.2 1856.0L245.7 1858.0L240.4 1862.0ZM243.4 1933.2L241.4 1933.1L236.4 1931.7L235.2 1929.0L235.6 1923.0L236.4 1921.0L239.4 1916.6L242.4 1915.8L245.2 1917.0L249.1 1922.0L248.1 1925.0L249.3 1929.0L245.4 1932.4L243.4 1933.2ZM240.4 1864.3L238.4 1864.8L235.4 1863.1L233.3 1861.0L231.9 1858.0L232.7 1851.0L234.4 1848.0L236.4 1846.8L240.4 1846.7L242.4 1847.6L246.3 1851.0L247.5 1854.0L247.7 1857.0L246.4 1860.3L244.4 1862.1L240.4 1864.3ZM247.4 1934.0L244.4 1934.9L240.4 1934.4L236.4 1933.6L234.7 1932.0L233.9 1929.0L234.1 1922.0L237.4 1916.0L239.4 1914.6L243.4 1914.0L246.5 1915.0L249.1 1917.0L251.4 1920.8L251.6 1922.0L250.5 1925.0L251.6 1929.0L247.4 1934.0ZM240.4 1867.0L237.4 1866.5L235.1 1865.0L232.4 1861.6L230.9 1858.0L231.2 1852.0L232.2 1849.0L233.4 1846.9L236.4 1844.8L241.4 1845.4L243.4 1846.2L247.8 1850.0L249.4 1854.0L249.3 1857.0L247.4 1861.9L245.4 1864.1L240.4 1867.0ZM246.4 1936.2L238.4 1935.9L234.6 1934.0L233.1 1931.0L232.6 1922.0L234.9 1918.0L235.7 1915.0L237.4 1913.5L239.4 1912.7L244.4 1912.3L247.4 1913.0L251.4 1916.0L253.0 1920.0L253.0 1924.0L254.0 1927.0L253.6 1929.0L250.1 1934.0L246.4 1936.2ZM241.4 1868.4L238.4 1868.3L233.9 1866.0L231.4 1862.2L230.0 1858.0L230.4 1851.0L231.8 1847.0L233.4 1845.0L236.4 1843.2L242.4 1844.1L244.8 1845.0L249.3 1849.0L251.0 1854.0L250.9 1857.0L249.0 1862.0L246.0 1866.0L241.4 1868.4ZM247.4 1937.3L239.4 1937.8L237.4 1937.1L233.4 1934.3L231.6 1930.0L231.4 1922.0L234.2 1915.0L235.4 1913.3L240.4 1909.1L244.4 1909.8L249.4 1912.0L252.7 1915.0L254.8 1920.0L256.0 1927.0L255.6 1930.0L251.6 1935.0L247.4 1937.3ZM240.4 1870.2L235.4 1868.6L232.4 1866.3L230.4 1863.0L228.9 1857.0L229.4 1851.0L231.0 1846.0L233.4 1843.4L237.4 1841.4L244.4 1842.7L248.4 1845.7L251.0 1849.0L252.4 1854.0L252.3 1857.0L251.1 1861.0L248.2 1866.0L246.4 1867.7L240.4 1870.2ZM246.4 1939.2L239.4 1939.2L236.4 1938.2L231.8 1934.0L230.0 1929.0L230.1 1923.0L231.8 1917.0L238.4 1907.3L240.4 1906.3L246.4 1907.5L252.4 1911.9L256.1 1918.0L257.5 1925.0L257.3 1930.0L255.4 1933.3L252.4 1936.5L246.4 1939.2ZM240.4 1872.1L236.4 1871.1L231.4 1867.1L229.1 1863.0L227.7 1856.0L228.3 1851.0L230.4 1844.7L233.4 1841.6L236.4 1839.9L238.4 1839.4L245.4 1841.0L249.4 1844.5L252.4 1848.2L254.0 1855.0L252.7 1861.0L249.4 1867.0L246.4 1869.6L240.4 1872.1ZM244.4 1941.1L238.4 1940.5L235.4 1939.3L230.1 1934.0L228.6 1929.0L228.8 1923.0L230.1 1917.0L236.6 1906.0L238.4 1904.5L240.4 1903.9L247.4 1905.5L253.4 1910.0L258.0 1917.0L260.0 1925.0L258.7 1931.0L257.2 1934.0L255.4 1936.2L252.4 1938.5L244.4 1941.1ZM243.4 1873.3L241.4 1874.0L237.4 1873.6L232.4 1870.2L228.7 1865.0L226.9 1858.0L226.7 1853.0L228.9 1845.0L232.4 1840.5L237.4 1837.8L239.4 1837.7L245.4 1839.3L248.4 1840.9L253.5 1847.0L255.2 1853.0L255.1 1859.0L254.1 1862.0L251.2 1867.0L249.4 1869.3L243.4 1873.3ZM246.4 1942.2L244.4 1942.6L240.4 1942.4L234.4 1940.6L228.4 1934.0L227.4 1930.0L227.4 1924.0L228.3 1918.0L231.6 1911.0L232.9 1907.0L236.4 1903.0L241.4 1901.2L249.9 1904.0L254.4 1908.2L259.6 1916.0L262.0 1925.0L260.7 1931.0L259.4 1934.0L257.8 1936.0L253.4 1939.6L246.4 1942.2ZM243.4 1876.1L241.4 1876.4L236.4 1875.2L232.4 1872.3L228.3 1867.0L226.7 1863.0L225.7 1858.0L225.7 1852.0L227.2 1846.0L228.5 1843.0L232.4 1838.5L237.4 1836.3L241.4 1836.5L247.4 1838.3L249.4 1839.4L254.8 1846.0L257.1 1854.0L257.1 1858.0L256.1 1862.0L252.2 1869.0L246.4 1874.7L243.4 1876.1ZM244.4 1944.1L237.4 1943.4L232.4 1941.1L230.3 1939.0L226.9 1934.0L226.1 1930.0L225.9 1924.0L226.6 1918.0L230.8 1907.0L232.4 1904.3L235.4 1901.0L241.4 1897.2L244.4 1897.2L250.4 1900.9L256.1 1907.0L260.7 1914.0L263.8 1925.0L262.4 1932.0L261.1 1935.0L259.4 1937.0L256.4 1939.5L252.4 1941.7L244.4 1944.1ZM245.4 1879.3L240.4 1879.5L234.4 1876.9L227.7 1869.0L224.6 1860.0L224.4 1852.0L225.8 1846.0L227.4 1842.0L229.4 1839.0L231.4 1837.2L236.4 1834.6L242.4 1834.9L248.4 1836.8L250.4 1838.2L256.3 1845.0L258.9 1854.0L259.2 1857.0L258.3 1862.0L254.4 1869.7L250.0 1874.0L247.3 1878.0L245.4 1879.3ZM247.4 1945.1L245.4 1945.5L239.4 1945.4L234.4 1944.0L230.4 1941.4L228.1 1939.0L225.4 1934.0L224.3 1926.0L225.0 1918.0L226.7 1912.0L230.4 1903.9L233.4 1899.2L237.4 1894.7L239.4 1893.6L243.4 1892.5L245.4 1893.0L248.4 1896.1L251.4 1897.9L257.3 1905.0L262.4 1912.6L265.7 1924.0L264.9 1931.0L262.8 1936.0L261.4 1938.0L256.4 1941.5L247.4 1945.1ZM244.4 1947.0L240.4 1947.2L234.4 1945.6L228.4 1941.5L226.4 1939.0L223.9 1934.0L223.0 1927.0L223.4 1919.0L225.1 1912.0L229.8 1901.0L234.7 1893.0L236.5 1885.0L233.4 1879.0L228.5 1873.0L225.8 1868.0L223.3 1860.0L223.2 1852.0L225.1 1844.0L228.4 1838.0L233.4 1834.0L237.4 1832.7L242.4 1833.0L249.4 1835.5L254.5 1840.0L257.6 1844.0L259.0 1847.0L260.9 1856.0L260.2 1862.0L255.7 1871.0L252.4 1875.0L246.8 1883.0L246.7 1884.0L247.2 1887.0L249.8 1893.0L253.4 1896.0L258.4 1902.4L263.8 1911.0L267.4 1922.0L267.3 1930.0L264.9 1936.0L262.8 1939.0L259.4 1941.8L253.4 1944.8L247.4 1946.7L244.4 1947.0ZM247.4 1949.1L238.4 1949.4L233.4 1947.9L230.4 1946.2L224.4 1940.0L221.6 1934.0L220.8 1929.0L221.2 1919.0L223.3 1910.0L230.4 1893.0L231.8 1887.0L230.8 1881.0L226.4 1874.1L222.2 1864.0L221.2 1857.0L221.8 1849.0L223.2 1843.0L227.1 1836.0L231.4 1832.2L236.4 1830.0L241.4 1830.0L246.4 1831.1L253.3 1835.0L258.4 1840.5L262.2 1847.0L263.6 1856.0L262.8 1862.0L260.4 1868.0L254.4 1878.8L253.1 1885.0L255.4 1892.0L267.4 1911.0L270.5 1922.0L270.4 1930.0L268.7 1936.0L266.8 1939.0L264.7 1941.0L257.4 1946.2L252.4 1948.1L247.4 1949.1ZM244.4 1954.0L234.4 1953.2L230.4 1951.4L225.9 1948.0L221.6 1943.0L218.1 1936.0L216.7 1927.0L217.1 1919.0L218.8 1910.0L224.8 1893.0L226.1 1886.0L225.1 1881.0L219.8 1868.0L218.6 1863.0L217.8 1854.0L218.9 1845.0L221.9 1837.0L226.4 1830.3L232.4 1826.2L236.4 1825.2L242.4 1825.1L247.4 1826.1L255.4 1830.2L258.6 1833.0L262.9 1838.0L266.0 1844.0L267.9 1850.0L268.3 1855.0L267.9 1860.0L266.8 1865.0L261.1 1880.0L260.7 1885.0L261.7 1889.0L268.5 1900.0L273.4 1910.0L276.4 1924.0L276.1 1931.0L274.7 1936.0L269.4 1943.3L262.4 1948.7L257.4 1951.2L253.4 1952.5L244.4 1954.0Z" fill="none" stroke="#2a2a2a" stroke-width="1" stroke-linejoin="round"/>
<rect x="182.6" y="1804.3" width="123.2" height="81.9" fill="none" stroke="#DD2B25" stroke-width="1.8"/>
<text x="247.9" y="1797.2" font-size="28.5" text-anchor="middle">38.7%</text>
<rect x="369.9" y="1757" width="227" height="226.5" fill="none" stroke="#9a9a9a" stroke-width="1.2"/>
<path d="M363.4 1778.3L369.9 1778.3M363.4 1832.6L369.9 1832.6M363.4 1893.8L369.9 1893.8M363.4 1932L369.9 1932M363.4 1968.8L369.9 1968.8M366.4 1875.4L369.9 1875.4M366.4 1864.6L369.9 1864.6M366.4 1857L369.9 1857M366.4 1851L369.9 1851M366.4 1846.2L369.9 1846.2M366.4 1842.1L369.9 1842.1M366.4 1838.5L369.9 1838.5M366.4 1835.4L369.9 1835.4M366.4 1816.3L369.9 1816.3M366.4 1806.7L369.9 1806.7M366.4 1799.9L369.9 1799.9M366.4 1794.6L369.9 1794.6M366.4 1790.3L369.9 1790.3M366.4 1786.7L369.9 1786.7M366.4 1783.6L369.9 1783.6M366.4 1780.8L369.9 1780.8M366.4 1769L369.9 1769M366.4 1764L369.9 1764M366.4 1902L369.9 1902M366.4 1909L369.9 1909M366.4 1915L369.9 1915M366.4 1920L369.9 1920M366.4 1924L369.9 1924M366.4 1927L369.9 1927M366.4 1929.5L369.9 1929.5M366.4 1934.5L369.9 1934.5M366.4 1937L369.9 1937M366.4 1940L369.9 1940M366.4 1944L369.9 1944M366.4 1949L369.9 1949M366.4 1955L369.9 1955M366.4 1961L369.9 1961M366.4 1975L369.9 1975M366.4 1981L369.9 1981M383.6 1983.5L383.6 1990.5M421.1 1983.5L421.1 1990.5M457.8 1983.5L457.8 1990.5M519.8 1983.5L519.8 1990.5M574.9 1983.5L574.9 1990.5M372.9 1983.5L372.9 1987.3M389.9 1983.5L389.9 1987.3M395.9 1983.5L395.9 1987.3M400.9 1983.5L400.9 1987.3M404.9 1983.5L404.9 1987.3M408.9 1983.5L408.9 1987.3M411.9 1983.5L411.9 1987.3M414.9 1983.5L414.9 1987.3M416.9 1983.5L416.9 1987.3M418.9 1983.5L418.9 1987.3M423.4 1983.5L423.4 1987.3M425.9 1983.5L425.9 1987.3M428.9 1983.5L428.9 1987.3M432.9 1983.5L432.9 1987.3M437.9 1983.5L437.9 1987.3M443.9 1983.5L443.9 1987.3M449.9 1983.5L449.9 1987.3M476.5 1983.5L476.5 1987.3M487.4 1983.5L487.4 1987.3M495.1 1983.5L495.1 1987.3M501.1 1983.5L501.1 1987.3M506 1983.5L506 1987.3M510.2 1983.5L510.2 1987.3M513.8 1983.5L513.8 1987.3M517 1983.5L517 1987.3M536.4 1983.5L536.4 1987.3M546.1 1983.5L546.1 1987.3M553 1983.5L553 1987.3M558.3 1983.5L558.3 1987.3" stroke="#222" stroke-width="1.3" fill="none"/>
<path d="M416.9 1983.5L416.9 1988.5M418.1 1983.5L418.1 1988.5M419.3 1983.5L419.3 1988.5M420.5 1983.5L420.5 1988.5M421.7 1983.5L421.7 1988.5M422.9 1983.5L422.9 1988.5M424.1 1983.5L424.1 1988.5M364.9 1928L369.9 1928M364.9 1929.2L369.9 1929.2M364.9 1930.4L369.9 1930.4M364.9 1931.6L369.9 1931.6M364.9 1932.8L369.9 1932.8M364.9 1934L369.9 1934M364.9 1935.2L369.9 1935.2" stroke="#111" stroke-width="1.3" fill="none"/>
<text x="381.9" y="2004.5" font-size="9" text-anchor="middle">-10<tspan font-size="6.8" dy="-4">3</tspan></text>
<text x="421.1" y="2004.5" font-size="9" text-anchor="middle">0</text>
<text x="460.9" y="2004.5" font-size="9" text-anchor="middle">10<tspan font-size="6.8" dy="-4">3</tspan></text>
<text x="521.9" y="2004.5" font-size="9" text-anchor="middle">10<tspan font-size="6.8" dy="-4">4</tspan></text>
<text x="575.9" y="2004.5" font-size="9" text-anchor="middle">10<tspan font-size="6.8" dy="-4">5</tspan></text>
<path d="M490.9 1850.1L487.9 1850.0L485.0 1849.0L483.6 1846.0L484.2 1842.0L486.3 1840.0L488.9 1838.7L492.8 1839.0L494.1 1841.0L494.8 1847.0L493.3 1849.0L490.9 1850.1ZM490.9 1851.1L487.9 1851.1L484.6 1850.0L482.9 1848.0L482.3 1846.0L482.5 1843.0L483.9 1840.5L486.9 1838.2L488.9 1837.5L492.9 1837.9L494.4 1839.0L495.5 1841.0L495.9 1846.0L495.4 1848.0L493.9 1849.7L490.9 1851.1ZM484.9 1925.1L481.9 1925.2L477.7 1922.0L477.9 1918.0L479.9 1914.9L481.6 1914.0L484.6 1914.0L486.8 1917.0L485.9 1923.0L484.9 1925.1ZM491.9 1852.0L488.9 1852.3L484.9 1851.4L482.8 1850.0L481.4 1847.0L481.3 1844.0L482.3 1841.0L484.6 1838.0L487.9 1836.4L491.9 1836.6L493.9 1837.3L495.7 1839.0L497.2 1842.0L497.2 1845.0L496.4 1848.0L494.9 1850.1L491.9 1852.0ZM484.9 1928.1L481.9 1928.5L479.9 1927.9L475.9 1923.3L475.4 1922.0L476.5 1917.0L478.3 1914.0L479.9 1912.5L483.9 1911.4L485.9 1911.9L486.9 1913.0L488.9 1918.0L488.0 1925.0L484.9 1928.1ZM491.9 1853.1L487.9 1853.1L483.9 1852.0L481.9 1850.4L480.6 1848.0L480.3 1844.0L481.2 1841.0L483.7 1837.0L486.9 1835.5L489.9 1835.2L493.9 1836.2L496.8 1839.0L498.5 1842.0L498.6 1845.0L497.0 1849.0L494.9 1851.4L491.9 1853.1ZM485.9 1930.1L482.9 1931.0L478.9 1930.0L474.7 1924.0L474.1 1922.0L474.7 1917.0L477.9 1912.0L479.9 1910.3L483.9 1909.4L486.9 1910.5L488.5 1912.0L490.8 1919.0L490.5 1925.0L485.9 1930.1ZM491.9 1854.2L487.9 1854.1L483.7 1853.0L481.2 1851.0L479.5 1848.0L479.3 1844.0L479.9 1841.4L482.2 1837.0L484.9 1834.9L488.9 1834.1L492.9 1834.5L496.9 1837.6L499.3 1841.0L499.7 1845.0L498.3 1849.0L495.7 1852.0L491.9 1854.2ZM485.9 1932.3L482.9 1933.0L477.9 1931.1L475.3 1928.0L472.9 1923.0L472.6 1917.0L475.9 1911.5L478.4 1909.0L483.9 1907.3L486.9 1908.3L489.9 1911.0L491.4 1914.0L492.9 1920.0L491.9 1926.2L485.9 1932.3ZM491.9 1855.2L486.9 1855.1L482.9 1853.7L480.7 1852.0L478.3 1848.0L478.4 1843.0L479.4 1840.0L481.6 1836.0L484.9 1833.7L489.9 1833.0L493.9 1833.9L497.7 1837.0L500.4 1841.0L500.6 1846.0L499.3 1850.0L494.9 1853.8L491.9 1855.2ZM486.9 1934.1L481.9 1934.5L476.6 1932.0L472.9 1928.0L471.1 1919.0L471.5 1916.0L474.9 1909.6L476.9 1907.7L482.9 1905.1L486.9 1906.3L490.9 1909.7L492.9 1913.6L494.4 1919.0L494.2 1923.0L493.0 1927.0L486.9 1934.1ZM491.9 1856.2L486.9 1856.3L481.9 1854.3L479.4 1852.0L477.1 1848.0L477.3 1843.0L479.0 1838.0L481.0 1835.0L484.9 1832.3L490.9 1831.9L494.9 1833.3L498.4 1836.0L501.4 1841.0L501.8 1846.0L500.7 1850.0L495.1 1855.0L491.9 1856.2ZM485.9 1936.2L479.9 1936.5L475.9 1934.0L471.1 1928.0L469.7 1920.0L470.2 1916.0L473.9 1908.2L476.9 1905.4L481.9 1902.7L485.9 1903.4L491.9 1908.0L494.5 1914.0L495.7 1919.0L495.4 1924.0L493.0 1930.0L488.9 1934.9L485.9 1936.2ZM492.9 1857.1L487.9 1857.7L481.9 1855.6L478.8 1853.0L476.2 1849.0L475.7 1845.0L478.0 1837.0L480.2 1834.0L484.9 1831.0L491.9 1830.8L496.9 1833.0L499.4 1835.0L502.3 1840.0L503.0 1846.0L502.0 1850.0L500.6 1852.0L495.9 1855.9L492.9 1857.1ZM484.9 1938.1L478.9 1938.2L476.3 1937.0L473.9 1934.7L469.9 1929.0L468.3 1920.0L468.8 1916.0L472.0 1908.0L475.9 1903.4L481.9 1900.7L486.9 1901.6L492.9 1906.5L495.5 1912.0L497.0 1918.0L496.8 1924.0L494.6 1931.0L490.1 1936.0L486.9 1937.7L484.9 1938.1ZM490.9 1859.0L487.9 1859.2L485.9 1858.7L479.9 1855.8L475.9 1851.3L474.4 1847.0L474.4 1844.0L475.1 1841.0L477.5 1835.0L481.8 1831.0L485.9 1829.2L491.9 1829.1L498.9 1832.4L501.9 1836.0L503.4 1839.0L504.2 1842.0L504.2 1848.0L502.3 1852.0L496.9 1857.0L490.9 1859.0ZM486.9 1940.4L484.9 1941.0L478.9 1940.2L474.9 1938.2L471.9 1935.6L468.1 1929.0L466.7 1920.0L467.3 1915.0L469.7 1908.0L474.5 1902.0L481.9 1898.8L487.9 1899.6L492.9 1903.5L496.8 1910.0L498.7 1917.0L498.4 1925.0L496.4 1932.0L492.0 1937.0L486.9 1940.4ZM492.9 1860.4L487.9 1860.9L481.9 1858.8L475.9 1854.0L473.4 1849.0L473.0 1843.0L475.0 1836.0L477.9 1832.0L480.9 1829.8L484.9 1827.8L491.9 1827.2L499.8 1831.0L503.1 1835.0L504.8 1838.0L505.9 1842.0L506.0 1847.0L504.1 1852.0L497.9 1858.4L492.9 1860.4ZM485.9 1943.0L478.9 1942.8L473.9 1939.9L469.9 1936.4L468.3 1934.0L466.3 1929.0L464.9 1919.0L465.4 1915.0L467.5 1908.0L472.4 1901.0L478.9 1896.9L483.9 1895.8L486.9 1896.1L489.9 1897.2L494.7 1902.0L498.7 1909.0L500.9 1918.0L500.0 1927.0L497.4 1934.0L492.9 1939.3L488.6 1942.0L485.9 1943.0ZM491.9 1863.2L487.9 1863.4L484.9 1862.8L481.9 1861.5L477.9 1858.6L473.3 1853.0L471.2 1847.0L471.6 1841.0L473.1 1836.0L474.7 1833.0L478.9 1829.0L484.9 1825.8L491.9 1825.4L496.9 1827.1L499.9 1828.8L502.5 1831.0L504.7 1834.0L506.8 1838.0L507.8 1842.0L508.1 1845.0L507.4 1849.0L504.1 1855.0L498.9 1860.1L491.9 1863.2ZM486.9 1945.3L479.9 1945.8L474.9 1944.0L471.9 1941.8L466.4 1935.0L464.0 1929.0L463.0 1924.0L462.8 1919.0L463.6 1913.0L466.7 1905.0L470.9 1899.1L472.9 1897.2L478.9 1892.7L483.9 1891.1L485.9 1891.3L489.9 1893.0L493.8 1896.0L499.7 1905.0L503.2 1918.0L502.4 1928.0L498.9 1936.3L496.9 1939.2L493.9 1941.9L489.9 1944.2L486.9 1945.3ZM485.9 1948.1L480.9 1948.5L475.9 1947.1L471.9 1944.9L468.7 1942.0L464.3 1936.0L462.3 1932.0L461.1 1925.0L460.7 1919.0L461.7 1912.0L464.6 1904.0L470.9 1895.4L481.7 1885.0L483.4 1880.0L485.6 1877.0L485.8 1876.0L485.9 1873.0L484.7 1868.0L476.4 1860.0L471.3 1853.0L469.4 1847.0L470.1 1839.0L472.6 1833.0L476.9 1828.1L482.9 1824.4L489.9 1823.3L493.9 1823.8L497.9 1825.4L501.9 1828.2L504.8 1831.0L507.0 1834.0L508.7 1838.0L509.7 1842.0L509.8 1846.0L508.5 1851.0L505.7 1856.0L500.9 1861.0L493.1 1867.0L491.2 1870.0L490.9 1872.0L491.1 1874.0L492.9 1877.0L491.8 1883.0L492.2 1886.0L499.6 1899.0L501.9 1904.0L504.2 1911.0L505.2 1918.0L504.5 1929.0L501.8 1936.0L497.9 1941.4L491.9 1946.6L485.9 1948.1ZM482.9 1953.0L477.9 1952.7L471.9 1950.0L467.5 1947.0L464.1 1943.0L460.1 1936.0L458.3 1931.0L457.0 1922.0L457.2 1915.0L458.4 1909.0L462.1 1900.0L467.1 1893.0L473.8 1885.0L476.0 1878.0L476.1 1874.0L476.9 1870.0L476.4 1867.0L475.0 1864.0L468.8 1855.0L466.4 1848.0L466.2 1845.0L467.1 1838.0L470.2 1831.0L472.9 1827.6L477.9 1823.1L482.9 1821.0L487.9 1820.1L491.9 1820.0L497.9 1821.8L504.4 1826.0L509.4 1832.0L512.6 1841.0L512.8 1847.0L512.2 1850.0L510.2 1855.0L503.0 1866.0L501.8 1869.0L501.4 1873.0L501.1 1888.0L508.3 1912.0L508.9 1925.0L507.5 1932.0L505.4 1937.0L503.2 1941.0L499.0 1946.0L495.9 1948.8L491.9 1951.1L487.9 1952.4L482.9 1953.0Z" fill="none" stroke="#2a2a2a" stroke-width="1" stroke-linejoin="round"/>
<rect x="425.3" y="1804.3" width="123.6" height="81.9" fill="none" stroke="#DD2B25" stroke-width="1.8"/>
<text x="491.9" y="1797.2" font-size="28.5" text-anchor="middle">37.5%</text>
<rect x="608.4" y="1757" width="227" height="226.5" fill="none" stroke="#9a9a9a" stroke-width="1.2"/>
<path d="M601.9 1778.3L608.4 1778.3M601.9 1832.6L608.4 1832.6M601.9 1893.8L608.4 1893.8M601.9 1932L608.4 1932M601.9 1968.8L608.4 1968.8M604.9 1875.4L608.4 1875.4M604.9 1864.6L608.4 1864.6M604.9 1857L608.4 1857M604.9 1851L608.4 1851M604.9 1846.2L608.4 1846.2M604.9 1842.1L608.4 1842.1M604.9 1838.5L608.4 1838.5M604.9 1835.4L608.4 1835.4M604.9 1816.3L608.4 1816.3M604.9 1806.7L608.4 1806.7M604.9 1799.9L608.4 1799.9M604.9 1794.6L608.4 1794.6M604.9 1790.3L608.4 1790.3M604.9 1786.7L608.4 1786.7M604.9 1783.6L608.4 1783.6M604.9 1780.8L608.4 1780.8M604.9 1769L608.4 1769M604.9 1764L608.4 1764M604.9 1902L608.4 1902M604.9 1909L608.4 1909M604.9 1915L608.4 1915M604.9 1920L608.4 1920M604.9 1924L608.4 1924M604.9 1927L608.4 1927M604.9 1929.5L608.4 1929.5M604.9 1934.5L608.4 1934.5M604.9 1937L608.4 1937M604.9 1940L608.4 1940M604.9 1944L608.4 1944M604.9 1949L608.4 1949M604.9 1955L608.4 1955M604.9 1961L608.4 1961M604.9 1975L608.4 1975M604.9 1981L608.4 1981M622.1 1983.5L622.1 1990.5M659.6 1983.5L659.6 1990.5M696.3 1983.5L696.3 1990.5M758.3 1983.5L758.3 1990.5M813.4 1983.5L813.4 1990.5M611.4 1983.5L611.4 1987.3M628.4 1983.5L628.4 1987.3M634.4 1983.5L634.4 1987.3M639.4 1983.5L639.4 1987.3M643.4 1983.5L643.4 1987.3M647.4 1983.5L647.4 1987.3M650.4 1983.5L650.4 1987.3M653.4 1983.5L653.4 1987.3M655.4 1983.5L655.4 1987.3M657.4 1983.5L657.4 1987.3M661.9 1983.5L661.9 1987.3M664.4 1983.5L664.4 1987.3M667.4 1983.5L667.4 1987.3M671.4 1983.5L671.4 1987.3M676.4 1983.5L676.4 1987.3M682.4 1983.5L682.4 1987.3M688.4 1983.5L688.4 1987.3M715 1983.5L715 1987.3M725.9 1983.5L725.9 1987.3M733.6 1983.5L733.6 1987.3M739.6 1983.5L739.6 1987.3M744.5 1983.5L744.5 1987.3M748.7 1983.5L748.7 1987.3M752.3 1983.5L752.3 1987.3M755.5 1983.5L755.5 1987.3M774.9 1983.5L774.9 1987.3M784.6 1983.5L784.6 1987.3M791.5 1983.5L791.5 1987.3M796.8 1983.5L796.8 1987.3" stroke="#222" stroke-width="1.3" fill="none"/>
<path d="M655.4 1983.5L655.4 1988.5M656.6 1983.5L656.6 1988.5M657.8 1983.5L657.8 1988.5M659 1983.5L659 1988.5M660.2 1983.5L660.2 1988.5M661.4 1983.5L661.4 1988.5M662.6 1983.5L662.6 1988.5M603.4 1928L608.4 1928M603.4 1929.2L608.4 1929.2M603.4 1930.4L608.4 1930.4M603.4 1931.6L608.4 1931.6M603.4 1932.8L608.4 1932.8M603.4 1934L608.4 1934M603.4 1935.2L608.4 1935.2" stroke="#111" stroke-width="1.3" fill="none"/>
<text x="620.4" y="2004.5" font-size="9" text-anchor="middle">-10<tspan font-size="6.8" dy="-4">3</tspan></text>
<text x="659.6" y="2004.5" font-size="9" text-anchor="middle">0</text>
<text x="699.4" y="2004.5" font-size="9" text-anchor="middle">10<tspan font-size="6.8" dy="-4">3</tspan></text>
<text x="760.4" y="2004.5" font-size="9" text-anchor="middle">10<tspan font-size="6.8" dy="-4">4</tspan></text>
<text x="814.4" y="2004.5" font-size="9" text-anchor="middle">10<tspan font-size="6.8" dy="-4">5</tspan></text>
<path d="M726.4 1853.1L724.4 1853.6L721.8 1853.0L720.0 1852.0L717.2 1849.0L716.9 1847.0L717.4 1844.8L720.4 1841.2L722.4 1840.7L726.4 1841.1L728.4 1842.1L729.9 1844.0L729.4 1849.0L726.4 1853.1ZM716.4 1938.5L715.4 1938.0L715.4 1935.0L716.4 1933.7L717.4 1933.5L718.6 1934.0L719.2 1935.0L719.0 1936.0L716.4 1938.5ZM727.4 1854.2L724.4 1854.9L720.7 1854.0L718.4 1853.0L715.8 1850.0L715.4 1848.0L716.4 1843.3L720.4 1839.6L723.4 1839.1L726.4 1839.5L729.4 1841.4L730.9 1843.0L731.5 1845.0L731.0 1849.0L727.4 1854.2ZM715.4 1943.3L714.4 1943.0L713.2 1940.0L713.2 1932.0L714.4 1928.0L718.4 1927.2L721.4 1928.3L722.7 1930.0L723.4 1934.0L722.7 1941.0L718.4 1941.6L715.4 1943.3ZM727.4 1855.1L724.4 1855.6L718.4 1854.0L716.9 1853.0L714.9 1850.0L714.6 1848.0L715.4 1843.0L719.7 1839.0L723.4 1838.1L726.4 1838.6L729.4 1840.5L731.6 1843.0L732.2 1845.0L731.8 1849.0L729.4 1853.3L727.4 1855.1ZM717.4 1945.6L715.4 1945.6L712.9 1944.0L711.9 1940.0L711.7 1932.0L712.9 1927.0L716.4 1921.7L717.4 1921.3L719.7 1922.0L724.4 1925.2L725.4 1928.0L725.9 1933.0L727.2 1936.0L726.4 1938.0L726.6 1941.0L725.4 1943.3L724.4 1944.1L722.4 1944.6L719.4 1943.9L717.4 1945.6ZM726.4 1856.3L723.4 1856.5L717.4 1854.6L715.5 1853.0L713.9 1850.0L713.7 1848.0L714.4 1842.6L717.9 1839.0L720.4 1837.7L724.4 1837.1L727.4 1838.1L731.1 1841.0L732.8 1844.0L732.9 1848.0L731.9 1851.0L729.4 1854.6L726.4 1856.3ZM719.4 1948.0L716.4 1947.8L712.4 1945.9L711.4 1944.6L710.5 1941.0L710.3 1929.0L713.9 1921.0L715.3 1919.0L716.4 1918.4L724.4 1921.5L727.8 1925.0L729.4 1928.0L728.9 1932.0L730.4 1935.2L730.9 1938.0L730.4 1939.9L728.4 1942.0L726.2 1946.0L719.4 1948.0ZM726.4 1857.3L723.4 1857.6L716.4 1855.1L714.4 1853.1L713.0 1850.0L712.8 1848.0L713.5 1842.0L716.4 1839.0L719.4 1837.1L723.4 1836.2L726.4 1836.6L730.4 1839.0L733.2 1843.0L733.8 1847.0L733.0 1851.0L730.3 1855.0L726.4 1857.3ZM716.4 1950.0L714.4 1949.3L711.4 1947.0L710.0 1945.0L708.4 1938.0L709.2 1933.0L708.6 1929.0L712.2 1920.0L715.4 1916.6L717.4 1916.1L720.4 1916.8L724.4 1918.6L729.4 1923.0L733.7 1932.0L732.6 1936.0L732.8 1940.0L730.5 1945.0L727.4 1947.6L725.4 1948.5L720.4 1949.9L716.4 1950.0ZM726.4 1858.4L724.4 1858.8L720.4 1858.0L715.4 1855.6L713.2 1853.0L711.9 1849.0L712.2 1843.0L713.4 1840.4L717.4 1836.9L723.4 1835.2L726.4 1835.5L730.4 1837.5L733.2 1841.0L734.6 1845.0L734.4 1850.0L733.1 1853.0L730.4 1856.2L726.4 1858.4ZM721.4 1952.0L715.4 1952.5L712.4 1951.0L708.8 1946.0L706.9 1940.0L706.7 1937.0L707.9 1933.0L707.2 1929.0L707.8 1926.0L710.7 1919.0L713.4 1915.6L716.4 1913.6L723.4 1914.6L726.4 1916.8L728.1 1920.0L730.4 1921.7L733.2 1925.0L736.0 1932.0L735.0 1937.0L735.0 1941.0L733.4 1945.0L726.4 1950.8L721.4 1952.0ZM724.4 1860.0L718.4 1858.8L714.4 1856.1L712.2 1853.0L710.8 1848.0L711.4 1842.0L714.1 1838.0L718.4 1835.3L724.4 1834.0L728.4 1835.0L731.6 1837.0L734.4 1841.0L735.7 1847.0L734.8 1852.0L732.1 1856.0L729.4 1858.3L724.4 1860.0ZM723.4 1954.1L719.4 1954.8L716.4 1954.6L711.4 1952.4L707.6 1947.0L705.6 1941.0L705.3 1937.0L706.2 1933.0L706.1 1928.0L708.7 1919.0L712.4 1913.6L716.4 1910.6L722.4 1911.5L728.4 1915.0L731.4 1918.6L732.5 1921.0L735.5 1924.0L737.6 1932.0L737.9 1940.0L735.7 1945.0L732.5 1949.0L730.4 1950.1L728.4 1952.3L723.4 1954.1ZM726.4 1861.1L723.4 1861.5L719.4 1860.8L714.6 1858.0L711.4 1854.0L709.6 1848.0L710.2 1842.0L713.4 1837.0L717.4 1834.5L723.4 1832.7L728.4 1833.6L732.2 1836.0L735.3 1840.0L736.8 1846.0L736.4 1851.0L734.4 1855.0L730.8 1859.0L726.4 1861.1ZM721.4 1957.1L715.4 1957.1L709.4 1952.8L705.7 1947.0L704.2 1941.0L704.0 1936.0L705.4 1922.3L708.8 1914.0L713.4 1909.0L716.4 1907.2L722.4 1908.5L732.4 1914.7L736.1 1920.0L738.1 1924.0L740.3 1934.0L740.4 1940.0L735.2 1950.0L731.7 1952.0L729.4 1954.7L721.4 1957.1ZM725.4 1863.2L723.4 1863.3L719.4 1862.6L713.4 1858.6L710.0 1854.0L708.3 1848.0L708.9 1842.0L711.7 1837.0L716.4 1833.5L722.4 1831.4L728.4 1832.2L732.4 1834.6L736.2 1839.0L738.0 1845.0L737.7 1851.0L735.2 1856.0L731.4 1860.2L725.4 1863.2ZM717.4 1960.0L713.4 1958.8L710.4 1956.6L707.0 1953.0L703.9 1947.0L702.5 1937.0L703.6 1923.0L707.0 1913.0L713.4 1905.5L718.4 1903.8L724.4 1905.4L730.4 1909.0L734.4 1912.3L739.6 1921.0L741.7 1927.0L742.8 1934.0L742.3 1941.0L737.7 1951.0L731.7 1956.0L726.4 1958.5L717.4 1960.0ZM726.4 1865.4L724.4 1865.9L719.4 1864.7L712.8 1860.0L708.8 1855.0L706.7 1849.0L707.4 1842.0L710.4 1836.2L715.4 1832.2L722.4 1830.0L728.4 1830.7L733.4 1833.6L737.8 1839.0L739.4 1845.0L739.1 1851.0L736.4 1857.0L732.4 1861.4L726.4 1865.4ZM721.4 1962.2L717.4 1962.8L712.4 1961.7L708.0 1958.0L705.1 1954.0L702.6 1949.0L700.8 1938.0L701.8 1924.0L703.0 1918.0L705.4 1911.0L711.4 1902.6L714.4 1899.9L716.4 1899.1L720.4 1899.1L724.4 1900.1L728.4 1901.5L730.4 1903.1L732.4 1905.2L734.4 1908.6L737.7 1912.0L741.3 1918.0L744.8 1926.0L745.2 1940.0L741.4 1951.0L736.2 1956.0L732.4 1958.4L727.4 1960.8L721.4 1962.2ZM724.4 1870.1L723.4 1870.5L718.4 1867.3L711.4 1861.0L707.2 1855.0L705.2 1849.0L705.9 1842.0L708.7 1836.0L714.4 1831.1L722.4 1828.6L729.4 1829.5L734.8 1833.0L739.3 1839.0L740.8 1846.0L740.2 1852.0L737.7 1858.0L730.4 1865.7L727.4 1868.4L724.4 1870.1ZM720.4 1965.1L715.4 1965.2L711.4 1963.9L708.5 1962.0L705.1 1958.0L700.9 1949.0L699.8 1944.0L699.0 1935.0L700.0 1924.0L701.4 1917.0L704.0 1909.0L708.4 1902.0L719.1 1890.0L720.4 1887.0L722.3 1885.0L722.0 1883.0L722.4 1882.1L723.4 1881.8L724.8 1884.0L725.4 1889.0L727.4 1892.0L728.5 1895.0L730.6 1897.0L736.2 1905.0L742.3 1912.0L745.6 1919.0L747.3 1925.0L748.1 1939.0L747.1 1944.0L743.8 1952.0L738.0 1958.0L732.4 1962.1L720.4 1965.1ZM720.4 1968.0L715.4 1968.3L712.4 1967.3L707.4 1964.3L702.9 1959.0L699.8 1952.0L698.5 1947.0L697.5 1941.0L697.2 1932.0L698.0 1923.0L701.2 1911.0L703.1 1906.0L706.4 1899.7L713.2 1890.0L715.6 1876.0L715.4 1871.0L713.9 1867.0L706.5 1857.0L704.0 1851.0L703.7 1847.0L704.6 1841.0L706.9 1836.0L712.4 1830.5L717.4 1828.1L725.4 1827.2L730.4 1828.2L735.4 1831.5L739.8 1837.0L741.6 1842.0L742.3 1848.0L740.7 1855.0L738.8 1859.0L732.0 1869.0L731.4 1871.0L731.5 1878.0L732.2 1881.0L731.3 1886.0L735.0 1897.0L742.4 1908.0L744.6 1910.0L746.4 1914.0L750.6 1926.0L751.6 1935.0L750.2 1945.0L744.4 1956.0L740.2 1960.0L733.4 1964.5L724.4 1967.6L720.4 1968.0ZM718.4 1974.1L715.4 1974.1L709.4 1972.1L705.4 1969.1L701.2 1964.0L698.5 1959.0L695.7 1952.0L693.6 1941.0L693.6 1934.0L694.6 1921.0L697.2 1910.0L703.0 1895.0L706.7 1888.0L708.4 1880.0L709.2 1873.0L708.2 1866.0L702.8 1857.0L701.1 1852.0L700.5 1847.0L701.2 1841.0L704.2 1834.0L709.4 1828.7L717.4 1824.7L725.4 1823.9L731.4 1825.3L738.4 1830.0L742.1 1835.0L744.6 1842.0L745.2 1846.0L744.6 1853.0L740.2 1864.0L738.6 1871.0L739.0 1881.0L741.2 1892.0L749.2 1905.0L754.7 1917.0L757.5 1928.0L758.0 1932.0L756.9 1943.0L755.2 1949.0L751.0 1957.0L743.4 1965.7L737.4 1969.4L730.4 1972.3L724.4 1973.7L718.4 1974.1Z" fill="none" stroke="#2a2a2a" stroke-width="1" stroke-linejoin="round"/>
<rect x="663.9" y="1804.3" width="123.6" height="81.9" fill="none" stroke="#DD2B25" stroke-width="1.8"/>
<text x="733.4" y="1797.2" font-size="28.5" text-anchor="middle">27.1%</text>
<rect x="846.9" y="1757" width="227" height="226.5" fill="none" stroke="#9a9a9a" stroke-width="1.2"/>
<path d="M840.4 1778.3L846.9 1778.3M840.4 1832.6L846.9 1832.6M840.4 1893.8L846.9 1893.8M840.4 1932L846.9 1932M840.4 1968.8L846.9 1968.8M843.4 1875.4L846.9 1875.4M843.4 1864.6L846.9 1864.6M843.4 1857L846.9 1857M843.4 1851L846.9 1851M843.4 1846.2L846.9 1846.2M843.4 1842.1L846.9 1842.1M843.4 1838.5L846.9 1838.5M843.4 1835.4L846.9 1835.4M843.4 1816.3L846.9 1816.3M843.4 1806.7L846.9 1806.7M843.4 1799.9L846.9 1799.9M843.4 1794.6L846.9 1794.6M843.4 1790.3L846.9 1790.3M843.4 1786.7L846.9 1786.7M843.4 1783.6L846.9 1783.6M843.4 1780.8L846.9 1780.8M843.4 1769L846.9 1769M843.4 1764L846.9 1764M843.4 1902L846.9 1902M843.4 1909L846.9 1909M843.4 1915L846.9 1915M843.4 1920L846.9 1920M843.4 1924L846.9 1924M843.4 1927L846.9 1927M843.4 1929.5L846.9 1929.5M843.4 1934.5L846.9 1934.5M843.4 1937L846.9 1937M843.4 1940L846.9 1940M843.4 1944L846.9 1944M843.4 1949L846.9 1949M843.4 1955L846.9 1955M843.4 1961L846.9 1961M843.4 1975L846.9 1975M843.4 1981L846.9 1981M860.6 1983.5L860.6 1990.5M898.1 1983.5L898.1 1990.5M934.8 1983.5L934.8 1990.5M996.8 1983.5L996.8 1990.5M1051.9 1983.5L1051.9 1990.5M849.9 1983.5L849.9 1987.3M866.9 1983.5L866.9 1987.3M872.9 1983.5L872.9 1987.3M877.9 1983.5L877.9 1987.3M881.9 1983.5L881.9 1987.3M885.9 1983.5L885.9 1987.3M888.9 1983.5L888.9 1987.3M891.9 1983.5L891.9 1987.3M893.9 1983.5L893.9 1987.3M895.9 1983.5L895.9 1987.3M900.4 1983.5L900.4 1987.3M902.9 1983.5L902.9 1987.3M905.9 1983.5L905.9 1987.3M909.9 1983.5L909.9 1987.3M914.9 1983.5L914.9 1987.3M920.9 1983.5L920.9 1987.3M926.9 1983.5L926.9 1987.3M953.5 1983.5L953.5 1987.3M964.4 1983.5L964.4 1987.3M972.1 1983.5L972.1 1987.3M978.1 1983.5L978.1 1987.3M983 1983.5L983 1987.3M987.2 1983.5L987.2 1987.3M990.8 1983.5L990.8 1987.3M994 1983.5L994 1987.3M1013.4 1983.5L1013.4 1987.3M1023.1 1983.5L1023.1 1987.3M1030 1983.5L1030 1987.3M1035.3 1983.5L1035.3 1987.3" stroke="#222" stroke-width="1.3" fill="none"/>
<path d="M893.9 1983.5L893.9 1988.5M895.1 1983.5L895.1 1988.5M896.3 1983.5L896.3 1988.5M897.5 1983.5L897.5 1988.5M898.7 1983.5L898.7 1988.5M899.9 1983.5L899.9 1988.5M901.1 1983.5L901.1 1988.5M841.9 1928L846.9 1928M841.9 1929.2L846.9 1929.2M841.9 1930.4L846.9 1930.4M841.9 1931.6L846.9 1931.6M841.9 1932.8L846.9 1932.8M841.9 1934L846.9 1934M841.9 1935.2L846.9 1935.2" stroke="#111" stroke-width="1.3" fill="none"/>
<text x="858.9" y="2004.5" font-size="9" text-anchor="middle">-10<tspan font-size="6.8" dy="-4">3</tspan></text>
<text x="898.1" y="2004.5" font-size="9" text-anchor="middle">0</text>
<text x="937.9" y="2004.5" font-size="9" text-anchor="middle">10<tspan font-size="6.8" dy="-4">3</tspan></text>
<text x="998.9" y="2004.5" font-size="9" text-anchor="middle">10<tspan font-size="6.8" dy="-4">4</tspan></text>
<text x="1052.9" y="2004.5" font-size="9" text-anchor="middle">10<tspan font-size="6.8" dy="-4">5</tspan></text>
<path d="M962.9 1938.1L958.9 1938.2L956.9 1935.9L953.9 1935.4L952.4 1933.0L952.0 1930.0L953.4 1924.0L956.9 1920.5L958.9 1920.4L960.3 1921.0L962.6 1925.0L963.8 1929.0L963.5 1932.0L964.9 1935.0L963.9 1937.3L962.9 1938.1ZM955.9 1942.1L953.9 1941.3L952.9 1940.0L950.5 1933.0L950.2 1930.0L951.1 1924.0L951.9 1921.4L953.9 1919.0L957.9 1917.0L959.9 1916.9L964.6 1919.0L965.7 1920.0L966.5 1924.0L968.6 1927.0L969.9 1931.0L964.9 1939.9L962.9 1940.6L958.9 1941.0L955.9 1942.1ZM959.9 1945.1L957.9 1945.4L952.9 1943.4L951.9 1942.5L949.2 1935.0L948.7 1930.0L949.5 1923.0L950.9 1918.9L954.3 1914.0L955.9 1912.8L957.9 1912.2L960.9 1913.4L969.0 1919.0L972.3 1927.0L972.6 1929.0L972.0 1932.0L968.3 1938.0L967.7 1941.0L964.9 1943.3L959.9 1945.1ZM964.9 1846.0L961.9 1846.1L960.9 1844.0L960.9 1842.0L962.9 1841.3L966.9 1842.6L967.3 1844.0L966.9 1845.2L964.9 1846.0ZM959.9 1948.2L957.9 1948.6L956.9 1948.2L954.9 1946.4L950.9 1944.7L949.4 1940.0L947.8 1937.0L947.5 1935.0L947.2 1924.0L948.4 1920.0L951.1 1914.0L955.9 1909.4L957.9 1908.8L961.7 1910.0L965.9 1913.7L968.9 1915.3L972.6 1920.0L973.2 1923.0L974.9 1927.0L974.1 1933.0L971.5 1938.0L970.5 1942.0L965.9 1945.9L959.9 1948.2ZM964.9 1854.3L962.9 1854.4L961.9 1853.9L958.6 1847.0L959.0 1841.0L960.9 1839.4L963.9 1838.8L967.9 1840.4L968.9 1841.2L969.4 1843.0L969.0 1848.0L966.6 1853.0L964.9 1854.3ZM958.9 1950.4L956.9 1950.5L954.2 1948.0L950.9 1946.8L949.9 1945.7L946.6 1937.0L945.7 1928.0L945.9 1922.6L949.2 1914.0L953.9 1909.0L956.9 1907.2L963.9 1908.6L966.9 1911.1L969.9 1912.7L974.5 1920.0L974.8 1923.0L976.6 1927.0L975.6 1934.0L973.7 1937.0L972.7 1941.0L970.9 1944.2L967.9 1947.4L963.9 1948.4L958.9 1950.4ZM967.9 1856.5L961.9 1856.8L960.9 1856.2L956.3 1848.0L956.2 1846.0L957.6 1840.0L958.9 1838.5L960.9 1837.4L963.9 1836.9L965.9 1837.1L968.9 1838.8L970.7 1841.0L971.0 1848.0L969.7 1851.0L969.0 1855.0L967.9 1856.5ZM958.9 1952.1L955.9 1952.3L949.1 1947.0L945.4 1937.0L944.4 1930.0L944.8 1922.0L947.6 1914.0L951.9 1908.3L955.9 1905.8L957.9 1905.5L963.9 1906.3L971.6 1911.0L975.9 1919.0L978.3 1927.0L977.4 1934.0L976.2 1939.0L972.9 1944.0L971.1 1948.0L968.9 1949.3L963.9 1950.3L958.9 1952.1ZM964.9 1860.0L960.9 1860.1L959.3 1859.0L954.4 1848.0L954.7 1843.0L955.8 1840.0L957.9 1837.4L960.9 1835.7L964.9 1835.5L967.9 1836.3L970.9 1838.7L972.7 1842.0L972.7 1848.0L970.6 1856.0L968.9 1858.2L964.9 1860.0ZM955.9 1955.0L954.0 1954.0L948.7 1949.0L945.9 1943.0L943.0 1931.0L943.5 1923.0L946.2 1914.0L950.4 1907.0L954.9 1903.7L961.9 1902.8L971.6 1908.0L974.0 1910.0L979.7 1924.0L980.3 1928.0L979.8 1934.0L977.9 1940.0L974.5 1945.0L972.9 1949.0L968.9 1951.2L962.9 1953.4L959.9 1953.5L955.9 1955.0ZM965.9 1864.5L963.9 1864.8L958.9 1862.2L957.9 1861.1L955.5 1857.0L953.0 1849.0L952.7 1843.0L953.2 1841.0L956.1 1837.0L958.9 1834.9L960.9 1834.2L965.9 1834.2L969.9 1835.8L973.1 1839.0L974.3 1842.0L974.4 1848.0L972.1 1857.0L965.9 1864.5ZM957.9 1957.2L955.9 1957.3L953.9 1956.7L949.4 1953.0L946.9 1949.2L944.1 1942.0L942.0 1932.0L942.1 1925.0L942.5 1922.0L944.8 1914.0L948.5 1907.0L953.9 1901.9L959.9 1899.4L961.9 1899.1L967.9 1901.6L969.9 1904.1L974.9 1908.2L977.6 1912.0L980.0 1920.0L981.5 1923.0L982.3 1930.0L981.3 1936.0L974.9 1949.8L968.9 1953.4L965.9 1954.3L962.9 1956.1L959.9 1956.3L957.9 1957.2ZM964.9 1869.2L961.9 1869.1L956.8 1864.0L955.1 1860.0L953.0 1857.0L951.2 1850.0L950.7 1843.0L951.7 1840.0L954.9 1835.9L958.9 1833.3L961.9 1832.5L965.9 1832.6L971.4 1835.0L974.3 1838.0L975.7 1842.0L976.0 1848.0L973.7 1858.0L970.0 1864.0L967.9 1865.9L966.8 1868.0L964.9 1869.2ZM960.9 1959.1L956.9 1959.7L953.9 1958.9L948.9 1955.2L947.0 1953.0L942.5 1942.0L940.8 1932.0L940.8 1926.0L941.3 1921.0L943.6 1913.0L946.5 1907.0L951.3 1901.0L955.9 1897.0L957.9 1896.0L962.9 1894.8L964.9 1895.5L969.9 1899.4L971.9 1903.0L975.3 1906.0L979.8 1912.0L981.9 1919.0L983.3 1922.0L984.0 1930.0L983.7 1934.0L981.5 1942.0L976.3 1951.0L969.9 1955.4L962.9 1958.7L960.9 1959.1ZM963.9 1876.4L961.9 1876.0L959.1 1871.0L954.6 1865.0L953.5 1861.0L951.5 1858.0L949.6 1851.0L949.2 1843.0L950.4 1839.0L953.9 1834.7L956.9 1832.7L959.9 1831.5L964.9 1830.8L971.9 1833.4L974.5 1836.0L977.1 1841.0L977.5 1847.0L975.2 1858.0L972.8 1864.0L969.6 1870.0L965.3 1873.0L964.9 1875.1L963.9 1876.4ZM958.9 1962.1L952.9 1960.6L947.9 1956.4L945.2 1953.0L941.9 1945.0L940.8 1941.0L939.6 1932.0L939.9 1922.0L942.0 1913.0L944.7 1907.0L947.0 1904.0L949.9 1899.0L958.9 1889.5L962.5 1887.0L962.8 1884.0L963.9 1882.1L964.9 1884.0L963.8 1887.0L964.2 1888.0L966.4 1891.0L969.9 1894.0L974.7 1902.0L979.8 1908.0L981.9 1912.0L985.2 1921.0L985.6 1934.0L984.6 1937.0L984.1 1942.0L975.5 1955.0L967.9 1959.7L958.9 1962.1ZM962.9 1964.1L958.9 1964.6L952.9 1963.2L950.9 1961.8L944.2 1955.0L939.3 1941.0L938.2 1932.0L938.7 1920.0L940.8 1912.0L943.4 1906.0L947.2 1899.0L953.5 1891.0L957.1 1882.0L957.5 1878.0L957.0 1875.0L952.4 1865.0L948.2 1852.0L947.7 1844.0L948.2 1841.0L950.6 1836.0L953.9 1832.5L959.9 1829.7L963.9 1829.2L969.9 1830.5L972.9 1832.2L975.6 1835.0L978.4 1840.0L979.0 1847.0L977.6 1855.0L972.3 1872.0L969.3 1877.0L968.7 1884.0L976.0 1899.0L982.1 1908.0L987.0 1919.0L987.5 1926.0L988.3 1930.0L986.7 1941.0L980.6 1953.0L975.9 1957.3L969.9 1961.6L962.9 1964.1ZM963.9 1967.4L957.9 1967.9L952.9 1967.4L947.9 1964.5L944.8 1961.0L941.2 1955.0L938.6 1947.0L936.6 1940.0L936.0 1932.0L936.9 1918.0L938.8 1911.0L943.2 1901.0L949.2 1891.0L952.7 1882.0L952.9 1875.0L947.6 1859.0L945.5 1850.0L945.7 1842.0L947.5 1836.0L949.9 1832.7L952.9 1829.8L958.9 1827.5L963.9 1826.9L969.9 1827.8L971.9 1828.8L977.8 1834.0L980.6 1840.0L981.3 1847.0L980.2 1855.0L976.7 1870.0L974.7 1876.0L975.3 1886.0L977.2 1893.0L985.7 1908.0L990.3 1918.0L991.8 1929.0L990.6 1940.0L987.2 1949.0L983.9 1954.2L975.9 1962.7L970.9 1965.5L963.9 1967.4ZM959.9 1975.1L953.9 1974.8L950.9 1973.5L946.9 1970.7L940.9 1964.1L935.3 1952.0L933.4 1944.0L932.0 1933.0L932.4 1923.0L934.1 1912.0L936.3 1905.0L944.9 1887.0L946.3 1882.0L946.3 1873.0L944.9 1866.0L943.1 1861.0L941.2 1850.0L940.7 1843.0L941.5 1839.0L945.2 1832.0L950.1 1827.0L957.9 1823.6L963.9 1822.9L969.9 1823.8L975.0 1826.0L981.3 1832.0L984.0 1838.0L984.8 1842.0L985.0 1850.0L982.5 1865.0L981.3 1882.0L983.2 1890.0L994.5 1911.0L994.9 1915.0L997.0 1921.0L997.4 1933.0L996.8 1939.0L994.6 1948.0L987.9 1959.7L983.9 1964.0L975.9 1970.0L966.9 1974.1L959.9 1975.1Z" fill="none" stroke="#2a2a2a" stroke-width="1" stroke-linejoin="round"/>
<rect x="900.9" y="1804.3" width="122.9" height="81.9" fill="none" stroke="#DD2B25" stroke-width="1.8"/>
<text x="968.3" y="1797.2" font-size="28.5" text-anchor="middle">22.4%</text>
<rect x="1085.4" y="1757" width="227" height="226.5" fill="none" stroke="#9a9a9a" stroke-width="1.2"/>
<path d="M1078.9 1778.3L1085.4 1778.3M1078.9 1832.6L1085.4 1832.6M1078.9 1893.8L1085.4 1893.8M1078.9 1932L1085.4 1932M1078.9 1968.8L1085.4 1968.8M1081.9 1875.4L1085.4 1875.4M1081.9 1864.6L1085.4 1864.6M1081.9 1857L1085.4 1857M1081.9 1851L1085.4 1851M1081.9 1846.2L1085.4 1846.2M1081.9 1842.1L1085.4 1842.1M1081.9 1838.5L1085.4 1838.5M1081.9 1835.4L1085.4 1835.4M1081.9 1816.3L1085.4 1816.3M1081.9 1806.7L1085.4 1806.7M1081.9 1799.9L1085.4 1799.9M1081.9 1794.6L1085.4 1794.6M1081.9 1790.3L1085.4 1790.3M1081.9 1786.7L1085.4 1786.7M1081.9 1783.6L1085.4 1783.6M1081.9 1780.8L1085.4 1780.8M1081.9 1769L1085.4 1769M1081.9 1764L1085.4 1764M1081.9 1902L1085.4 1902M1081.9 1909L1085.4 1909M1081.9 1915L1085.4 1915M1081.9 1920L1085.4 1920M1081.9 1924L1085.4 1924M1081.9 1927L1085.4 1927M1081.9 1929.5L1085.4 1929.5M1081.9 1934.5L1085.4 1934.5M1081.9 1937L1085.4 1937M1081.9 1940L1085.4 1940M1081.9 1944L1085.4 1944M1081.9 1949L1085.4 1949M1081.9 1955L1085.4 1955M1081.9 1961L1085.4 1961M1081.9 1975L1085.4 1975M1081.9 1981L1085.4 1981M1099.1 1983.5L1099.1 1990.5M1136.6 1983.5L1136.6 1990.5M1173.3 1983.5L1173.3 1990.5M1235.3 1983.5L1235.3 1990.5M1290.4 1983.5L1290.4 1990.5M1088.4 1983.5L1088.4 1987.3M1105.4 1983.5L1105.4 1987.3M1111.4 1983.5L1111.4 1987.3M1116.4 1983.5L1116.4 1987.3M1120.4 1983.5L1120.4 1987.3M1124.4 1983.5L1124.4 1987.3M1127.4 1983.5L1127.4 1987.3M1130.4 1983.5L1130.4 1987.3M1132.4 1983.5L1132.4 1987.3M1134.4 1983.5L1134.4 1987.3M1138.9 1983.5L1138.9 1987.3M1141.4 1983.5L1141.4 1987.3M1144.4 1983.5L1144.4 1987.3M1148.4 1983.5L1148.4 1987.3M1153.4 1983.5L1153.4 1987.3M1159.4 1983.5L1159.4 1987.3M1165.4 1983.5L1165.4 1987.3M1192 1983.5L1192 1987.3M1202.9 1983.5L1202.9 1987.3M1210.6 1983.5L1210.6 1987.3M1216.6 1983.5L1216.6 1987.3M1221.5 1983.5L1221.5 1987.3M1225.7 1983.5L1225.7 1987.3M1229.3 1983.5L1229.3 1987.3M1232.5 1983.5L1232.5 1987.3M1251.9 1983.5L1251.9 1987.3M1261.6 1983.5L1261.6 1987.3M1268.5 1983.5L1268.5 1987.3M1273.8 1983.5L1273.8 1987.3" stroke="#222" stroke-width="1.3" fill="none"/>
<path d="M1132.4 1983.5L1132.4 1988.5M1133.6 1983.5L1133.6 1988.5M1134.8 1983.5L1134.8 1988.5M1136 1983.5L1136 1988.5M1137.2 1983.5L1137.2 1988.5M1138.4 1983.5L1138.4 1988.5M1139.6 1983.5L1139.6 1988.5M1080.4 1928L1085.4 1928M1080.4 1929.2L1085.4 1929.2M1080.4 1930.4L1085.4 1930.4M1080.4 1931.6L1085.4 1931.6M1080.4 1932.8L1085.4 1932.8M1080.4 1934L1085.4 1934M1080.4 1935.2L1085.4 1935.2" stroke="#111" stroke-width="1.3" fill="none"/>
<text x="1097.4" y="2004.5" font-size="9" text-anchor="middle">-10<tspan font-size="6.8" dy="-4">3</tspan></text>
<text x="1136.6" y="2004.5" font-size="9" text-anchor="middle">0</text>
<text x="1176.4" y="2004.5" font-size="9" text-anchor="middle">10<tspan font-size="6.8" dy="-4">3</tspan></text>
<text x="1237.4" y="2004.5" font-size="9" text-anchor="middle">10<tspan font-size="6.8" dy="-4">4</tspan></text>
<text x="1291.4" y="2004.5" font-size="9" text-anchor="middle">10<tspan font-size="6.8" dy="-4">5</tspan></text>
<path d="M1194.4 1939.0L1193.4 1938.4L1191.4 1934.2L1191.1 1931.0L1192.0 1929.0L1194.4 1927.0L1195.0 1923.0L1196.4 1922.0L1198.4 1922.0L1201.5 1926.0L1202.6 1929.0L1203.1 1934.0L1201.4 1938.3L1200.4 1938.7L1197.4 1937.4L1194.4 1939.0ZM1200.4 1945.7L1199.4 1945.8L1198.6 1945.0L1197.4 1942.5L1194.4 1942.6L1192.3 1942.0L1191.6 1941.0L1189.3 1931.0L1189.6 1929.0L1191.4 1925.7L1192.4 1921.1L1194.4 1919.2L1196.4 1918.2L1203.2 1922.0L1205.7 1931.0L1204.6 1940.0L1200.4 1945.7ZM1197.4 1949.1L1194.4 1948.8L1193.6 1948.0L1193.7 1946.0L1189.6 1942.0L1189.0 1940.0L1187.9 1930.0L1189.9 1923.0L1191.4 1919.9L1193.4 1917.6L1196.4 1916.1L1200.4 1916.9L1202.2 1919.0L1205.4 1921.1L1207.8 1926.0L1208.4 1931.0L1206.8 1942.0L1201.4 1948.1L1197.4 1949.1ZM1201.4 1951.3L1195.4 1951.6L1192.4 1950.2L1190.4 1948.0L1186.5 1940.0L1186.8 1933.0L1186.3 1930.0L1188.4 1922.0L1191.2 1915.0L1192.4 1914.2L1196.4 1913.4L1202.4 1914.5L1204.6 1917.0L1207.4 1918.7L1210.3 1927.0L1210.8 1934.0L1208.9 1942.0L1203.4 1949.9L1201.4 1951.3ZM1200.4 1955.1L1193.4 1954.1L1187.9 1948.0L1184.9 1940.0L1185.1 1933.0L1184.6 1930.0L1186.1 1922.0L1189.4 1914.0L1195.4 1909.7L1199.4 1909.4L1202.4 1910.8L1209.4 1918.3L1212.5 1926.0L1212.1 1930.0L1212.7 1934.0L1212.5 1937.0L1210.1 1944.0L1207.7 1947.0L1205.8 1951.0L1202.4 1954.1L1200.4 1955.1ZM1201.4 1853.8L1199.4 1853.6L1196.4 1852.0L1195.8 1851.0L1195.1 1847.0L1196.4 1843.5L1201.4 1842.7L1202.5 1843.0L1204.1 1845.0L1204.4 1847.0L1203.0 1849.0L1202.4 1852.7L1201.4 1853.8ZM1202.4 1957.0L1196.4 1957.5L1194.4 1957.1L1192.4 1955.9L1189.0 1952.0L1186.5 1948.0L1184.6 1943.0L1183.8 1939.0L1183.8 1927.0L1185.0 1921.0L1187.9 1914.0L1193.4 1907.6L1198.4 1906.4L1203.4 1908.8L1207.4 1912.8L1211.2 1919.0L1213.8 1926.0L1213.5 1930.0L1214.0 1936.0L1211.7 1944.0L1208.4 1951.0L1202.4 1957.0ZM1200.4 1858.5L1198.4 1858.9L1197.4 1858.2L1194.4 1854.0L1193.6 1851.0L1193.6 1847.0L1194.3 1843.0L1196.4 1841.0L1198.4 1840.4L1201.4 1840.4L1203.7 1841.0L1205.4 1843.3L1206.4 1846.0L1204.5 1855.0L1203.4 1856.7L1200.4 1858.5ZM1198.4 1960.3L1196.4 1960.4L1193.4 1959.5L1191.4 1958.0L1187.4 1953.4L1183.4 1944.0L1182.4 1933.0L1182.5 1926.0L1183.7 1921.0L1187.4 1912.0L1192.0 1906.0L1198.4 1903.2L1200.4 1903.9L1208.4 1910.8L1210.2 1913.0L1215.1 1925.0L1215.4 1936.0L1214.0 1943.0L1209.2 1954.0L1203.4 1958.8L1198.4 1960.3ZM1200.4 1861.6L1198.4 1862.0L1195.4 1860.1L1192.7 1854.0L1191.9 1850.0L1192.6 1844.0L1194.0 1841.0L1196.4 1839.1L1200.4 1838.6L1203.4 1839.1L1205.4 1840.3L1207.4 1843.7L1208.0 1847.0L1207.5 1853.0L1206.5 1856.0L1203.4 1859.8L1200.4 1861.6ZM1200.4 1962.0L1197.4 1962.6L1192.4 1962.3L1186.4 1954.8L1182.3 1945.0L1181.1 1933.0L1181.2 1926.0L1182.3 1921.0L1185.7 1912.0L1188.3 1907.0L1193.4 1902.6L1196.4 1900.9L1198.4 1900.4L1200.4 1900.8L1203.4 1902.7L1211.4 1911.4L1215.8 1921.0L1216.9 1926.0L1216.9 1937.0L1215.8 1943.0L1210.9 1955.0L1209.4 1956.8L1204.4 1960.4L1200.4 1962.0ZM1200.4 1867.1L1198.4 1866.6L1195.4 1864.4L1194.4 1863.0L1192.6 1859.0L1190.8 1853.0L1190.5 1850.0L1191.2 1844.0L1193.4 1839.3L1196.4 1837.1L1200.4 1836.5L1203.4 1837.4L1207.3 1840.0L1209.0 1843.0L1210.0 1848.0L1208.3 1857.0L1205.4 1862.2L1202.4 1864.3L1200.4 1867.1ZM1198.4 1965.1L1193.4 1964.7L1191.4 1963.9L1187.2 1959.0L1184.7 1955.0L1181.0 1945.0L1179.6 1928.0L1180.5 1922.0L1183.3 1913.0L1186.8 1906.0L1193.4 1898.8L1196.4 1897.5L1200.4 1897.6L1203.4 1899.0L1207.4 1902.8L1211.4 1907.9L1216.2 1916.0L1219.0 1927.0L1218.9 1937.0L1217.9 1940.0L1217.4 1944.0L1213.1 1955.0L1210.4 1958.7L1204.4 1963.2L1198.4 1965.1ZM1202.4 1870.5L1200.4 1870.9L1198.4 1870.5L1196.4 1869.3L1194.0 1867.0L1191.4 1860.9L1189.2 1852.0L1189.7 1844.0L1192.3 1838.0L1194.4 1836.2L1199.4 1834.5L1202.4 1835.0L1208.4 1838.6L1210.8 1842.0L1211.9 1846.0L1211.9 1850.0L1210.8 1856.0L1208.9 1860.0L1208.4 1863.0L1204.4 1867.2L1202.4 1870.5ZM1201.4 1967.0L1195.4 1967.7L1191.4 1966.4L1189.6 1965.0L1184.6 1959.0L1179.9 1946.0L1178.6 1939.0L1178.1 1927.0L1179.2 1921.0L1180.7 1917.0L1181.3 1913.0L1185.3 1905.0L1193.3 1894.0L1199.4 1891.0L1201.4 1891.4L1203.5 1893.0L1210.5 1901.0L1218.0 1915.0L1220.9 1927.0L1220.4 1931.0L1220.6 1938.0L1219.1 1945.0L1215.5 1955.0L1212.9 1959.0L1205.4 1965.8L1201.4 1967.0ZM1196.4 1970.1L1192.4 1969.4L1189.4 1968.0L1182.4 1959.0L1178.9 1948.0L1177.3 1939.0L1176.9 1927.0L1180.0 1912.0L1183.4 1905.0L1192.8 1890.0L1194.3 1884.0L1196.0 1881.0L1196.1 1876.0L1193.7 1872.0L1191.9 1867.0L1188.3 1853.0L1188.7 1843.0L1190.8 1838.0L1192.4 1835.8L1197.4 1833.4L1200.4 1833.1L1203.4 1833.7L1208.4 1836.6L1210.8 1839.0L1213.5 1844.0L1213.4 1852.0L1212.0 1858.0L1210.8 1861.0L1210.7 1864.0L1206.4 1871.8L1204.5 1874.0L1203.3 1883.0L1209.2 1894.0L1210.7 1898.0L1214.4 1903.0L1219.6 1914.0L1222.4 1926.0L1222.0 1931.0L1222.3 1937.0L1220.6 1946.0L1217.7 1955.0L1215.5 1959.0L1207.4 1967.4L1202.4 1969.4L1199.4 1969.4L1196.4 1970.1ZM1196.4 1975.0L1194.4 1974.6L1187.4 1970.3L1185.3 1968.0L1180.0 1960.0L1176.9 1949.0L1175.1 1939.0L1175.1 1926.0L1177.9 1911.0L1184.9 1896.0L1187.9 1891.0L1191.1 1880.0L1190.6 1873.0L1186.8 1853.0L1186.9 1843.0L1189.3 1837.0L1191.4 1834.0L1195.4 1831.7L1201.4 1831.0L1204.4 1831.8L1209.4 1834.4L1213.1 1838.0L1215.8 1844.0L1215.7 1851.0L1214.7 1858.0L1212.4 1867.0L1210.0 1873.0L1209.7 1880.0L1212.3 1892.0L1214.3 1897.0L1217.8 1903.0L1222.1 1914.0L1223.9 1920.0L1225.0 1926.0L1224.7 1937.0L1222.9 1949.0L1218.7 1959.0L1214.5 1966.0L1206.8 1972.0L1196.4 1975.0ZM1200.4 1982.0L1194.4 1981.5L1190.4 1980.5L1182.4 1973.0L1180.4 1970.4L1177.7 1965.0L1174.6 1956.0L1172.2 1946.0L1171.3 1935.0L1171.6 1924.0L1173.7 1911.0L1175.7 1905.0L1183.7 1887.0L1185.5 1881.0L1185.6 1867.0L1183.6 1850.0L1184.4 1841.0L1186.2 1836.0L1189.4 1831.5L1193.4 1828.6L1198.4 1827.6L1205.4 1828.2L1210.4 1830.6L1215.7 1835.0L1218.8 1841.0L1219.7 1848.0L1219.7 1855.0L1217.1 1868.0L1216.6 1883.0L1219.7 1895.0L1224.2 1904.0L1228.0 1916.0L1229.9 1929.0L1229.3 1934.0L1229.5 1939.0L1228.1 1949.0L1224.5 1959.0L1220.9 1966.0L1213.6 1975.0L1207.4 1979.3L1200.4 1982.0Z" fill="none" stroke="#2a2a2a" stroke-width="1" stroke-linejoin="round"/>
<rect x="1140.1" y="1804.3" width="122.8" height="81.9" fill="none" stroke="#DD2B25" stroke-width="1.8"/>
<text x="1203" y="1797.2" font-size="28.5" text-anchor="middle">16.3%</text>
<rect x="131.4" y="2016" width="227" height="226.5" fill="none" stroke="#9a9a9a" stroke-width="1.2"/>
<path d="M124.9 2037.3L131.4 2037.3M124.9 2091.6L131.4 2091.6M124.9 2152.8L131.4 2152.8M124.9 2191L131.4 2191M124.9 2227.8L131.4 2227.8M127.9 2134.4L131.4 2134.4M127.9 2123.6L131.4 2123.6M127.9 2116L131.4 2116M127.9 2110L131.4 2110M127.9 2105.2L131.4 2105.2M127.9 2101.1L131.4 2101.1M127.9 2097.5L131.4 2097.5M127.9 2094.4L131.4 2094.4M127.9 2075.3L131.4 2075.3M127.9 2065.7L131.4 2065.7M127.9 2058.9L131.4 2058.9M127.9 2053.6L131.4 2053.6M127.9 2049.3L131.4 2049.3M127.9 2045.7L131.4 2045.7M127.9 2042.6L131.4 2042.6M127.9 2039.8L131.4 2039.8M127.9 2028L131.4 2028M127.9 2023L131.4 2023M127.9 2161L131.4 2161M127.9 2168L131.4 2168M127.9 2174L131.4 2174M127.9 2179L131.4 2179M127.9 2183L131.4 2183M127.9 2186L131.4 2186M127.9 2188.5L131.4 2188.5M127.9 2193.5L131.4 2193.5M127.9 2196L131.4 2196M127.9 2199L131.4 2199M127.9 2203L131.4 2203M127.9 2208L131.4 2208M127.9 2214L131.4 2214M127.9 2220L131.4 2220M127.9 2234L131.4 2234M127.9 2240L131.4 2240M145.1 2242.5L145.1 2249.5M182.6 2242.5L182.6 2249.5M219.3 2242.5L219.3 2249.5M281.3 2242.5L281.3 2249.5M336.4 2242.5L336.4 2249.5M134.4 2242.5L134.4 2246.3M151.4 2242.5L151.4 2246.3M157.4 2242.5L157.4 2246.3M162.4 2242.5L162.4 2246.3M166.4 2242.5L166.4 2246.3M170.4 2242.5L170.4 2246.3M173.4 2242.5L173.4 2246.3M176.4 2242.5L176.4 2246.3M178.4 2242.5L178.4 2246.3M180.4 2242.5L180.4 2246.3M184.9 2242.5L184.9 2246.3M187.4 2242.5L187.4 2246.3M190.4 2242.5L190.4 2246.3M194.4 2242.5L194.4 2246.3M199.4 2242.5L199.4 2246.3M205.4 2242.5L205.4 2246.3M211.4 2242.5L211.4 2246.3M238 2242.5L238 2246.3M248.9 2242.5L248.9 2246.3M256.6 2242.5L256.6 2246.3M262.6 2242.5L262.6 2246.3M267.5 2242.5L267.5 2246.3M271.7 2242.5L271.7 2246.3M275.3 2242.5L275.3 2246.3M278.5 2242.5L278.5 2246.3M297.9 2242.5L297.9 2246.3M307.6 2242.5L307.6 2246.3M314.5 2242.5L314.5 2246.3M319.8 2242.5L319.8 2246.3" stroke="#222" stroke-width="1.3" fill="none"/>
<path d="M178.4 2242.5L178.4 2247.5M179.6 2242.5L179.6 2247.5M180.8 2242.5L180.8 2247.5M182 2242.5L182 2247.5M183.2 2242.5L183.2 2247.5M184.4 2242.5L184.4 2247.5M185.6 2242.5L185.6 2247.5M126.4 2187L131.4 2187M126.4 2188.2L131.4 2188.2M126.4 2189.4L131.4 2189.4M126.4 2190.6L131.4 2190.6M126.4 2191.8L131.4 2191.8M126.4 2193L131.4 2193M126.4 2194.2L131.4 2194.2" stroke="#111" stroke-width="1.3" fill="none"/>
<text x="123.4" y="2040.3" font-size="9" text-anchor="end">10<tspan font-size="6.8" dy="-4">5</tspan></text>
<text x="123.4" y="2094.6" font-size="9" text-anchor="end">10<tspan font-size="6.8" dy="-4">4</tspan></text>
<text x="123.4" y="2155.8" font-size="9" text-anchor="end">10<tspan font-size="6.8" dy="-4">3</tspan></text>
<text x="123.4" y="2194" font-size="9" text-anchor="end">0</text>
<text x="123.4" y="2230.8" font-size="9" text-anchor="end">-10<tspan font-size="6.8" dy="-4">3</tspan></text>
<text x="143.4" y="2263.5" font-size="9" text-anchor="middle">-10<tspan font-size="6.8" dy="-4">3</tspan></text>
<text x="182.6" y="2263.5" font-size="9" text-anchor="middle">0</text>
<text x="222.4" y="2263.5" font-size="9" text-anchor="middle">10<tspan font-size="6.8" dy="-4">3</tspan></text>
<text x="283.4" y="2263.5" font-size="9" text-anchor="middle">10<tspan font-size="6.8" dy="-4">4</tspan></text>
<text x="337.4" y="2263.5" font-size="9" text-anchor="middle">10<tspan font-size="6.8" dy="-4">5</tspan></text>
<path d="M245.4 2124.6L242.4 2123.5L240.4 2124.2L238.5 2124.0L236.4 2120.0L236.9 2114.0L241.4 2110.2L244.4 2110.0L246.4 2110.8L248.4 2113.5L248.4 2121.0L245.4 2124.6ZM251.4 2185.2L249.4 2185.9L248.4 2185.0L248.4 2184.0L250.3 2181.0L252.4 2180.1L253.6 2181.0L253.9 2182.0L252.8 2184.0L251.4 2185.2ZM246.4 2125.3L244.4 2126.0L238.4 2125.2L237.0 2124.0L234.8 2119.0L234.6 2115.0L235.4 2112.8L239.4 2108.9L243.4 2107.6L247.4 2109.4L250.0 2113.0L249.8 2120.0L248.9 2122.0L246.4 2125.3ZM249.4 2188.1L247.4 2188.4L244.0 2187.0L243.3 2185.0L244.9 2182.0L242.2 2180.0L241.8 2178.0L242.4 2176.8L244.4 2175.3L248.4 2176.0L251.4 2173.7L252.4 2173.8L253.5 2175.0L254.5 2179.0L256.4 2182.0L253.4 2186.2L249.4 2188.1ZM244.4 2127.1L238.4 2126.4L236.4 2125.0L233.3 2119.0L233.0 2117.0L233.9 2113.0L237.0 2108.0L239.4 2106.7L243.4 2105.9L245.4 2106.4L248.4 2108.4L251.0 2111.0L251.7 2113.0L251.7 2120.0L247.4 2125.8L244.4 2127.1ZM248.4 2192.1L247.1 2192.0L243.4 2189.8L242.0 2188.0L241.4 2186.0L242.2 2183.0L242.1 2182.0L240.8 2180.0L240.9 2177.0L245.4 2170.3L248.4 2171.5L251.4 2171.1L253.4 2171.9L255.8 2175.0L256.2 2178.0L258.0 2181.0L257.4 2184.0L253.4 2189.6L251.7 2191.0L248.4 2192.1ZM245.4 2128.0L241.4 2128.3L236.4 2126.6L235.2 2125.0L232.0 2118.0L232.5 2114.0L234.9 2108.0L237.4 2106.1L241.4 2104.6L245.4 2105.0L252.3 2110.0L253.0 2111.0L253.7 2115.0L253.8 2120.0L249.0 2126.0L245.4 2128.0ZM249.4 2194.0L246.4 2193.6L243.4 2192.3L240.8 2189.0L239.3 2186.0L240.0 2182.0L239.5 2179.0L239.9 2175.0L242.6 2170.0L244.4 2168.3L246.4 2167.5L248.4 2167.7L250.4 2168.9L253.4 2169.5L256.4 2171.4L259.7 2176.0L259.1 2184.0L257.1 2188.0L256.4 2190.9L252.4 2193.5L249.4 2194.0ZM246.4 2129.0L241.4 2129.8L236.4 2128.0L234.5 2126.0L231.2 2119.0L231.1 2116.0L231.7 2113.0L233.9 2107.0L236.4 2104.9L241.4 2103.0L243.4 2103.0L246.8 2104.0L250.4 2107.4L253.4 2109.2L254.4 2111.0L255.3 2115.0L255.6 2119.0L254.8 2121.0L252.2 2124.0L250.4 2127.1L246.4 2129.0ZM253.4 2195.4L250.4 2195.7L241.6 2194.0L237.5 2186.0L238.4 2173.1L242.4 2168.1L246.4 2165.6L248.4 2165.5L253.4 2166.3L258.9 2171.0L261.4 2175.0L261.7 2177.0L261.0 2182.0L261.4 2185.0L260.5 2188.0L257.4 2192.8L253.4 2195.4ZM242.4 2131.1L239.4 2130.9L234.6 2128.0L232.5 2125.0L230.8 2121.0L230.0 2117.0L231.1 2110.0L233.4 2105.6L236.4 2103.0L243.4 2101.0L248.4 2103.1L250.9 2106.0L254.4 2108.3L255.8 2112.0L256.9 2119.0L255.8 2122.0L251.4 2128.7L248.4 2130.1L242.4 2131.1ZM252.4 2197.3L248.4 2197.8L243.4 2196.6L240.4 2195.1L238.9 2193.0L236.1 2186.0L235.9 2179.0L237.0 2172.0L241.3 2167.0L246.4 2163.8L252.4 2163.7L255.0 2165.0L259.4 2169.0L261.8 2172.0L263.9 2178.0L264.4 2183.0L263.5 2187.0L262.0 2190.0L258.4 2194.5L252.4 2197.3ZM241.4 2133.1L239.4 2132.6L235.0 2130.0L231.5 2126.0L229.3 2120.0L229.1 2116.0L230.1 2109.0L233.4 2103.7L236.4 2101.4L243.4 2099.5L246.4 2100.3L254.4 2106.0L257.2 2112.0L258.3 2119.0L256.3 2125.0L252.4 2130.4L248.4 2132.0L244.4 2131.9L241.4 2133.1ZM250.4 2200.1L248.4 2200.4L244.4 2199.8L241.2 2198.0L237.8 2194.0L234.9 2186.0L234.6 2178.0L235.8 2171.0L238.8 2167.0L244.4 2162.2L246.4 2161.3L253.4 2161.9L258.4 2165.2L264.1 2172.0L267.0 2180.0L265.4 2187.0L261.5 2195.0L258.4 2196.9L250.4 2200.1ZM242.4 2135.0L240.4 2135.2L239.4 2134.7L234.0 2131.0L232.1 2129.0L229.5 2125.0L228.0 2120.0L227.8 2117.0L228.4 2110.0L231.6 2104.0L234.4 2100.8L241.4 2097.8L247.4 2099.2L255.4 2104.8L258.9 2112.0L260.1 2118.0L258.2 2125.0L253.4 2131.8L247.4 2134.6L244.4 2134.0L242.4 2135.0ZM250.4 2202.2L244.4 2202.1L239.4 2199.1L235.7 2193.0L233.5 2185.0L233.3 2178.0L234.0 2172.0L234.8 2170.0L237.3 2166.0L240.5 2163.0L243.4 2159.2L247.4 2157.2L248.4 2157.2L250.4 2159.2L255.4 2160.4L260.0 2164.0L262.4 2167.5L265.2 2170.0L267.6 2174.0L269.2 2181.0L268.0 2184.0L267.6 2187.0L265.4 2191.1L263.4 2196.4L258.4 2199.4L250.4 2202.2ZM248.4 2138.3L240.4 2137.0L233.1 2132.0L229.4 2127.9L226.6 2120.0L226.7 2112.0L228.8 2106.0L232.4 2100.4L239.4 2096.1L243.4 2096.4L250.4 2098.0L256.4 2104.0L260.4 2110.9L261.0 2113.0L261.6 2119.0L259.8 2125.0L255.1 2132.0L249.4 2137.9L248.4 2138.3ZM249.4 2205.2L247.4 2205.7L243.4 2204.3L239.4 2201.4L237.2 2199.0L233.7 2192.0L232.3 2186.0L231.8 2178.0L232.8 2171.0L235.8 2165.0L238.6 2162.0L241.6 2157.0L246.4 2154.3L248.4 2154.0L251.1 2155.0L253.4 2157.5L257.2 2159.0L266.4 2168.0L269.5 2174.0L271.4 2181.0L270.0 2187.0L265.9 2196.0L264.4 2198.0L259.4 2201.5L249.4 2205.2ZM249.4 2141.2L243.4 2141.7L242.4 2141.3L232.4 2133.3L228.4 2129.0L225.0 2121.0L225.0 2113.0L227.7 2105.0L231.4 2098.8L235.0 2097.0L238.4 2094.2L243.4 2094.3L246.4 2095.5L250.4 2096.1L251.9 2097.0L256.2 2101.0L260.2 2106.0L262.6 2112.0L263.0 2119.0L261.0 2126.0L256.4 2133.3L253.8 2136.0L251.4 2139.7L249.4 2141.2ZM248.4 2208.0L241.4 2206.1L235.6 2200.0L232.3 2194.0L231.0 2188.0L230.0 2179.0L231.1 2171.0L232.3 2168.0L234.1 2164.0L237.4 2160.0L239.3 2156.0L244.4 2152.5L249.4 2150.7L252.4 2151.8L254.4 2154.4L260.7 2159.0L267.8 2166.0L271.1 2173.0L273.5 2181.0L272.5 2187.0L269.4 2194.0L264.4 2201.7L255.4 2206.3L248.4 2208.0ZM251.4 2210.2L247.4 2210.3L240.4 2208.1L234.4 2201.8L230.8 2195.0L228.2 2182.0L228.2 2179.0L229.7 2170.0L232.6 2163.0L235.4 2159.1L237.4 2155.0L240.0 2152.0L240.6 2150.0L240.6 2146.0L238.4 2141.5L226.7 2129.0L223.3 2121.0L223.5 2113.0L225.8 2105.0L229.8 2098.0L236.4 2093.3L239.4 2092.3L244.4 2092.6L252.4 2095.4L257.4 2099.6L262.0 2105.0L263.0 2107.0L264.5 2114.0L264.3 2121.0L261.9 2128.0L257.4 2135.9L255.0 2139.0L252.9 2145.0L254.2 2148.0L257.1 2152.0L266.4 2160.7L271.1 2167.0L274.3 2174.0L275.5 2180.0L274.8 2187.0L272.1 2195.0L270.4 2198.3L266.4 2203.0L263.4 2205.5L256.4 2208.7L251.4 2210.2ZM250.4 2214.2L247.4 2214.7L242.4 2213.1L239.4 2211.4L236.4 2209.0L232.1 2204.0L229.0 2198.0L226.9 2192.0L225.4 2182.0L227.3 2169.0L230.4 2161.0L234.4 2154.1L236.6 2148.0L235.2 2144.0L224.6 2130.0L221.2 2121.0L221.4 2112.0L224.0 2103.0L227.5 2097.0L233.4 2091.8L239.4 2089.6L247.4 2090.1L254.4 2093.1L260.0 2098.0L265.1 2105.0L266.9 2111.0L267.4 2121.0L266.4 2125.3L259.6 2140.0L259.3 2145.0L262.5 2151.0L268.7 2158.0L275.7 2168.0L277.6 2173.0L279.1 2180.0L278.2 2188.0L276.9 2193.0L272.4 2201.6L265.4 2208.9L256.4 2212.9L250.4 2214.2ZM255.4 2220.1L250.4 2221.0L244.4 2220.6L234.4 2215.8L230.5 2211.0L226.0 2204.0L221.7 2190.0L221.2 2174.0L224.5 2163.0L228.9 2153.0L229.8 2148.0L228.4 2143.0L226.2 2139.0L221.7 2133.0L218.5 2125.0L217.2 2119.0L217.5 2113.0L219.3 2104.0L222.7 2096.0L227.4 2090.6L231.4 2087.2L235.4 2085.3L239.4 2084.2L247.4 2084.5L257.4 2088.7L261.6 2092.0L265.4 2096.0L268.9 2101.0L272.3 2112.0L272.3 2120.0L271.1 2127.0L266.8 2139.0L266.5 2143.0L269.0 2149.0L277.1 2159.0L279.5 2163.0L283.1 2170.0L284.6 2177.0L284.3 2190.0L279.4 2201.7L275.4 2207.8L270.4 2212.9L264.4 2217.1L259.4 2219.5L255.4 2220.1Z" fill="none" stroke="#2a2a2a" stroke-width="1" stroke-linejoin="round"/>
<rect x="184" y="2061.5" width="123.6" height="81.7" fill="none" stroke="#DD2B25" stroke-width="1.8"/>
<text x="252.2" y="2054.6" font-size="28.5" text-anchor="middle">39.5%</text>
<rect x="369.9" y="2016" width="227" height="226.5" fill="none" stroke="#9a9a9a" stroke-width="1.2"/>
<path d="M363.4 2037.3L369.9 2037.3M363.4 2091.6L369.9 2091.6M363.4 2152.8L369.9 2152.8M363.4 2191L369.9 2191M363.4 2227.8L369.9 2227.8M366.4 2134.4L369.9 2134.4M366.4 2123.6L369.9 2123.6M366.4 2116L369.9 2116M366.4 2110L369.9 2110M366.4 2105.2L369.9 2105.2M366.4 2101.1L369.9 2101.1M366.4 2097.5L369.9 2097.5M366.4 2094.4L369.9 2094.4M366.4 2075.3L369.9 2075.3M366.4 2065.7L369.9 2065.7M366.4 2058.9L369.9 2058.9M366.4 2053.6L369.9 2053.6M366.4 2049.3L369.9 2049.3M366.4 2045.7L369.9 2045.7M366.4 2042.6L369.9 2042.6M366.4 2039.8L369.9 2039.8M366.4 2028L369.9 2028M366.4 2023L369.9 2023M366.4 2161L369.9 2161M366.4 2168L369.9 2168M366.4 2174L369.9 2174M366.4 2179L369.9 2179M366.4 2183L369.9 2183M366.4 2186L369.9 2186M366.4 2188.5L369.9 2188.5M366.4 2193.5L369.9 2193.5M366.4 2196L369.9 2196M366.4 2199L369.9 2199M366.4 2203L369.9 2203M366.4 2208L369.9 2208M366.4 2214L369.9 2214M366.4 2220L369.9 2220M366.4 2234L369.9 2234M366.4 2240L369.9 2240M383.6 2242.5L383.6 2249.5M421.1 2242.5L421.1 2249.5M457.8 2242.5L457.8 2249.5M519.8 2242.5L519.8 2249.5M574.9 2242.5L574.9 2249.5M372.9 2242.5L372.9 2246.3M389.9 2242.5L389.9 2246.3M395.9 2242.5L395.9 2246.3M400.9 2242.5L400.9 2246.3M404.9 2242.5L404.9 2246.3M408.9 2242.5L408.9 2246.3M411.9 2242.5L411.9 2246.3M414.9 2242.5L414.9 2246.3M416.9 2242.5L416.9 2246.3M418.9 2242.5L418.9 2246.3M423.4 2242.5L423.4 2246.3M425.9 2242.5L425.9 2246.3M428.9 2242.5L428.9 2246.3M432.9 2242.5L432.9 2246.3M437.9 2242.5L437.9 2246.3M443.9 2242.5L443.9 2246.3M449.9 2242.5L449.9 2246.3M476.5 2242.5L476.5 2246.3M487.4 2242.5L487.4 2246.3M495.1 2242.5L495.1 2246.3M501.1 2242.5L501.1 2246.3M506 2242.5L506 2246.3M510.2 2242.5L510.2 2246.3M513.8 2242.5L513.8 2246.3M517 2242.5L517 2246.3M536.4 2242.5L536.4 2246.3M546.1 2242.5L546.1 2246.3M553 2242.5L553 2246.3M558.3 2242.5L558.3 2246.3" stroke="#222" stroke-width="1.3" fill="none"/>
<path d="M416.9 2242.5L416.9 2247.5M418.1 2242.5L418.1 2247.5M419.3 2242.5L419.3 2247.5M420.5 2242.5L420.5 2247.5M421.7 2242.5L421.7 2247.5M422.9 2242.5L422.9 2247.5M424.1 2242.5L424.1 2247.5M364.9 2187L369.9 2187M364.9 2188.2L369.9 2188.2M364.9 2189.4L369.9 2189.4M364.9 2190.6L369.9 2190.6M364.9 2191.8L369.9 2191.8M364.9 2193L369.9 2193M364.9 2194.2L369.9 2194.2" stroke="#111" stroke-width="1.3" fill="none"/>
<text x="381.9" y="2263.5" font-size="9" text-anchor="middle">-10<tspan font-size="6.8" dy="-4">3</tspan></text>
<text x="421.1" y="2263.5" font-size="9" text-anchor="middle">0</text>
<text x="460.9" y="2263.5" font-size="9" text-anchor="middle">10<tspan font-size="6.8" dy="-4">3</tspan></text>
<text x="521.9" y="2263.5" font-size="9" text-anchor="middle">10<tspan font-size="6.8" dy="-4">4</tspan></text>
<text x="575.9" y="2263.5" font-size="9" text-anchor="middle">10<tspan font-size="6.8" dy="-4">5</tspan></text>
<path d="M486.9 2119.1L483.9 2119.6L480.1 2117.0L479.6 2115.0L480.3 2109.0L480.9 2108.0L481.9 2107.8L484.9 2109.2L486.9 2108.6L487.8 2109.0L487.9 2110.2L485.7 2114.0L487.5 2116.0L487.5 2118.0L486.9 2119.1ZM480.9 2191.3L479.8 2191.0L478.5 2189.0L479.3 2186.0L478.5 2183.0L478.6 2180.0L479.9 2178.0L481.9 2177.4L483.9 2177.8L484.9 2176.5L485.9 2176.6L489.8 2180.0L490.7 2183.0L488.6 2185.0L485.9 2185.8L482.7 2190.0L480.9 2191.3ZM485.3 2184.0L485.9 2183.0L484.9 2183.0L484.8 2184.0L485.3 2184.0ZM486.9 2121.1L483.9 2121.6L478.9 2119.6L477.1 2117.0L477.3 2115.0L478.8 2111.0L479.0 2108.0L479.9 2106.0L484.9 2104.0L485.9 2104.0L486.9 2104.9L489.9 2109.0L489.6 2112.0L490.7 2116.0L488.9 2119.4L486.9 2121.1ZM481.9 2193.6L479.9 2193.3L477.0 2189.0L477.4 2179.0L478.9 2176.9L481.9 2174.9L483.9 2174.2L485.9 2174.2L491.9 2178.6L493.2 2182.0L493.3 2184.0L491.9 2187.3L487.7 2188.0L484.9 2190.1L481.9 2193.6ZM485.9 2123.2L483.9 2123.6L478.9 2122.1L476.6 2119.0L475.8 2116.0L477.5 2111.0L477.9 2105.4L478.6 2104.0L479.9 2103.3L485.9 2102.2L487.3 2103.0L490.9 2107.8L490.9 2112.0L491.8 2116.0L491.4 2118.0L489.4 2121.0L485.9 2123.2ZM484.9 2196.1L480.9 2195.7L477.6 2193.0L475.4 2189.0L475.1 2184.0L475.9 2181.0L475.9 2178.4L476.9 2176.8L478.9 2175.0L485.9 2171.5L487.9 2172.2L489.9 2174.6L493.1 2177.0L494.2 2179.0L494.9 2183.0L494.2 2187.0L493.3 2189.0L490.8 2191.0L488.9 2193.7L484.9 2196.1ZM484.9 2125.1L479.9 2124.5L477.1 2123.0L474.7 2117.0L474.6 2115.0L475.9 2111.0L476.6 2105.0L477.3 2103.0L478.9 2100.9L482.9 2099.4L484.9 2099.7L488.5 2102.0L491.9 2106.8L492.5 2109.0L492.3 2112.0L493.0 2116.0L492.3 2119.0L489.9 2122.9L484.9 2125.1ZM485.9 2197.2L482.9 2197.8L479.9 2197.1L478.3 2196.0L474.9 2192.0L473.9 2189.2L473.4 2185.0L474.9 2176.5L476.9 2174.2L480.5 2172.0L481.5 2170.0L482.9 2169.5L487.9 2169.7L492.9 2172.6L495.3 2177.0L497.1 2184.0L496.5 2188.0L495.5 2190.0L492.9 2192.2L490.8 2195.0L485.9 2197.2ZM485.9 2126.4L480.9 2126.3L476.9 2124.4L475.7 2123.0L473.9 2118.0L473.7 2114.0L476.2 2102.0L477.3 2100.0L481.9 2096.0L485.8 2097.0L489.9 2100.6L494.0 2109.0L494.1 2117.0L492.0 2123.0L490.9 2124.1L485.9 2126.4ZM484.9 2199.0L482.9 2199.2L478.9 2198.3L474.9 2194.6L473.1 2191.0L471.9 2184.0L472.0 2181.0L473.9 2175.0L478.5 2169.0L482.9 2166.7L492.9 2170.0L495.3 2172.0L496.9 2174.8L499.4 2184.0L498.1 2189.0L492.6 2196.0L490.9 2197.3L484.9 2199.0ZM486.9 2128.3L479.9 2127.7L476.9 2125.8L474.5 2123.0L472.9 2118.0L472.5 2114.0L475.1 2101.0L479.9 2093.8L481.9 2092.6L487.2 2095.0L490.9 2098.2L492.1 2100.0L495.6 2109.0L496.0 2115.0L493.5 2123.0L491.9 2125.1L486.9 2128.3ZM485.9 2200.1L481.9 2200.8L477.9 2199.5L475.1 2197.0L472.5 2193.0L470.6 2184.0L470.6 2181.0L472.7 2174.0L474.6 2170.0L480.9 2164.9L482.9 2163.9L484.9 2164.1L486.9 2166.1L489.9 2166.3L497.1 2171.0L497.9 2172.0L499.3 2177.0L500.9 2178.9L501.1 2180.0L500.9 2188.0L498.6 2191.0L496.9 2195.0L491.9 2199.1L485.9 2200.1ZM486.9 2130.2L480.9 2129.7L478.9 2129.0L473.9 2124.1L471.7 2118.0L471.4 2114.0L471.9 2109.0L473.8 2101.0L477.9 2092.8L480.9 2090.5L485.9 2091.3L492.4 2097.0L493.7 2099.0L497.3 2109.0L497.5 2116.0L495.1 2123.0L493.8 2125.0L490.5 2128.0L486.9 2130.2ZM484.9 2202.4L481.9 2202.8L477.9 2201.2L475.9 2200.0L473.0 2197.0L471.1 2193.0L469.4 2183.0L471.2 2174.0L473.5 2169.0L479.9 2163.1L483.9 2162.0L488.9 2162.7L498.5 2170.0L500.4 2175.0L502.7 2179.0L503.0 2188.0L501.9 2191.6L496.9 2197.8L492.9 2200.7L484.9 2202.4ZM486.9 2132.1L482.9 2132.4L477.9 2130.3L473.1 2125.0L470.5 2118.0L470.4 2110.0L472.9 2099.7L476.4 2092.0L478.9 2089.7L481.9 2088.4L485.9 2088.8L487.9 2089.5L493.9 2095.8L495.2 2098.0L499.1 2109.0L499.2 2117.0L498.0 2122.0L495.9 2125.0L491.8 2129.0L489.4 2131.0L486.9 2132.1ZM483.9 2205.2L481.9 2205.2L476.9 2203.2L472.9 2199.4L469.7 2193.0L468.3 2182.0L470.1 2172.0L472.9 2167.3L476.8 2163.0L479.9 2160.6L481.9 2159.3L484.9 2158.7L488.9 2159.7L491.9 2162.5L494.9 2164.3L500.0 2169.0L504.4 2178.0L505.1 2188.0L504.7 2190.0L502.6 2194.0L496.9 2200.6L492.9 2203.1L485.9 2204.4L483.9 2205.2ZM486.9 2134.2L482.9 2135.0L478.9 2133.3L477.1 2132.0L473.5 2128.0L471.5 2125.0L469.3 2118.0L469.0 2111.0L470.0 2105.0L473.4 2094.0L474.9 2090.9L478.9 2087.0L481.9 2086.0L486.9 2086.6L491.9 2089.5L497.4 2098.0L499.2 2105.0L500.9 2109.0L501.1 2116.0L499.5 2123.0L492.6 2131.0L488.9 2133.5L486.9 2134.2ZM485.9 2207.0L483.9 2207.6L477.9 2206.0L474.9 2204.5L472.9 2202.6L468.3 2194.0L467.0 2185.0L468.1 2174.0L469.2 2170.0L473.6 2163.0L477.3 2160.0L478.9 2156.9L480.9 2155.5L484.9 2154.9L486.9 2155.4L489.9 2157.1L492.9 2160.0L495.6 2161.0L496.9 2162.2L501.7 2168.0L502.9 2170.5L505.4 2173.0L507.3 2180.0L506.8 2190.0L502.4 2198.0L496.9 2203.6L491.9 2206.0L485.9 2207.0ZM486.9 2139.3L482.9 2138.6L475.6 2133.0L470.4 2126.0L468.2 2119.0L467.8 2111.0L470.3 2097.0L473.1 2090.0L477.9 2084.1L479.9 2083.1L487.9 2084.1L492.9 2087.4L496.6 2092.0L499.8 2098.0L502.6 2108.0L502.7 2116.0L500.8 2124.0L497.4 2129.0L490.5 2135.0L486.9 2139.3ZM484.9 2210.0L475.9 2207.4L471.3 2204.0L467.0 2195.0L465.5 2185.0L467.0 2172.0L470.7 2164.0L472.9 2160.8L475.0 2159.0L476.6 2156.0L479.4 2153.0L480.9 2150.5L484.9 2149.6L490.9 2152.9L493.8 2157.0L496.9 2158.9L500.5 2163.0L507.5 2172.0L509.8 2180.0L508.9 2191.0L506.1 2195.0L505.3 2198.0L504.1 2200.0L497.9 2205.6L492.9 2207.8L484.9 2210.0ZM483.9 2212.1L481.9 2212.0L477.9 2210.0L475.9 2209.6L469.9 2205.2L465.4 2195.0L463.8 2186.0L464.4 2178.0L466.2 2169.0L469.2 2163.0L476.6 2152.0L478.8 2147.0L479.3 2142.0L478.3 2139.0L473.3 2133.0L469.3 2127.0L468.0 2124.0L466.9 2120.0L466.5 2114.0L467.3 2104.0L470.6 2091.0L472.9 2087.2L476.9 2082.0L478.9 2080.2L484.9 2079.4L486.9 2079.8L491.9 2082.5L498.7 2091.0L501.8 2098.0L504.2 2107.0L504.5 2116.0L502.6 2124.0L499.1 2130.0L492.8 2136.0L492.2 2140.0L490.7 2144.0L490.6 2147.0L509.7 2171.0L511.9 2181.0L511.7 2189.0L510.7 2193.0L509.0 2197.0L504.9 2203.0L498.9 2207.3L494.9 2209.2L487.9 2211.5L483.9 2212.1ZM484.9 2215.0L480.9 2215.3L476.9 2214.0L470.9 2210.4L468.9 2208.4L467.2 2206.0L462.9 2195.0L461.5 2186.0L461.6 2181.0L463.4 2169.0L471.5 2153.0L474.2 2143.0L473.4 2139.0L467.4 2128.0L464.8 2120.0L464.6 2113.0L466.0 2099.0L468.6 2089.0L472.5 2082.0L475.2 2079.0L478.9 2076.1L482.9 2075.2L490.9 2077.1L495.9 2081.6L501.2 2089.0L504.4 2098.0L506.7 2107.0L507.2 2117.0L504.8 2125.0L498.9 2135.5L496.8 2138.0L496.6 2145.0L498.3 2149.0L505.3 2160.0L508.9 2163.6L513.6 2171.0L515.4 2180.0L515.8 2185.0L514.7 2193.0L512.3 2199.0L506.0 2207.0L503.9 2208.6L494.9 2213.2L484.9 2215.0ZM489.9 2221.1L483.9 2221.8L475.9 2220.1L471.9 2218.1L467.1 2214.0L462.9 2208.0L460.6 2203.0L458.0 2193.0L457.5 2185.0L457.7 2178.0L459.3 2169.0L461.7 2162.0L466.9 2150.4L468.9 2142.0L467.8 2137.0L465.4 2133.0L463.0 2127.0L461.1 2119.0L461.4 2104.0L463.2 2093.0L467.5 2081.0L471.9 2073.4L476.4 2069.0L482.9 2067.4L487.9 2068.0L497.9 2074.3L503.2 2081.0L506.9 2088.0L509.5 2096.0L511.3 2105.0L512.4 2116.0L510.6 2124.0L504.1 2139.0L504.8 2146.0L509.9 2155.3L517.0 2164.0L520.1 2171.0L521.8 2177.0L521.9 2187.0L520.5 2195.0L519.4 2198.0L515.6 2205.0L510.9 2210.4L503.9 2215.7L496.9 2219.2L489.9 2221.1Z" fill="none" stroke="#2a2a2a" stroke-width="1" stroke-linejoin="round"/>
<rect x="426.7" y="2061.5" width="122.9" height="81.7" fill="none" stroke="#DD2B25" stroke-width="1.8"/>
<text x="488.3" y="2054.6" font-size="28.5" text-anchor="middle">39.3%</text>
<rect x="608.4" y="2016" width="227" height="226.5" fill="none" stroke="#9a9a9a" stroke-width="1.2"/>
<path d="M601.9 2037.3L608.4 2037.3M601.9 2091.6L608.4 2091.6M601.9 2152.8L608.4 2152.8M601.9 2191L608.4 2191M601.9 2227.8L608.4 2227.8M604.9 2134.4L608.4 2134.4M604.9 2123.6L608.4 2123.6M604.9 2116L608.4 2116M604.9 2110L608.4 2110M604.9 2105.2L608.4 2105.2M604.9 2101.1L608.4 2101.1M604.9 2097.5L608.4 2097.5M604.9 2094.4L608.4 2094.4M604.9 2075.3L608.4 2075.3M604.9 2065.7L608.4 2065.7M604.9 2058.9L608.4 2058.9M604.9 2053.6L608.4 2053.6M604.9 2049.3L608.4 2049.3M604.9 2045.7L608.4 2045.7M604.9 2042.6L608.4 2042.6M604.9 2039.8L608.4 2039.8M604.9 2028L608.4 2028M604.9 2023L608.4 2023M604.9 2161L608.4 2161M604.9 2168L608.4 2168M604.9 2174L608.4 2174M604.9 2179L608.4 2179M604.9 2183L608.4 2183M604.9 2186L608.4 2186M604.9 2188.5L608.4 2188.5M604.9 2193.5L608.4 2193.5M604.9 2196L608.4 2196M604.9 2199L608.4 2199M604.9 2203L608.4 2203M604.9 2208L608.4 2208M604.9 2214L608.4 2214M604.9 2220L608.4 2220M604.9 2234L608.4 2234M604.9 2240L608.4 2240M622.1 2242.5L622.1 2249.5M659.6 2242.5L659.6 2249.5M696.3 2242.5L696.3 2249.5M758.3 2242.5L758.3 2249.5M813.4 2242.5L813.4 2249.5M611.4 2242.5L611.4 2246.3M628.4 2242.5L628.4 2246.3M634.4 2242.5L634.4 2246.3M639.4 2242.5L639.4 2246.3M643.4 2242.5L643.4 2246.3M647.4 2242.5L647.4 2246.3M650.4 2242.5L650.4 2246.3M653.4 2242.5L653.4 2246.3M655.4 2242.5L655.4 2246.3M657.4 2242.5L657.4 2246.3M661.9 2242.5L661.9 2246.3M664.4 2242.5L664.4 2246.3M667.4 2242.5L667.4 2246.3M671.4 2242.5L671.4 2246.3M676.4 2242.5L676.4 2246.3M682.4 2242.5L682.4 2246.3M688.4 2242.5L688.4 2246.3M715 2242.5L715 2246.3M725.9 2242.5L725.9 2246.3M733.6 2242.5L733.6 2246.3M739.6 2242.5L739.6 2246.3M744.5 2242.5L744.5 2246.3M748.7 2242.5L748.7 2246.3M752.3 2242.5L752.3 2246.3M755.5 2242.5L755.5 2246.3M774.9 2242.5L774.9 2246.3M784.6 2242.5L784.6 2246.3M791.5 2242.5L791.5 2246.3M796.8 2242.5L796.8 2246.3" stroke="#222" stroke-width="1.3" fill="none"/>
<path d="M655.4 2242.5L655.4 2247.5M656.6 2242.5L656.6 2247.5M657.8 2242.5L657.8 2247.5M659 2242.5L659 2247.5M660.2 2242.5L660.2 2247.5M661.4 2242.5L661.4 2247.5M662.6 2242.5L662.6 2247.5M603.4 2187L608.4 2187M603.4 2188.2L608.4 2188.2M603.4 2189.4L608.4 2189.4M603.4 2190.6L608.4 2190.6M603.4 2191.8L608.4 2191.8M603.4 2193L608.4 2193M603.4 2194.2L608.4 2194.2" stroke="#111" stroke-width="1.3" fill="none"/>
<text x="620.4" y="2263.5" font-size="9" text-anchor="middle">-10<tspan font-size="6.8" dy="-4">3</tspan></text>
<text x="659.6" y="2263.5" font-size="9" text-anchor="middle">0</text>
<text x="699.4" y="2263.5" font-size="9" text-anchor="middle">10<tspan font-size="6.8" dy="-4">3</tspan></text>
<text x="760.4" y="2263.5" font-size="9" text-anchor="middle">10<tspan font-size="6.8" dy="-4">4</tspan></text>
<text x="814.4" y="2263.5" font-size="9" text-anchor="middle">10<tspan font-size="6.8" dy="-4">5</tspan></text>
<path d="M722.4 2116.5L720.4 2116.9L718.4 2115.9L716.8 2112.0L716.4 2109.0L717.0 2106.0L721.4 2103.5L722.7 2104.0L724.1 2106.0L725.5 2112.0L724.5 2115.0L722.4 2116.5ZM722.4 2185.1L719.4 2185.2L716.1 2182.0L717.2 2175.0L720.4 2173.7L721.5 2174.0L721.9 2175.0L722.0 2178.0L725.1 2181.0L724.9 2183.0L722.4 2185.1ZM721.4 2119.5L719.4 2119.8L717.4 2117.6L715.2 2112.0L714.8 2108.0L715.7 2105.0L719.4 2102.2L721.4 2101.6L723.4 2102.5L724.8 2104.0L726.9 2111.0L726.4 2115.0L721.4 2119.5ZM718.4 2189.0L716.5 2188.0L715.6 2185.0L713.6 2182.0L713.5 2181.0L715.3 2178.0L715.4 2173.6L716.4 2172.8L721.4 2171.7L727.4 2174.9L728.4 2176.0L727.7 2184.0L724.4 2187.4L718.4 2189.0ZM723.4 2121.3L719.4 2121.7L716.4 2120.0L713.6 2111.0L713.4 2107.0L714.0 2105.0L718.4 2100.0L720.4 2099.5L722.4 2099.9L726.2 2103.0L728.2 2110.0L728.2 2114.0L727.7 2116.0L723.4 2121.3ZM725.4 2190.2L722.4 2190.9L717.4 2191.0L716.4 2190.9L715.2 2190.0L713.9 2186.0L712.2 2183.0L711.8 2181.0L713.8 2178.0L713.6 2174.0L714.1 2173.0L716.4 2170.8L720.4 2169.7L724.2 2170.0L728.8 2174.0L730.3 2176.0L731.4 2184.0L727.7 2187.0L725.4 2190.2ZM723.4 2123.4L719.4 2123.4L715.2 2121.0L713.7 2118.0L712.0 2111.0L712.3 2106.0L715.0 2102.0L715.7 2100.0L716.5 2099.0L720.4 2097.6L722.6 2098.0L726.9 2102.0L729.3 2109.0L729.2 2116.0L725.5 2122.0L723.4 2123.4ZM726.4 2192.2L716.4 2192.9L714.0 2191.0L711.0 2183.0L710.7 2181.0L712.8 2177.0L712.7 2173.0L715.4 2169.0L716.4 2168.4L722.4 2167.6L725.4 2168.0L727.0 2169.0L731.9 2175.0L733.4 2179.0L733.9 2185.0L732.4 2186.9L729.4 2189.0L727.4 2191.8L726.4 2192.2ZM723.4 2125.5L719.4 2125.6L714.4 2122.2L712.1 2118.0L710.4 2112.0L710.4 2109.0L711.4 2105.0L714.4 2099.0L715.4 2098.0L720.4 2095.8L723.4 2096.6L728.2 2102.0L730.3 2108.0L730.4 2116.0L727.4 2122.1L723.4 2125.5ZM717.4 2195.0L714.4 2193.4L713.1 2192.0L709.9 2183.0L709.9 2180.0L711.4 2177.0L711.4 2173.0L714.2 2168.0L715.4 2167.2L719.4 2165.9L726.4 2166.7L731.8 2170.0L734.6 2174.0L735.6 2179.0L735.3 2182.0L735.8 2185.0L734.2 2188.0L728.4 2193.2L726.4 2193.9L717.4 2195.0ZM724.4 2127.4L721.4 2127.9L718.4 2127.3L713.4 2123.3L710.4 2118.0L709.1 2113.0L709.0 2110.0L710.4 2103.9L712.8 2099.0L715.4 2096.2L720.4 2094.2L723.4 2094.9L725.4 2096.5L729.1 2101.0L731.3 2107.0L731.7 2113.0L731.1 2117.0L728.5 2123.0L724.4 2127.4ZM721.4 2196.2L717.4 2196.8L715.4 2195.9L713.2 2194.0L710.6 2190.0L708.7 2182.0L709.9 2177.0L709.9 2174.0L711.4 2170.0L713.4 2166.8L719.4 2163.3L728.4 2165.1L732.5 2168.0L736.5 2173.0L738.8 2179.0L737.7 2185.0L735.4 2189.0L729.4 2194.4L726.4 2195.5L721.4 2196.2ZM725.4 2129.3L719.4 2129.9L717.4 2129.2L711.4 2123.3L708.4 2116.5L707.8 2110.0L710.1 2101.0L714.4 2094.8L715.4 2094.0L719.4 2092.8L724.4 2093.7L729.4 2098.2L730.4 2099.7L732.3 2106.0L732.8 2113.0L732.0 2118.0L730.3 2123.0L726.4 2128.6L725.4 2129.3ZM720.4 2198.2L718.4 2198.9L716.4 2198.5L712.2 2195.0L709.4 2190.0L707.7 2182.0L708.6 2174.0L710.2 2169.0L712.4 2165.8L716.7 2162.0L718.4 2161.0L720.4 2160.8L728.4 2162.6L733.4 2166.2L737.6 2171.0L740.7 2177.0L741.0 2179.0L738.8 2188.0L734.5 2192.0L732.4 2194.8L729.4 2196.2L720.4 2198.2ZM720.4 2132.3L717.4 2131.8L711.4 2126.2L707.6 2118.0L706.8 2110.0L708.0 2103.0L710.4 2097.2L714.4 2092.8L718.4 2091.6L721.4 2091.3L726.4 2093.0L731.4 2097.9L733.5 2105.0L733.9 2113.0L733.3 2118.0L732.1 2122.0L727.7 2130.0L726.4 2131.0L723.4 2131.2L720.4 2132.3ZM721.4 2200.1L719.4 2200.9L716.4 2200.4L714.4 2199.2L711.1 2196.0L708.0 2189.0L706.6 2181.0L708.4 2170.0L712.4 2163.3L717.4 2159.0L722.4 2158.0L725.4 2158.3L729.0 2160.0L733.8 2164.0L738.4 2168.8L742.9 2176.0L743.4 2181.0L742.1 2184.0L741.4 2188.0L735.7 2195.0L730.4 2197.8L723.4 2199.2L721.4 2200.1ZM721.4 2135.1L719.4 2135.7L717.4 2135.1L710.4 2127.4L706.8 2119.0L705.6 2112.0L706.8 2102.0L709.1 2096.0L713.4 2091.6L717.4 2090.1L721.4 2089.5L724.3 2090.0L727.7 2092.0L730.4 2094.2L732.4 2097.0L735.0 2105.0L735.2 2114.0L734.9 2118.0L732.4 2125.0L729.5 2131.0L727.4 2132.9L721.4 2135.1ZM721.4 2202.2L718.4 2202.6L715.4 2201.8L713.4 2200.6L709.8 2197.0L706.4 2188.0L705.4 2181.0L705.7 2176.0L707.0 2170.0L711.4 2161.2L720.4 2154.1L727.4 2155.9L735.4 2162.3L742.6 2171.0L744.7 2175.0L745.9 2181.0L743.7 2188.0L738.4 2196.0L731.4 2200.3L721.4 2202.2ZM722.4 2141.1L720.4 2140.7L716.4 2137.6L709.1 2128.0L707.4 2125.0L705.5 2119.0L704.4 2113.0L705.4 2101.0L707.9 2095.0L712.4 2090.2L720.4 2087.6L724.4 2088.0L731.4 2093.1L733.8 2097.0L736.1 2103.0L736.6 2106.0L736.8 2116.0L733.1 2128.0L727.6 2137.0L722.4 2141.1ZM723.4 2204.0L718.4 2204.4L715.4 2203.8L712.3 2202.0L708.7 2198.0L706.8 2195.0L704.7 2188.0L704.0 2181.0L704.3 2176.0L705.6 2170.0L709.6 2161.0L717.4 2152.0L721.4 2149.2L723.4 2150.0L725.4 2152.0L729.4 2154.1L739.3 2163.0L745.4 2171.0L748.1 2180.0L747.2 2186.0L744.4 2192.6L741.4 2196.2L732.4 2202.1L727.4 2203.6L723.4 2204.0ZM727.4 2206.1L716.4 2206.4L710.4 2202.8L705.3 2196.0L703.3 2188.0L702.5 2181.0L703.1 2175.0L705.1 2167.0L709.8 2157.0L716.0 2148.0L716.6 2144.0L716.0 2141.0L706.2 2126.0L703.8 2119.0L703.1 2114.0L702.9 2107.0L703.9 2101.0L706.7 2094.0L709.4 2090.5L713.4 2087.5L719.4 2085.2L724.4 2085.8L729.4 2088.8L734.0 2094.0L737.4 2102.0L738.3 2116.0L734.6 2129.0L728.1 2141.0L729.1 2149.0L738.0 2159.0L741.7 2162.0L746.9 2169.0L749.0 2173.0L750.5 2180.0L750.2 2185.0L747.0 2194.0L742.4 2198.4L737.4 2201.7L727.4 2206.1ZM728.4 2209.3L722.4 2209.9L716.4 2209.9L710.4 2206.6L708.4 2204.8L703.1 2196.0L701.1 2188.0L700.4 2181.0L700.7 2176.0L702.6 2167.0L708.0 2154.0L711.3 2148.0L711.6 2146.0L711.4 2143.0L709.3 2137.0L703.9 2127.0L701.6 2120.0L700.6 2110.0L701.2 2103.0L704.3 2094.0L707.5 2089.0L712.9 2084.0L719.4 2081.9L725.4 2082.7L729.4 2085.1L735.4 2091.3L738.1 2097.0L740.0 2104.0L740.6 2115.0L739.8 2120.0L733.5 2140.0L733.7 2145.0L735.4 2149.2L740.4 2156.2L747.6 2163.0L752.2 2171.0L754.0 2179.0L754.1 2185.0L752.4 2191.0L748.6 2197.0L743.4 2201.9L737.4 2206.0L728.4 2209.3ZM722.4 2216.0L718.4 2216.2L712.4 2214.5L705.4 2208.2L703.0 2205.0L700.0 2199.0L696.8 2186.0L697.8 2172.0L700.6 2161.0L704.3 2151.0L705.3 2144.0L704.1 2138.0L699.6 2127.0L697.3 2117.0L696.6 2110.0L697.9 2099.0L702.2 2089.0L706.4 2083.1L709.4 2080.3L714.4 2077.6L720.4 2076.4L725.4 2077.2L730.4 2079.4L735.1 2084.0L739.5 2090.0L743.6 2102.0L744.4 2110.0L744.1 2118.0L741.1 2131.0L740.4 2139.0L740.7 2142.0L741.9 2146.0L746.2 2153.0L753.3 2160.0L756.4 2165.0L760.0 2172.0L761.1 2179.0L760.6 2187.0L758.3 2194.0L757.3 2196.0L752.4 2202.1L747.4 2206.7L739.4 2211.7L729.4 2215.0L722.4 2216.0Z" fill="none" stroke="#2a2a2a" stroke-width="1" stroke-linejoin="round"/>
<rect x="666" y="2061.5" width="122.9" height="81.7" fill="none" stroke="#DD2B25" stroke-width="1.8"/>
<text x="738.5" y="2054.6" font-size="28.5" text-anchor="middle">39.1%</text>
<rect x="846.9" y="2016" width="227" height="226.5" fill="none" stroke="#9a9a9a" stroke-width="1.2"/>
<path d="M840.4 2037.3L846.9 2037.3M840.4 2091.6L846.9 2091.6M840.4 2152.8L846.9 2152.8M840.4 2191L846.9 2191M840.4 2227.8L846.9 2227.8M843.4 2134.4L846.9 2134.4M843.4 2123.6L846.9 2123.6M843.4 2116L846.9 2116M843.4 2110L846.9 2110M843.4 2105.2L846.9 2105.2M843.4 2101.1L846.9 2101.1M843.4 2097.5L846.9 2097.5M843.4 2094.4L846.9 2094.4M843.4 2075.3L846.9 2075.3M843.4 2065.7L846.9 2065.7M843.4 2058.9L846.9 2058.9M843.4 2053.6L846.9 2053.6M843.4 2049.3L846.9 2049.3M843.4 2045.7L846.9 2045.7M843.4 2042.6L846.9 2042.6M843.4 2039.8L846.9 2039.8M843.4 2028L846.9 2028M843.4 2023L846.9 2023M843.4 2161L846.9 2161M843.4 2168L846.9 2168M843.4 2174L846.9 2174M843.4 2179L846.9 2179M843.4 2183L846.9 2183M843.4 2186L846.9 2186M843.4 2188.5L846.9 2188.5M843.4 2193.5L846.9 2193.5M843.4 2196L846.9 2196M843.4 2199L846.9 2199M843.4 2203L846.9 2203M843.4 2208L846.9 2208M843.4 2214L846.9 2214M843.4 2220L846.9 2220M843.4 2234L846.9 2234M843.4 2240L846.9 2240M860.6 2242.5L860.6 2249.5M898.1 2242.5L898.1 2249.5M934.8 2242.5L934.8 2249.5M996.8 2242.5L996.8 2249.5M1051.9 2242.5L1051.9 2249.5M849.9 2242.5L849.9 2246.3M866.9 2242.5L866.9 2246.3M872.9 2242.5L872.9 2246.3M877.9 2242.5L877.9 2246.3M881.9 2242.5L881.9 2246.3M885.9 2242.5L885.9 2246.3M888.9 2242.5L888.9 2246.3M891.9 2242.5L891.9 2246.3M893.9 2242.5L893.9 2246.3M895.9 2242.5L895.9 2246.3M900.4 2242.5L900.4 2246.3M902.9 2242.5L902.9 2246.3M905.9 2242.5L905.9 2246.3M909.9 2242.5L909.9 2246.3M914.9 2242.5L914.9 2246.3M920.9 2242.5L920.9 2246.3M926.9 2242.5L926.9 2246.3M953.5 2242.5L953.5 2246.3M964.4 2242.5L964.4 2246.3M972.1 2242.5L972.1 2246.3M978.1 2242.5L978.1 2246.3M983 2242.5L983 2246.3M987.2 2242.5L987.2 2246.3M990.8 2242.5L990.8 2246.3M994 2242.5L994 2246.3M1013.4 2242.5L1013.4 2246.3M1023.1 2242.5L1023.1 2246.3M1030 2242.5L1030 2246.3M1035.3 2242.5L1035.3 2246.3" stroke="#222" stroke-width="1.3" fill="none"/>
<path d="M893.9 2242.5L893.9 2247.5M895.1 2242.5L895.1 2247.5M896.3 2242.5L896.3 2247.5M897.5 2242.5L897.5 2247.5M898.7 2242.5L898.7 2247.5M899.9 2242.5L899.9 2247.5M901.1 2242.5L901.1 2247.5M841.9 2187L846.9 2187M841.9 2188.2L846.9 2188.2M841.9 2189.4L846.9 2189.4M841.9 2190.6L846.9 2190.6M841.9 2191.8L846.9 2191.8M841.9 2193L846.9 2193M841.9 2194.2L846.9 2194.2" stroke="#111" stroke-width="1.3" fill="none"/>
<text x="858.9" y="2263.5" font-size="9" text-anchor="middle">-10<tspan font-size="6.8" dy="-4">3</tspan></text>
<text x="898.1" y="2263.5" font-size="9" text-anchor="middle">0</text>
<text x="937.9" y="2263.5" font-size="9" text-anchor="middle">10<tspan font-size="6.8" dy="-4">3</tspan></text>
<text x="998.9" y="2263.5" font-size="9" text-anchor="middle">10<tspan font-size="6.8" dy="-4">4</tspan></text>
<text x="1052.9" y="2263.5" font-size="9" text-anchor="middle">10<tspan font-size="6.8" dy="-4">5</tspan></text>
<path d="M957.9 2121.1L956.4 2121.0L954.9 2120.1L954.0 2118.0L953.9 2111.1L954.9 2109.7L955.9 2109.3L957.8 2110.0L958.9 2111.4L959.9 2115.0L961.6 2118.0L960.0 2120.0L957.9 2121.1ZM956.9 2194.2L954.9 2194.9L953.9 2194.3L950.8 2190.0L951.7 2183.0L952.9 2181.4L954.9 2180.1L956.9 2180.3L958.7 2182.0L958.4 2186.0L959.5 2189.0L959.4 2190.0L956.9 2194.2ZM958.9 2122.1L956.9 2122.3L954.9 2121.8L953.6 2121.0L952.4 2119.0L951.7 2115.0L952.0 2112.0L953.5 2108.0L954.9 2106.8L956.9 2106.8L958.9 2108.2L963.2 2116.0L962.9 2119.2L958.9 2122.1ZM956.9 2197.1L954.9 2197.7L952.9 2197.0L949.9 2192.6L948.9 2190.0L948.7 2187.0L949.9 2182.4L951.9 2177.5L952.9 2176.9L958.9 2178.8L960.1 2180.0L962.1 2184.0L961.7 2191.0L956.9 2197.1ZM959.9 2123.1L955.9 2123.6L952.9 2122.4L951.6 2121.0L950.3 2117.0L950.2 2113.0L951.9 2107.0L952.9 2105.5L955.9 2104.2L957.9 2104.4L960.3 2106.0L963.7 2112.0L964.7 2115.0L964.8 2117.0L964.0 2120.0L959.9 2123.1ZM955.9 2200.3L952.9 2200.1L950.9 2198.3L947.3 2189.0L947.5 2186.0L949.9 2177.0L950.9 2175.5L952.9 2174.6L957.9 2175.6L959.9 2176.8L962.1 2179.0L964.4 2184.0L963.6 2191.0L961.7 2195.0L960.3 2197.0L955.9 2200.3ZM957.9 2125.1L953.9 2124.6L951.4 2123.0L949.2 2118.0L948.8 2115.0L949.0 2112.0L951.6 2105.0L953.9 2103.2L956.9 2102.6L959.9 2103.2L962.2 2105.0L965.2 2111.0L966.4 2116.0L965.7 2119.0L964.7 2121.0L960.9 2123.9L957.9 2125.1ZM954.9 2203.2L952.8 2203.0L949.9 2200.0L947.3 2194.0L946.2 2188.0L946.9 2183.0L948.9 2175.7L950.9 2173.4L955.9 2171.4L958.9 2173.2L963.9 2177.7L965.8 2185.0L965.5 2191.0L962.3 2199.0L960.9 2200.2L954.9 2203.2ZM958.9 2126.3L954.9 2126.3L950.9 2124.5L949.9 2123.0L947.8 2117.0L947.7 2112.0L948.7 2108.0L951.9 2102.9L954.9 2101.3L958.9 2101.2L961.3 2102.0L963.5 2104.0L966.8 2109.0L967.8 2116.0L967.2 2119.0L964.9 2122.2L961.5 2125.0L958.9 2126.3ZM955.9 2205.0L953.9 2205.3L951.9 2204.6L949.1 2201.0L945.9 2194.0L945.2 2188.0L946.5 2178.0L947.9 2174.7L949.9 2171.7L955.9 2168.8L958.6 2170.0L965.3 2176.0L965.9 2177.0L966.1 2181.0L967.4 2185.0L967.2 2191.0L965.5 2197.0L964.0 2200.0L961.9 2202.8L955.9 2205.0ZM957.9 2128.1L953.9 2127.8L949.9 2125.5L947.2 2120.0L946.5 2117.0L946.5 2111.0L947.8 2107.0L951.0 2102.0L954.9 2099.0L961.2 2100.0L963.9 2102.2L968.2 2108.0L969.2 2116.0L968.3 2120.0L964.1 2125.0L960.9 2127.1L957.9 2128.1ZM955.9 2207.1L952.9 2207.4L949.9 2205.0L944.8 2195.0L944.1 2188.0L945.2 2178.0L948.2 2171.0L950.9 2168.4L953.9 2166.9L955.9 2166.6L958.9 2167.5L962.9 2170.8L966.7 2175.0L967.7 2177.0L967.8 2181.0L969.4 2184.0L969.8 2186.0L967.5 2197.0L963.9 2203.0L960.9 2205.5L955.9 2207.1ZM959.9 2129.2L954.9 2129.9L951.9 2129.1L947.9 2125.1L945.9 2120.7L945.3 2118.0L945.3 2111.0L946.4 2107.0L950.6 2100.0L953.9 2097.6L955.9 2097.1L962.9 2099.2L968.6 2106.0L969.6 2108.0L970.6 2117.0L969.7 2120.0L964.9 2126.6L959.9 2129.2ZM957.9 2209.0L953.9 2210.0L950.9 2208.9L946.7 2203.0L943.3 2194.0L943.0 2187.0L944.1 2177.0L947.9 2168.8L951.9 2164.7L953.9 2164.0L957.9 2164.1L959.9 2165.0L966.9 2172.2L969.3 2177.0L971.3 2185.0L970.9 2190.8L968.4 2200.0L963.9 2205.6L960.9 2208.1L957.9 2209.0ZM959.9 2131.1L953.9 2131.6L950.9 2130.4L946.9 2126.0L944.6 2121.0L943.8 2118.0L944.4 2109.0L948.0 2101.0L951.9 2096.9L955.9 2095.4L957.9 2095.6L961.9 2097.0L964.7 2099.0L970.4 2106.0L971.6 2112.0L971.8 2118.0L969.3 2124.0L965.9 2128.1L959.9 2131.1ZM955.9 2212.1L951.9 2212.1L948.9 2209.8L945.0 2204.0L942.4 2196.0L941.9 2193.0L942.1 2183.0L943.1 2176.0L946.9 2167.5L950.9 2162.4L953.9 2161.3L960.9 2162.8L962.9 2164.1L966.9 2168.7L971.6 2178.0L972.4 2181.0L972.9 2186.0L972.5 2193.0L969.5 2203.0L965.9 2207.0L962.0 2210.0L955.9 2212.1ZM960.9 2133.0L958.9 2133.8L955.9 2133.7L951.9 2132.7L949.9 2131.5L945.4 2126.0L943.5 2122.0L942.4 2118.0L943.3 2108.0L946.3 2101.0L947.5 2099.0L950.9 2095.3L954.9 2093.9L958.9 2093.8L964.9 2096.8L971.0 2104.0L972.4 2107.0L973.3 2111.0L973.2 2118.0L970.6 2125.0L966.9 2129.5L960.9 2133.0ZM954.9 2215.0L951.9 2214.7L948.9 2212.7L946.9 2210.4L943.9 2205.1L940.8 2195.0L940.8 2183.0L941.8 2176.0L945.3 2167.0L949.9 2160.4L953.9 2157.6L955.9 2157.3L963.8 2162.0L968.5 2167.0L973.5 2177.0L974.9 2188.0L974.3 2193.0L972.0 2202.0L970.5 2205.0L964.4 2211.0L957.9 2214.4L954.9 2215.0ZM959.9 2137.0L956.9 2137.6L948.9 2133.0L943.3 2125.0L941.1 2118.0L942.1 2107.0L945.5 2099.0L950.9 2093.0L954.9 2091.6L960.3 2092.0L964.9 2094.3L968.9 2097.9L973.1 2104.0L975.1 2111.0L974.8 2119.0L971.4 2127.0L967.9 2131.4L959.9 2137.0ZM956.9 2217.1L953.9 2217.6L949.9 2216.6L946.9 2213.5L943.9 2208.9L940.9 2201.0L939.7 2196.0L939.2 2183.0L940.9 2174.1L944.0 2166.0L949.9 2156.6L953.9 2153.4L955.9 2153.0L957.9 2153.3L960.9 2155.0L963.0 2158.0L967.9 2162.3L970.5 2166.0L975.2 2175.0L976.9 2187.0L976.3 2194.0L974.3 2202.0L972.4 2206.0L966.9 2212.5L963.9 2213.9L960.9 2216.2L956.9 2217.1ZM955.9 2220.1L951.9 2220.2L948.9 2218.9L945.9 2215.6L942.5 2210.0L940.6 2205.0L938.6 2197.0L937.8 2183.0L939.4 2174.0L941.0 2169.0L944.5 2161.0L951.3 2149.0L953.4 2143.0L952.6 2141.0L946.9 2133.6L941.3 2124.0L939.7 2117.0L940.7 2107.0L943.2 2100.0L945.7 2096.0L950.9 2090.7L955.9 2089.1L960.9 2090.2L966.9 2093.2L970.9 2097.4L974.4 2103.0L976.5 2109.0L976.7 2119.0L974.9 2124.0L970.7 2131.0L963.9 2138.0L960.3 2144.0L960.6 2146.0L963.8 2152.0L966.7 2157.0L968.9 2159.1L972.6 2165.0L976.6 2173.0L978.5 2183.0L978.8 2193.0L976.5 2202.0L974.7 2206.0L968.9 2214.0L966.9 2215.8L960.9 2219.4L955.9 2220.1ZM957.9 2224.0L951.9 2223.9L947.9 2222.0L944.6 2219.0L938.4 2206.0L936.6 2196.0L936.1 2190.0L936.2 2181.0L937.4 2174.0L941.9 2159.9L947.0 2149.0L948.4 2142.0L947.9 2140.0L944.3 2134.0L939.0 2123.0L937.9 2116.0L938.9 2106.0L941.8 2098.0L945.9 2091.8L950.9 2087.7L956.9 2086.4L961.9 2087.5L966.9 2090.0L969.9 2092.2L975.6 2100.0L978.5 2108.0L979.2 2114.0L978.7 2121.0L976.6 2126.0L969.0 2138.0L967.5 2145.0L969.5 2152.0L979.5 2173.0L981.0 2180.0L981.6 2187.0L981.4 2192.0L980.1 2200.0L978.1 2206.0L975.9 2210.2L972.3 2215.0L967.9 2219.4L962.9 2222.7L957.9 2224.0ZM956.9 2231.1L951.9 2231.0L946.9 2228.8L944.6 2227.0L940.1 2221.0L936.3 2212.0L934.3 2205.0L932.5 2190.0L933.4 2175.0L935.4 2166.0L940.9 2150.7L942.0 2143.0L941.0 2137.0L936.4 2126.0L934.7 2119.0L934.8 2110.0L936.3 2102.0L939.5 2093.0L944.9 2085.7L949.9 2082.6L953.9 2081.2L956.9 2080.9L962.9 2082.4L968.9 2085.1L972.9 2087.8L977.9 2094.2L981.5 2102.0L982.8 2108.0L983.4 2114.0L982.7 2122.0L980.1 2129.0L976.8 2135.0L974.6 2144.0L977.9 2156.1L980.5 2161.0L984.6 2172.0L986.6 2180.0L987.0 2187.0L985.9 2198.0L983.5 2207.0L977.1 2219.0L972.9 2223.7L966.9 2228.1L956.9 2231.1Z" fill="none" stroke="#2a2a2a" stroke-width="1" stroke-linejoin="round"/>
<rect x="900.9" y="2061.5" width="122.9" height="81.7" fill="none" stroke="#DD2B25" stroke-width="1.8"/>
<text x="975.1" y="2054.6" font-size="28.5" text-anchor="middle">35.5%</text>
<rect x="1085.4" y="2016" width="227" height="226.5" fill="none" stroke="#9a9a9a" stroke-width="1.2"/>
<path d="M1078.9 2037.3L1085.4 2037.3M1078.9 2091.6L1085.4 2091.6M1078.9 2152.8L1085.4 2152.8M1078.9 2191L1085.4 2191M1078.9 2227.8L1085.4 2227.8M1081.9 2134.4L1085.4 2134.4M1081.9 2123.6L1085.4 2123.6M1081.9 2116L1085.4 2116M1081.9 2110L1085.4 2110M1081.9 2105.2L1085.4 2105.2M1081.9 2101.1L1085.4 2101.1M1081.9 2097.5L1085.4 2097.5M1081.9 2094.4L1085.4 2094.4M1081.9 2075.3L1085.4 2075.3M1081.9 2065.7L1085.4 2065.7M1081.9 2058.9L1085.4 2058.9M1081.9 2053.6L1085.4 2053.6M1081.9 2049.3L1085.4 2049.3M1081.9 2045.7L1085.4 2045.7M1081.9 2042.6L1085.4 2042.6M1081.9 2039.8L1085.4 2039.8M1081.9 2028L1085.4 2028M1081.9 2023L1085.4 2023M1081.9 2161L1085.4 2161M1081.9 2168L1085.4 2168M1081.9 2174L1085.4 2174M1081.9 2179L1085.4 2179M1081.9 2183L1085.4 2183M1081.9 2186L1085.4 2186M1081.9 2188.5L1085.4 2188.5M1081.9 2193.5L1085.4 2193.5M1081.9 2196L1085.4 2196M1081.9 2199L1085.4 2199M1081.9 2203L1085.4 2203M1081.9 2208L1085.4 2208M1081.9 2214L1085.4 2214M1081.9 2220L1085.4 2220M1081.9 2234L1085.4 2234M1081.9 2240L1085.4 2240M1099.1 2242.5L1099.1 2249.5M1136.6 2242.5L1136.6 2249.5M1173.3 2242.5L1173.3 2249.5M1235.3 2242.5L1235.3 2249.5M1290.4 2242.5L1290.4 2249.5M1088.4 2242.5L1088.4 2246.3M1105.4 2242.5L1105.4 2246.3M1111.4 2242.5L1111.4 2246.3M1116.4 2242.5L1116.4 2246.3M1120.4 2242.5L1120.4 2246.3M1124.4 2242.5L1124.4 2246.3M1127.4 2242.5L1127.4 2246.3M1130.4 2242.5L1130.4 2246.3M1132.4 2242.5L1132.4 2246.3M1134.4 2242.5L1134.4 2246.3M1138.9 2242.5L1138.9 2246.3M1141.4 2242.5L1141.4 2246.3M1144.4 2242.5L1144.4 2246.3M1148.4 2242.5L1148.4 2246.3M1153.4 2242.5L1153.4 2246.3M1159.4 2242.5L1159.4 2246.3M1165.4 2242.5L1165.4 2246.3M1192 2242.5L1192 2246.3M1202.9 2242.5L1202.9 2246.3M1210.6 2242.5L1210.6 2246.3M1216.6 2242.5L1216.6 2246.3M1221.5 2242.5L1221.5 2246.3M1225.7 2242.5L1225.7 2246.3M1229.3 2242.5L1229.3 2246.3M1232.5 2242.5L1232.5 2246.3M1251.9 2242.5L1251.9 2246.3M1261.6 2242.5L1261.6 2246.3M1268.5 2242.5L1268.5 2246.3M1273.8 2242.5L1273.8 2246.3" stroke="#222" stroke-width="1.3" fill="none"/>
<path d="M1132.4 2242.5L1132.4 2247.5M1133.6 2242.5L1133.6 2247.5M1134.8 2242.5L1134.8 2247.5M1136 2242.5L1136 2247.5M1137.2 2242.5L1137.2 2247.5M1138.4 2242.5L1138.4 2247.5M1139.6 2242.5L1139.6 2247.5M1080.4 2187L1085.4 2187M1080.4 2188.2L1085.4 2188.2M1080.4 2189.4L1085.4 2189.4M1080.4 2190.6L1085.4 2190.6M1080.4 2191.8L1085.4 2191.8M1080.4 2193L1085.4 2193M1080.4 2194.2L1085.4 2194.2" stroke="#111" stroke-width="1.3" fill="none"/>
<text x="1097.4" y="2263.5" font-size="9" text-anchor="middle">-10<tspan font-size="6.8" dy="-4">3</tspan></text>
<text x="1136.6" y="2263.5" font-size="9" text-anchor="middle">0</text>
<text x="1176.4" y="2263.5" font-size="9" text-anchor="middle">10<tspan font-size="6.8" dy="-4">3</tspan></text>
<text x="1237.4" y="2263.5" font-size="9" text-anchor="middle">10<tspan font-size="6.8" dy="-4">4</tspan></text>
<text x="1291.4" y="2263.5" font-size="9" text-anchor="middle">10<tspan font-size="6.8" dy="-4">5</tspan></text>
<path d="M1200.4 2116.3L1198.4 2116.9L1196.4 2116.0L1196.6 2113.0L1195.3 2111.0L1195.4 2110.0L1197.4 2107.8L1198.9 2108.0L1199.2 2110.0L1200.9 2113.0L1201.2 2115.0L1200.4 2116.3ZM1198.4 2192.2L1193.4 2191.1L1192.4 2190.0L1191.3 2185.0L1192.0 2182.0L1192.1 2178.0L1193.4 2176.9L1200.4 2176.6L1202.4 2177.7L1203.1 2179.0L1203.6 2184.0L1201.4 2185.5L1199.9 2189.0L1200.1 2191.0L1199.4 2192.0L1198.4 2192.2ZM1199.4 2119.0L1195.4 2119.2L1194.4 2118.6L1193.7 2117.0L1193.1 2112.0L1193.4 2109.5L1194.4 2107.0L1197.4 2105.1L1199.4 2105.1L1201.7 2106.0L1204.3 2110.0L1202.6 2117.0L1201.4 2118.3L1199.4 2119.0ZM1198.4 2194.1L1193.4 2193.2L1192.4 2192.5L1190.8 2190.0L1189.8 2185.0L1190.5 2182.0L1190.4 2177.8L1191.1 2176.0L1193.4 2174.9L1199.4 2173.9L1201.4 2174.7L1206.7 2180.0L1207.0 2181.0L1206.3 2184.0L1207.4 2187.0L1206.4 2188.5L1201.3 2193.0L1198.4 2194.1ZM1200.4 2122.1L1193.4 2120.4L1191.7 2118.0L1191.4 2113.0L1192.7 2107.0L1193.5 2105.0L1196.4 2102.9L1198.4 2102.8L1203.4 2104.6L1204.6 2106.0L1206.1 2110.0L1204.4 2117.0L1201.8 2121.0L1200.4 2122.1ZM1194.4 2196.1L1192.1 2195.0L1189.0 2189.0L1188.3 2185.0L1189.2 2176.0L1190.4 2173.9L1193.4 2171.9L1196.4 2172.4L1200.4 2171.4L1208.4 2178.3L1209.4 2182.0L1209.4 2187.0L1207.4 2190.5L1201.4 2195.2L1199.4 2196.0L1194.4 2196.1ZM1200.4 2124.1L1198.4 2124.2L1196.4 2122.9L1192.4 2121.7L1190.8 2120.0L1189.8 2118.0L1189.5 2114.0L1190.8 2108.0L1192.4 2103.4L1195.4 2101.0L1199.4 2100.9L1203.4 2102.0L1205.4 2104.1L1207.4 2109.0L1207.6 2112.0L1205.9 2118.0L1202.4 2123.1L1200.4 2124.1ZM1199.4 2198.1L1197.4 2198.1L1194.4 2198.9L1193.4 2198.2L1189.9 2195.0L1187.9 2190.0L1187.1 2185.0L1188.1 2176.0L1189.6 2172.0L1191.3 2170.0L1192.4 2169.5L1200.4 2169.4L1202.4 2170.0L1204.4 2172.5L1206.4 2173.6L1209.5 2177.0L1211.9 2183.0L1211.0 2188.0L1208.4 2192.9L1205.4 2195.4L1199.4 2198.1ZM1199.4 2126.0L1197.4 2126.0L1191.4 2122.4L1188.9 2119.0L1188.1 2115.0L1189.0 2109.0L1190.9 2103.0L1193.4 2100.4L1196.4 2099.5L1202.4 2099.6L1205.0 2101.0L1208.3 2107.0L1209.2 2111.0L1209.0 2114.0L1206.2 2121.0L1202.4 2125.0L1199.4 2126.0ZM1199.4 2200.2L1194.4 2200.8L1192.6 2200.0L1189.4 2197.1L1187.0 2192.0L1186.1 2186.0L1186.3 2180.0L1187.8 2173.0L1189.3 2170.0L1191.4 2168.3L1197.4 2166.9L1204.4 2168.2L1211.4 2175.6L1212.4 2177.7L1212.5 2180.0L1214.1 2183.0L1214.9 2188.0L1213.4 2190.6L1207.3 2197.0L1199.4 2200.2ZM1198.4 2128.1L1195.4 2127.2L1190.4 2123.0L1187.8 2119.0L1187.0 2114.0L1188.9 2104.0L1191.4 2100.4L1196.4 2097.9L1201.4 2097.6L1204.4 2098.7L1206.7 2101.0L1210.1 2107.0L1210.7 2113.0L1206.4 2123.8L1201.4 2127.3L1198.4 2128.1ZM1199.4 2202.3L1195.4 2202.6L1189.0 2200.0L1185.4 2192.0L1184.9 2184.0L1185.2 2179.0L1186.6 2173.0L1188.6 2169.0L1190.4 2167.1L1194.4 2165.0L1197.4 2164.5L1200.4 2165.4L1205.4 2166.1L1210.1 2171.0L1213.0 2173.0L1216.7 2184.0L1216.7 2188.0L1216.1 2190.0L1214.4 2192.8L1209.4 2198.8L1207.4 2200.3L1204.4 2200.6L1199.4 2202.3ZM1198.4 2131.1L1196.4 2130.8L1193.4 2128.4L1188.4 2122.5L1187.0 2120.0L1185.9 2114.0L1186.7 2108.0L1188.4 2102.1L1192.4 2097.5L1194.8 2096.0L1197.4 2095.4L1202.7 2096.0L1206.9 2099.0L1211.5 2106.0L1212.0 2112.0L1210.1 2120.0L1207.6 2125.0L1203.4 2128.4L1198.4 2131.1ZM1197.4 2205.1L1194.4 2204.7L1189.0 2202.0L1187.4 2200.6L1184.0 2192.0L1183.5 2182.0L1183.9 2178.0L1185.6 2172.0L1188.4 2166.8L1191.4 2163.8L1196.4 2161.5L1202.4 2162.8L1208.4 2165.5L1210.7 2169.0L1215.1 2172.0L1216.3 2177.0L1218.1 2180.0L1218.6 2183.0L1218.0 2190.0L1211.5 2200.0L1208.4 2202.2L1204.4 2202.8L1197.4 2205.1ZM1197.4 2134.1L1192.4 2130.6L1187.2 2123.0L1185.9 2120.0L1184.8 2114.0L1185.1 2109.0L1187.4 2101.3L1191.0 2096.0L1195.4 2093.6L1197.4 2093.2L1204.4 2094.7L1207.6 2097.0L1212.4 2104.2L1213.2 2107.0L1213.4 2113.0L1212.4 2117.0L1212.3 2120.0L1209.2 2126.0L1200.8 2133.0L1197.4 2134.1ZM1198.4 2207.0L1195.4 2207.6L1193.5 2207.0L1191.3 2205.0L1187.4 2202.7L1186.0 2201.0L1182.7 2192.0L1182.0 2181.0L1184.1 2172.0L1187.4 2165.1L1189.0 2163.0L1192.4 2160.4L1195.4 2159.5L1203.4 2159.4L1204.4 2159.8L1206.4 2162.2L1210.4 2163.9L1212.7 2168.0L1217.0 2171.0L1218.4 2176.0L1220.6 2181.0L1220.9 2186.0L1219.6 2191.0L1218.1 2194.0L1212.4 2201.6L1209.4 2203.6L1198.4 2207.0ZM1199.4 2136.0L1196.4 2136.5L1192.4 2133.5L1190.4 2131.1L1185.3 2122.0L1183.7 2114.0L1183.7 2109.0L1185.1 2104.0L1186.0 2101.0L1188.7 2096.0L1190.4 2094.2L1196.4 2091.5L1200.4 2091.6L1205.4 2093.0L1207.4 2094.3L1212.9 2101.0L1214.8 2108.0L1215.0 2113.0L1213.9 2120.0L1211.4 2126.0L1204.4 2133.5L1202.2 2135.0L1199.4 2136.0ZM1198.4 2209.1L1195.4 2209.5L1191.4 2208.4L1185.8 2203.0L1182.9 2198.0L1181.1 2190.0L1180.6 2181.0L1183.1 2171.0L1187.3 2162.0L1194.4 2155.0L1198.4 2156.0L1202.4 2155.4L1205.4 2157.1L1207.4 2159.6L1211.4 2162.1L1218.6 2170.0L1221.2 2175.0L1223.0 2181.0L1223.1 2187.0L1221.4 2193.0L1218.4 2198.0L1212.5 2204.0L1202.4 2208.7L1198.4 2209.1ZM1198.4 2143.9L1192.4 2137.4L1186.9 2129.0L1186.0 2126.0L1184.0 2122.0L1182.3 2111.0L1184.9 2100.0L1188.4 2094.0L1190.4 2092.1L1194.4 2090.1L1199.4 2089.4L1206.4 2091.7L1213.4 2098.8L1214.5 2101.0L1216.1 2107.0L1216.5 2113.0L1215.3 2120.0L1213.0 2127.0L1204.9 2137.0L1203.4 2139.5L1200.6 2141.0L1198.4 2143.9ZM1196.4 2212.0L1194.4 2211.9L1189.4 2209.5L1182.1 2200.0L1179.8 2191.0L1179.4 2181.0L1181.4 2171.0L1186.0 2161.0L1190.0 2156.0L1191.6 2153.0L1194.4 2150.3L1197.4 2150.4L1200.4 2149.6L1206.4 2153.9L1208.8 2157.0L1217.4 2165.0L1222.0 2171.0L1225.4 2179.0L1225.5 2186.0L1223.0 2195.0L1221.1 2198.0L1215.4 2204.7L1202.5 2211.0L1196.4 2212.0ZM1198.4 2214.0L1193.4 2214.0L1189.4 2212.2L1185.6 2208.0L1181.4 2201.9L1180.0 2199.0L1178.3 2191.0L1178.0 2181.0L1179.1 2173.0L1180.3 2169.0L1185.0 2159.0L1188.0 2155.0L1189.4 2151.0L1190.7 2149.0L1191.8 2144.0L1189.2 2136.0L1185.4 2130.0L1182.5 2122.0L1181.0 2112.0L1182.0 2105.0L1184.4 2097.0L1188.4 2091.6L1193.4 2088.3L1199.4 2087.1L1205.4 2089.1L1208.4 2091.0L1214.5 2097.0L1216.7 2102.0L1218.1 2109.0L1218.2 2114.0L1217.2 2119.0L1215.2 2127.0L1207.3 2139.0L1206.8 2146.0L1209.4 2152.7L1214.4 2159.1L1219.2 2163.0L1224.7 2170.0L1227.9 2178.0L1228.3 2183.0L1228.0 2188.0L1224.8 2198.0L1217.4 2206.7L1212.4 2209.0L1209.4 2211.0L1202.4 2213.3L1198.4 2214.0ZM1203.4 2217.0L1201.4 2217.5L1193.4 2217.4L1188.4 2215.1L1185.4 2212.8L1182.3 2209.0L1179.0 2203.0L1176.9 2196.0L1175.8 2189.0L1176.0 2179.0L1177.5 2170.0L1179.9 2163.0L1184.8 2154.0L1186.9 2147.0L1186.8 2138.0L1181.3 2126.0L1179.8 2121.0L1178.8 2111.0L1179.8 2104.0L1182.3 2096.0L1187.4 2089.0L1192.4 2084.7L1198.4 2083.7L1203.4 2084.8L1210.4 2088.5L1216.4 2094.7L1219.5 2101.0L1221.0 2113.0L1220.1 2120.0L1218.0 2127.0L1215.7 2131.0L1213.4 2137.0L1211.7 2144.0L1213.4 2150.0L1216.4 2155.0L1225.8 2165.0L1227.9 2168.0L1229.8 2172.0L1232.2 2180.0L1232.8 2186.0L1231.5 2193.0L1229.4 2197.0L1228.7 2200.0L1221.7 2208.0L1217.4 2211.4L1214.4 2212.5L1210.4 2214.9L1203.4 2217.0ZM1201.4 2224.1L1195.4 2224.5L1189.4 2223.1L1184.4 2220.0L1179.6 2214.0L1177.2 2210.0L1174.4 2203.0L1172.3 2193.0L1171.6 2181.0L1173.8 2169.0L1176.0 2161.0L1181.1 2149.0L1182.0 2144.0L1181.3 2138.0L1177.2 2126.0L1175.4 2116.0L1175.3 2110.0L1176.5 2101.0L1179.2 2093.0L1185.4 2083.3L1188.4 2081.1L1193.4 2078.9L1199.4 2078.0L1203.4 2078.8L1211.4 2082.3L1213.7 2084.0L1218.4 2089.1L1223.7 2099.0L1225.4 2107.0L1225.9 2115.0L1223.0 2127.0L1218.9 2137.0L1218.7 2141.0L1221.4 2150.1L1223.4 2153.1L1233.3 2164.0L1237.0 2171.0L1239.0 2179.0L1239.7 2187.0L1238.8 2194.0L1234.7 2203.0L1232.7 2206.0L1224.4 2214.8L1213.4 2221.2L1201.4 2224.1Z" fill="none" stroke="#2a2a2a" stroke-width="1" stroke-linejoin="round"/>
<rect x="1142.2" y="2061.5" width="122.9" height="81.7" fill="none" stroke="#DD2B25" stroke-width="1.8"/>
<text x="1213" y="2054.6" font-size="28.5" text-anchor="middle">34.4%</text>
<path d="M48.3 1790L48.3 2272" stroke="#000" stroke-width="2.6" fill="none"/>
<path d="M48.3 1750 Q50.3 1785 55.9 1808 Q49.8 1797 48.3 1798 Q46.8 1797 40.7 1808 Q46.3 1785 48.3 1750Z" fill="#000"/>
<path d="M47 2271.5L1279.3 2271.5" stroke="#000" stroke-width="2.6" fill="none"/>
<path d="M1319.3 2271.5 Q1284.3 2273.5 1261.3 2279.1 Q1272.3 2273 1271.3 2271.5 Q1272.3 2270 1261.3 2263.9 Q1284.3 2269.5 1319.3 2271.5Z" fill="#000"/>
<text x="745.2" y="2312.5" font-size="33.5" text-anchor="middle">CD8</text>
<text x="40" y="2003.2" font-size="33" text-anchor="middle" transform="rotate(-90 40 2003.2)">CXCR3</text>
<text x="96" y="1873" font-size="33" text-anchor="middle" transform="rotate(-90 96 1873)"><tspan font-style="italic">Mlkl</tspan><tspan font-size="19.5" dy="-12"> loxP/loxP</tspan></text>
<text x="96" y="2119" font-size="33" text-anchor="middle" transform="rotate(-90 96 2119)"><tspan font-style="italic">Mlkl</tspan><tspan font-size="19.5" dy="-12"> iΔEC/iΔEC</tspan></text>
<text x="1306" y="1061.5" font-size="50" font-weight="bold">f</text>
<path d="M1414 1106.9L1414 1313.6" stroke="#000" stroke-width="2.2" fill="none"/>
<path d="M1406 1313.6L1672.8 1313.6" stroke="#000" stroke-width="2.2" fill="none"/>
<path d="M1406 1313.6L1414 1313.6M1406 1244.7L1414 1244.7M1406 1175.8L1414 1175.8M1406 1106.9L1414 1106.9" stroke="#000" stroke-width="2.2" fill="none"/>
<path d="M1447.6 1313.6L1447.6 1321.6M1495.9 1313.6L1495.9 1321.6M1544.2 1313.6L1544.2 1321.6M1592.5 1313.6L1592.5 1321.6M1640.8 1313.6L1640.8 1321.6" stroke="#000" stroke-width="2.2" fill="none"/>
<text x="1404.5" y="1321.4" font-size="21" text-anchor="end">0</text>
<text x="1404.5" y="1252.5" font-size="21" text-anchor="end">10</text>
<text x="1404.5" y="1183.6" font-size="21" text-anchor="end">20</text>
<text x="1404.5" y="1114.7" font-size="21" text-anchor="end">30</text>
<circle cx="1446.2" cy="1151.8" r="4.3" fill="#EF7E2D"/>
<circle cx="1434.3" cy="1175.3" r="4.3" fill="#EF7E2D"/>
<circle cx="1446.2" cy="1178.2" r="4.3" fill="#EF7E2D"/>
<circle cx="1434.3" cy="1185.6" r="4.3" fill="#EF7E2D"/>
<circle cx="1446.2" cy="1187.2" r="4.3" fill="#EF7E2D"/>
<circle cx="1434.3" cy="1194.8" r="4.3" fill="#EF7E2D"/>
<circle cx="1446.2" cy="1197.1" r="4.3" fill="#EF7E2D"/>
<circle cx="1458.4" cy="1201.6" r="4.3" fill="#EF7E2D"/>
<circle cx="1446.2" cy="1207.8" r="4.3" fill="#EF7E2D"/>
<circle cx="1446.2" cy="1230.8" r="4.3" fill="#EF7E2D"/>
<circle cx="1495.1" cy="1165.6" r="4.3" fill="#4A8BF2"/>
<circle cx="1495.1" cy="1174.1" r="4.3" fill="#4A8BF2"/>
<circle cx="1489.4" cy="1187.2" r="4.3" fill="#4A8BF2"/>
<circle cx="1501.3" cy="1185.6" r="4.3" fill="#4A8BF2"/>
<circle cx="1489.4" cy="1195.9" r="4.3" fill="#4A8BF2"/>
<circle cx="1501.3" cy="1199.4" r="4.3" fill="#4A8BF2"/>
<circle cx="1482.9" cy="1208.5" r="4.3" fill="#4A8BF2"/>
<circle cx="1495.1" cy="1213.1" r="4.3" fill="#4A8BF2"/>
<circle cx="1507.3" cy="1209.7" r="4.3" fill="#4A8BF2"/>
<circle cx="1495.1" cy="1225.3" r="4.3" fill="#4A8BF2"/>
<circle cx="1537.5" cy="1194.8" r="4.3" fill="#2E8B3E"/>
<circle cx="1549.5" cy="1194.8" r="4.3" fill="#2E8B3E"/>
<circle cx="1537.5" cy="1206.7" r="4.3" fill="#2E8B3E"/>
<circle cx="1549.5" cy="1207.4" r="4.3" fill="#2E8B3E"/>
<circle cx="1543.3" cy="1226.9" r="4.3" fill="#2E8B3E"/>
<circle cx="1531.4" cy="1241.4" r="4.3" fill="#2E8B3E"/>
<circle cx="1555.5" cy="1237.2" r="4.3" fill="#2E8B3E"/>
<circle cx="1543.3" cy="1248.2" r="4.3" fill="#2E8B3E"/>
<circle cx="1555.5" cy="1249.4" r="4.3" fill="#2E8B3E"/>
<circle cx="1531.4" cy="1255.6" r="4.3" fill="#2E8B3E"/>
<circle cx="1591.9" cy="1220.7" r="4.3" fill="#8B1A1A"/>
<circle cx="1596.1" cy="1242.3" r="4.3" fill="#8B1A1A"/>
<circle cx="1604.1" cy="1246.9" r="4.3" fill="#8B1A1A"/>
<circle cx="1579.6" cy="1251.5" r="4.3" fill="#8B1A1A"/>
<circle cx="1591.9" cy="1255.6" r="4.3" fill="#8B1A1A"/>
<circle cx="1585.7" cy="1256.7" r="4.3" fill="#8B1A1A"/>
<circle cx="1585.7" cy="1263.6" r="4.3" fill="#8B1A1A"/>
<circle cx="1596.1" cy="1263.6" r="4.3" fill="#8B1A1A"/>
<circle cx="1604.1" cy="1264.8" r="4.3" fill="#8B1A1A"/>
<circle cx="1579.6" cy="1271.2" r="4.3" fill="#8B1A1A"/>
<circle cx="1640.8" cy="1256.7" r="4.3" fill="#3A1785"/>
<circle cx="1640.8" cy="1271.6" r="4.3" fill="#3A1785"/>
<circle cx="1628.9" cy="1286.6" r="4.3" fill="#3A1785"/>
<circle cx="1640.8" cy="1285.4" r="4.3" fill="#3A1785"/>
<circle cx="1652.8" cy="1281.3" r="4.3" fill="#3A1785"/>
<circle cx="1628.9" cy="1295.7" r="4.3" fill="#3A1785"/>
<circle cx="1640.8" cy="1297.4" r="4.3" fill="#3A1785"/>
<circle cx="1652.8" cy="1295.7" r="4.3" fill="#3A1785"/>
<circle cx="1628.9" cy="1303.8" r="4.3" fill="#3A1785"/>
<circle cx="1652.8" cy="1302.6" r="4.3" fill="#3A1785"/>
<path d="M1431.1 1191.3L1464.1 1191.3M1479.4 1196.4L1512.4 1196.4M1527.7 1225.7L1560.7 1225.7M1576 1253.7L1609 1253.7M1624.3 1287.7L1657.3 1287.7" stroke="#000" stroke-width="2.3" fill="none"/>
<path d="M1435.9 1127L1435.9 1055.9L1640.8 1055.9L1640.8 1202.8" stroke="#000" stroke-width="1.6" fill="none"/>
<path d="M1441.3 1127L1441.3 1077.7L1591.5 1077.7L1591.5 1188.6" stroke="#000" stroke-width="1.6" fill="none"/>
<path d="M1447.9 1126L1447.9 1096.5L1543.3 1096.5L1543.3 1177.5" stroke="#000" stroke-width="1.6" fill="none"/>
<path d="M1454.5 1128L1454.5 1115.1L1495 1115.1L1495 1129.3" stroke="#000" stroke-width="1.6" fill="none"/>
<text x="1534" y="1058.2" font-size="16" text-anchor="middle" font-weight="bold">****</text>
<text x="1519" y="1081.2" font-size="16" text-anchor="middle" font-weight="bold">****</text>
<text x="1493.7" y="1100.7" font-size="16" text-anchor="middle" font-weight="bold">**</text>
<text x="1478.6" y="1112.8" font-size="20.5" text-anchor="middle">N.S.</text>
<text x="1443.4" y="1304" font-size="33.5" font-style="italic">Mlkl</text>
<text x="1509" y="1293.8" font-size="19.5">loxP/loxP</text>
<path d="M1416 1391.7L1416 1606.7" stroke="#000" stroke-width="2.2" fill="none"/>
<path d="M1408 1598.7L1674.4 1598.7" stroke="#000" stroke-width="2.2" fill="none"/>
<path d="M1408 1598.7L1416 1598.7M1408 1529.7L1416 1529.7M1408 1460.7L1416 1460.7M1408 1391.7L1416 1391.7" stroke="#000" stroke-width="2.2" fill="none"/>
<path d="M1447.6 1598.7L1447.6 1606.7M1496.3 1598.7L1496.3 1606.7M1545 1598.7L1545 1606.7M1593.7 1598.7L1593.7 1606.7M1642.4 1598.7L1642.4 1606.7" stroke="#000" stroke-width="2.2" fill="none"/>
<text x="1406.5" y="1606.5" font-size="21" text-anchor="end">0</text>
<text x="1406.5" y="1537.5" font-size="21" text-anchor="end">10</text>
<text x="1406.5" y="1468.5" font-size="21" text-anchor="end">20</text>
<text x="1406.5" y="1399.5" font-size="21" text-anchor="end">30</text>
<circle cx="1448.7" cy="1444.9" r="4.3" fill="#EF7E2D"/>
<circle cx="1436.6" cy="1459.8" r="4.3" fill="#EF7E2D"/>
<circle cx="1448.7" cy="1464.9" r="4.3" fill="#EF7E2D"/>
<circle cx="1460.7" cy="1464.9" r="4.3" fill="#EF7E2D"/>
<circle cx="1436.6" cy="1472.5" r="4.3" fill="#EF7E2D"/>
<circle cx="1460.7" cy="1478.2" r="4.3" fill="#EF7E2D"/>
<circle cx="1436.6" cy="1483.9" r="4.3" fill="#EF7E2D"/>
<circle cx="1448.7" cy="1486.9" r="4.3" fill="#EF7E2D"/>
<circle cx="1460.7" cy="1491.5" r="4.3" fill="#EF7E2D"/>
<circle cx="1436.6" cy="1497" r="4.3" fill="#EF7E2D"/>
<circle cx="1496.9" cy="1429.1" r="4.3" fill="#4A8BF2"/>
<circle cx="1496.9" cy="1448.4" r="4.3" fill="#4A8BF2"/>
<circle cx="1496.9" cy="1465.6" r="4.3" fill="#4A8BF2"/>
<circle cx="1484.8" cy="1480" r="4.3" fill="#4A8BF2"/>
<circle cx="1508.9" cy="1485.8" r="4.3" fill="#4A8BF2"/>
<circle cx="1484.8" cy="1490.8" r="4.3" fill="#4A8BF2"/>
<circle cx="1508.9" cy="1496.6" r="4.3" fill="#4A8BF2"/>
<circle cx="1484.8" cy="1503" r="4.3" fill="#4A8BF2"/>
<circle cx="1484.8" cy="1518.4" r="4.3" fill="#4A8BF2"/>
<circle cx="1508.9" cy="1515.4" r="4.3" fill="#4A8BF2"/>
<circle cx="1545.1" cy="1437.6" r="4.3" fill="#2E8B3E"/>
<circle cx="1545.1" cy="1454.8" r="4.3" fill="#2E8B3E"/>
<circle cx="1545.1" cy="1463.3" r="4.3" fill="#2E8B3E"/>
<circle cx="1545.1" cy="1473.6" r="4.3" fill="#2E8B3E"/>
<circle cx="1557.5" cy="1486.2" r="4.3" fill="#2E8B3E"/>
<circle cx="1533" cy="1493.8" r="4.3" fill="#2E8B3E"/>
<circle cx="1545.1" cy="1489.7" r="4.3" fill="#2E8B3E"/>
<circle cx="1557.5" cy="1498.4" r="4.3" fill="#2E8B3E"/>
<circle cx="1545.1" cy="1511.5" r="4.3" fill="#2E8B3E"/>
<circle cx="1545.1" cy="1532.6" r="4.3" fill="#2E8B3E"/>
<circle cx="1593.8" cy="1437.6" r="4.3" fill="#8B1A1A"/>
<circle cx="1593.8" cy="1462.1" r="4.3" fill="#8B1A1A"/>
<circle cx="1581.6" cy="1473.6" r="4.3" fill="#8B1A1A"/>
<circle cx="1605.9" cy="1477.1" r="4.3" fill="#8B1A1A"/>
<circle cx="1605.9" cy="1486.2" r="4.3" fill="#8B1A1A"/>
<circle cx="1581.6" cy="1490.8" r="4.3" fill="#8B1A1A"/>
<circle cx="1605.9" cy="1498.9" r="4.3" fill="#8B1A1A"/>
<circle cx="1581.6" cy="1513.8" r="4.3" fill="#8B1A1A"/>
<circle cx="1605.9" cy="1516.8" r="4.3" fill="#8B1A1A"/>
<circle cx="1593.8" cy="1542.5" r="4.3" fill="#8B1A1A"/>
<circle cx="1642.4" cy="1450" r="4.3" fill="#3A1785"/>
<circle cx="1636.2" cy="1462.6" r="4.3" fill="#3A1785"/>
<circle cx="1648.4" cy="1462.6" r="4.3" fill="#3A1785"/>
<circle cx="1642.4" cy="1473.6" r="4.3" fill="#3A1785"/>
<circle cx="1630" cy="1480" r="4.3" fill="#3A1785"/>
<circle cx="1642.4" cy="1482.3" r="4.3" fill="#3A1785"/>
<circle cx="1654.6" cy="1480.5" r="4.3" fill="#3A1785"/>
<circle cx="1654.6" cy="1492.4" r="4.3" fill="#3A1785"/>
<circle cx="1642.4" cy="1498.4" r="4.3" fill="#3A1785"/>
<circle cx="1642.4" cy="1521.8" r="4.3" fill="#3A1785"/>
<path d="M1431.1 1474.1L1464.1 1474.1M1479.8 1483.5L1512.8 1483.5M1528.5 1484.4L1561.5 1484.4M1577.2 1490.1L1610.2 1490.1M1625.9 1480L1658.9 1480" stroke="#000" stroke-width="2.3" fill="none"/>
<path d="M1437.7 1419.7L1437.7 1347.8L1643.1 1347.8L1643.1 1408.9" stroke="#000" stroke-width="1.6" fill="none"/>
<path d="M1443.4 1419.7L1443.4 1369.6L1593.3 1369.6L1593.3 1400.2" stroke="#000" stroke-width="1.6" fill="none"/>
<path d="M1449.9 1419.7L1449.9 1388.7L1545.6 1388.7L1545.6 1413.9" stroke="#000" stroke-width="1.6" fill="none"/>
<path d="M1456.5 1419.7L1456.5 1407L1496.9 1407L1496.9 1419.7" stroke="#000" stroke-width="1.6" fill="none"/>
<text x="1547.4" y="1345.1" font-size="20.5" text-anchor="middle">N.S.</text>
<text x="1517.6" y="1365.7" font-size="20.5" text-anchor="middle">N.S.</text>
<text x="1504.3" y="1385.2" font-size="20.5" text-anchor="middle">N.S.</text>
<text x="1478.6" y="1403.6" font-size="20.5" text-anchor="middle">N.S.</text>
<text x="1454.2" y="1585" font-size="33.5" font-style="italic">Mlkl</text>
<text x="1520.3" y="1575" font-size="19.5">iΔEC/iΔEC</text>
<text x="1447.6" y="1636.3" font-size="26.5" text-anchor="middle">1</text>
<text x="1496.3" y="1636.3" font-size="26.5" text-anchor="middle">2</text>
<text x="1545" y="1636.3" font-size="26.5" text-anchor="middle">3</text>
<text x="1593.7" y="1636.3" font-size="26.5" text-anchor="middle">4</text>
<text x="1642.4" y="1636.3" font-size="26.5" text-anchor="middle">5</text>
<text x="1546.2" y="1670.5" font-size="33.5" text-anchor="middle">Cycle</text>
<text x="1362" y="1341" font-size="33.6" text-anchor="middle" transform="rotate(-90 1362 1341)">Percentage of CXCL10<tspan font-size="20" dy="-13">+</tspan><tspan dy="13"> macrophages</tspan></text>
<text x="1668" y="1067.5" font-size="50" font-weight="bold">g</text>
<path d="M1796.6 1238.8L1796.6 1454.6" stroke="#000" stroke-width="2.2" fill="none"/>
<path d="M1788.6 1446.1L2104.8 1446.1" stroke="#000" stroke-width="2.2" fill="none"/>
<path d="M1788.6 1446.1L1796.6 1446.1M1788.6 1377L1796.6 1377M1788.6 1307.9L1796.6 1307.9M1788.6 1238.8L1796.6 1238.8" stroke="#000" stroke-width="2.2" fill="none"/>
<path d="M1849.9 1446.1L1849.9 1454.6M1901.5 1446.1L1901.5 1454.6M1953.1 1446.1L1953.1 1454.6M2004.7 1446.1L2004.7 1454.6M2056.3 1446.1L2056.3 1454.6" stroke="#000" stroke-width="2.2" fill="none"/>
<text x="1787.1" y="1453.9" font-size="22.5" text-anchor="end">0</text>
<text x="1787.1" y="1384.8" font-size="22.5" text-anchor="end">10</text>
<text x="1787.1" y="1315.7" font-size="22.5" text-anchor="end">20</text>
<text x="1787.1" y="1246.6" font-size="22.5" text-anchor="end">30</text>
<text x="1849.9" y="1480.8" font-size="26.5" text-anchor="middle">1</text>
<text x="1901.5" y="1480.8" font-size="26.5" text-anchor="middle">2</text>
<text x="1953.1" y="1480.8" font-size="26.5" text-anchor="middle">3</text>
<text x="2004.7" y="1480.8" font-size="26.5" text-anchor="middle">4</text>
<text x="2056.3" y="1480.8" font-size="26.5" text-anchor="middle">5</text>
<text x="1944" y="1518.9" font-size="33.5" text-anchor="middle">Cycle</text>
<path d="M1849.9 1302.4L1849.9 1343.8M1844.4 1302.4L1855.4 1302.4M1844.4 1343.8L1855.4 1343.8M1901.5 1310L1901.5 1347.3M1896 1310L1907 1310M1896 1347.3L1907 1347.3M1953.1 1332.8L1953.1 1380.5M1947.6 1332.8L1958.6 1332.8M1947.6 1380.5L1958.6 1380.5M2004.7 1371.5L2004.7 1399.8M1999.2 1371.5L2010.2 1371.5M1999.2 1399.8L2010.2 1399.8M2056.3 1406L2056.3 1433.7M2050.8 1406L2061.8 1406M2050.8 1433.7L2061.8 1433.7" stroke="#EF7E2D" stroke-width="1.8" fill="none"/>
<path d="M1849.9 1305.8L1849.9 1337.6M1844.4 1305.8L1855.4 1305.8M1844.4 1337.6L1855.4 1337.6M1901.5 1301.7L1901.5 1359M1896 1301.7L1907 1301.7M1896 1359L1907 1359M1953.1 1303.8L1953.1 1359M1947.6 1303.8L1958.6 1303.8M1947.6 1359L1958.6 1359M2004.7 1307.2L2004.7 1367.3M1999.2 1307.2L2010.2 1307.2M1999.2 1367.3L2010.2 1367.3M2056.3 1307.2L2056.3 1348M2050.8 1307.2L2061.8 1307.2M2050.8 1348L2061.8 1348" stroke="#4A8BF2" stroke-width="1.8" fill="none"/>
<path d="M1849.9 1321.7L1901.5 1330L1953.1 1331.4L2004.7 1336.9L2056.3 1327.2" stroke="#4A8BF2" stroke-width="2" fill="none"/>
<rect x="1844.9" y="1316.7" width="10" height="10" fill="#4A8BF2"/>
<rect x="1896.5" y="1325" width="10" height="10" fill="#4A8BF2"/>
<rect x="1948.1" y="1326.4" width="10" height="10" fill="#4A8BF2"/>
<rect x="1999.7" y="1331.9" width="10" height="10" fill="#4A8BF2"/>
<rect x="2051.3" y="1322.2" width="10" height="10" fill="#4A8BF2"/>
<path d="M1849.9 1323.1L1901.5 1328.6L1953.1 1357.7L2004.7 1385.3L2056.3 1419.8" stroke="#EF7E2D" stroke-width="2" fill="none"/>
<circle cx="1849.9" cy="1323.1" r="5.2" fill="#EF7E2D"/>
<circle cx="1901.5" cy="1328.6" r="5.2" fill="#EF7E2D"/>
<circle cx="1953.1" cy="1357.7" r="5.2" fill="#EF7E2D"/>
<circle cx="2004.7" cy="1385.3" r="5.2" fill="#EF7E2D"/>
<circle cx="2056.3" cy="1419.8" r="5.2" fill="#EF7E2D"/>
<text x="1840.7" y="1204.6" font-size="33.5" font-style="italic" fill="#E96E26">Mlkl</text>
<text x="1906.7" y="1195" font-size="19.5" fill="#E96E26">loxP/loxP</text>
<text x="1839.4" y="1242.5" font-size="33.5" font-style="italic" fill="#3F7FEA">Mlkl</text>
<text x="1906.7" y="1232.3" font-size="19.5" fill="#3F7FEA">iΔEC/iΔEC</text>
<path d="M2008.4 1189.5L2025 1189.5L2025 1229.4L2008.4 1229.4" stroke="#000" stroke-width="2" fill="none"/>
<text x="2056.2" y="1226.5" font-size="33" text-anchor="middle">****</text>
<text x="1721.5" y="1348.5" font-size="33.6" text-anchor="middle" transform="rotate(-90 1721.5 1348.5)">Percentage of CXCL10<tspan font-size="20" dy="-13">+</tspan></text>
<text x="1756" y="1351.5" font-size="33.6" text-anchor="middle" transform="rotate(-90 1756 1351.5)">macrophages</text>
<text x="1320" y="1722" font-size="50" font-weight="bold">i</text>
<path d="M1412.5 1768.5L1412.5 1976.2" stroke="#000" stroke-width="2.2" fill="none"/>
<path d="M1404.5 1976.2L1669.5 1976.2" stroke="#000" stroke-width="2.2" fill="none"/>
<path d="M1404.5 1976.2L1412.5 1976.2M1404.5 1907L1412.5 1907M1404.5 1837.7L1412.5 1837.7M1404.5 1768.5L1412.5 1768.5" stroke="#000" stroke-width="2.2" fill="none"/>
<path d="M1443.9 1976.2L1443.9 1984.2M1492.3 1976.2L1492.3 1984.2M1540.7 1976.2L1540.7 1984.2M1589.1 1976.2L1589.1 1984.2M1637.5 1976.2L1637.5 1984.2" stroke="#000" stroke-width="2.2" fill="none"/>
<text x="1403" y="1984" font-size="22.5" text-anchor="end">0</text>
<text x="1403" y="1914.8" font-size="22.5" text-anchor="end">20</text>
<text x="1403" y="1845.5" font-size="22.5" text-anchor="end">40</text>
<text x="1403" y="1776.3" font-size="22.5" text-anchor="end">60</text>
<circle cx="1432" cy="1832.3" r="4.3" fill="#EF7E2D"/>
<circle cx="1456.1" cy="1828.9" r="4.3" fill="#EF7E2D"/>
<circle cx="1432" cy="1847.9" r="4.3" fill="#EF7E2D"/>
<circle cx="1456.1" cy="1842.6" r="4.3" fill="#EF7E2D"/>
<circle cx="1432" cy="1855.7" r="4.3" fill="#EF7E2D"/>
<circle cx="1456.1" cy="1854.8" r="4.3" fill="#EF7E2D"/>
<circle cx="1432" cy="1874.8" r="4.3" fill="#EF7E2D"/>
<circle cx="1456.1" cy="1874.1" r="4.3" fill="#EF7E2D"/>
<circle cx="1444.1" cy="1885.1" r="4.3" fill="#EF7E2D"/>
<circle cx="1444.1" cy="1900" r="4.3" fill="#EF7E2D"/>
<circle cx="1480.9" cy="1838" r="4.3" fill="#4A8BF2"/>
<circle cx="1505" cy="1831.8" r="4.3" fill="#4A8BF2"/>
<circle cx="1480.9" cy="1846.8" r="4.3" fill="#4A8BF2"/>
<circle cx="1505" cy="1852.3" r="4.3" fill="#4A8BF2"/>
<circle cx="1480.9" cy="1861.7" r="4.3" fill="#4A8BF2"/>
<circle cx="1505" cy="1863.3" r="4.3" fill="#4A8BF2"/>
<circle cx="1480.9" cy="1880.5" r="4.3" fill="#4A8BF2"/>
<circle cx="1505" cy="1875.4" r="4.3" fill="#4A8BF2"/>
<circle cx="1505" cy="1884.4" r="4.3" fill="#4A8BF2"/>
<circle cx="1492.8" cy="1893.1" r="4.3" fill="#4A8BF2"/>
<circle cx="1541" cy="1853" r="4.3" fill="#2E8B3E"/>
<circle cx="1529.1" cy="1864.4" r="4.3" fill="#2E8B3E"/>
<circle cx="1553.2" cy="1863.3" r="4.3" fill="#2E8B3E"/>
<circle cx="1529.1" cy="1878.2" r="4.3" fill="#2E8B3E"/>
<circle cx="1553.2" cy="1882.8" r="4.3" fill="#2E8B3E"/>
<circle cx="1529.1" cy="1889.7" r="4.3" fill="#2E8B3E"/>
<circle cx="1553.2" cy="1892.4" r="4.3" fill="#2E8B3E"/>
<circle cx="1529.1" cy="1898.2" r="4.3" fill="#2E8B3E"/>
<circle cx="1553.2" cy="1908.5" r="4.3" fill="#2E8B3E"/>
<circle cx="1529.1" cy="1916.1" r="4.3" fill="#2E8B3E"/>
<circle cx="1577.7" cy="1879.6" r="4.3" fill="#8B1A1A"/>
<circle cx="1589.6" cy="1875.9" r="4.3" fill="#8B1A1A"/>
<circle cx="1589.6" cy="1889.2" r="4.3" fill="#8B1A1A"/>
<circle cx="1601.8" cy="1887.4" r="4.3" fill="#8B1A1A"/>
<circle cx="1577.7" cy="1898.9" r="4.3" fill="#8B1A1A"/>
<circle cx="1589.6" cy="1899.3" r="4.3" fill="#8B1A1A"/>
<circle cx="1601.8" cy="1898.9" r="4.3" fill="#8B1A1A"/>
<circle cx="1577.7" cy="1906.9" r="4.3" fill="#8B1A1A"/>
<circle cx="1601.8" cy="1908.5" r="4.3" fill="#8B1A1A"/>
<circle cx="1589.6" cy="1916.1" r="4.3" fill="#8B1A1A"/>
<circle cx="1589.6" cy="1924.1" r="4.3" fill="#8B1A1A"/>
<circle cx="1637.8" cy="1899.3" r="4.3" fill="#3A1785"/>
<circle cx="1625.9" cy="1908.5" r="4.3" fill="#3A1785"/>
<circle cx="1633.9" cy="1912.2" r="4.3" fill="#3A1785"/>
<circle cx="1625.9" cy="1920" r="4.3" fill="#3A1785"/>
<circle cx="1642" cy="1919.5" r="4.3" fill="#3A1785"/>
<circle cx="1650" cy="1925.3" r="4.3" fill="#3A1785"/>
<circle cx="1633.9" cy="1925.3" r="4.3" fill="#3A1785"/>
<circle cx="1642" cy="1932.1" r="4.3" fill="#3A1785"/>
<circle cx="1637.8" cy="1947.1" r="4.3" fill="#3A1785"/>
<path d="M1427.4 1859.8L1460.4 1859.8M1475.8 1862.8L1508.8 1862.8M1524.2 1884.6L1557.2 1884.6M1572.6 1898.9L1605.6 1898.9M1621 1921.8L1654 1921.8" stroke="#000" stroke-width="2.3" fill="none"/>
<path d="M1433.6 1802L1433.6 1730.2L1639 1730.2L1639 1877" stroke="#000" stroke-width="1.6" fill="none"/>
<path d="M1438.9 1802L1438.9 1751.5L1589.2 1751.5L1589.2 1862.6" stroke="#000" stroke-width="1.6" fill="none"/>
<path d="M1445 1802L1445 1770.3L1541 1770.3L1541 1839.6" stroke="#000" stroke-width="1.6" fill="none"/>
<path d="M1451.5 1802.5L1451.5 1789.8L1492.8 1789.8L1492.8 1803.6" stroke="#000" stroke-width="1.6" fill="none"/>
<text x="1532.3" y="1732.5" font-size="16" text-anchor="middle" font-weight="bold">****</text>
<text x="1516.4" y="1755.4" font-size="16" text-anchor="middle" font-weight="bold">***</text>
<text x="1491.6" y="1774.5" font-size="16" text-anchor="middle" font-weight="bold">*</text>
<text x="1476.4" y="1786.4" font-size="20.5" text-anchor="middle">N.S.</text>
<text x="1446.9" y="1962" font-size="33.5" font-style="italic">Mlkl</text>
<text x="1512.3" y="1951.6" font-size="19.5">loxP/loxP</text>
<path d="M1412.5 2047.6L1412.5 2262.6" stroke="#000" stroke-width="2.2" fill="none"/>
<path d="M1404.5 2254.6L1671.7 2254.6" stroke="#000" stroke-width="2.2" fill="none"/>
<path d="M1404.5 2254.6L1412.5 2254.6M1404.5 2185.6L1412.5 2185.6M1404.5 2116.6L1412.5 2116.6M1404.5 2047.6L1412.5 2047.6" stroke="#000" stroke-width="2.2" fill="none"/>
<path d="M1446.9 2254.6L1446.9 2262.6M1495.1 2254.6L1495.1 2262.6M1543.3 2254.6L1543.3 2262.6M1591.5 2254.6L1591.5 2262.6M1639.7 2254.6L1639.7 2262.6" stroke="#000" stroke-width="2.2" fill="none"/>
<text x="1403" y="2262.4" font-size="22.5" text-anchor="end">0</text>
<text x="1403" y="2193.4" font-size="22.5" text-anchor="end">20</text>
<text x="1403" y="2124.4" font-size="22.5" text-anchor="end">40</text>
<text x="1403" y="2055.4" font-size="22.5" text-anchor="end">60</text>
<circle cx="1444.6" cy="2097.4" r="4.3" fill="#EF7E2D"/>
<circle cx="1432.7" cy="2110" r="4.3" fill="#EF7E2D"/>
<circle cx="1444.6" cy="2115.7" r="4.3" fill="#EF7E2D"/>
<circle cx="1432.7" cy="2118" r="4.3" fill="#EF7E2D"/>
<circle cx="1444.6" cy="2124.9" r="4.3" fill="#EF7E2D"/>
<circle cx="1444.6" cy="2141.7" r="4.3" fill="#EF7E2D"/>
<circle cx="1432.7" cy="2147.9" r="4.3" fill="#EF7E2D"/>
<circle cx="1456.8" cy="2149.7" r="4.3" fill="#EF7E2D"/>
<circle cx="1444.6" cy="2152" r="4.3" fill="#EF7E2D"/>
<circle cx="1444.6" cy="2160.5" r="4.3" fill="#EF7E2D"/>
<circle cx="1493.5" cy="2085.9" r="4.3" fill="#4A8BF2"/>
<circle cx="1481.3" cy="2113.4" r="4.3" fill="#4A8BF2"/>
<circle cx="1493.5" cy="2119.2" r="4.3" fill="#4A8BF2"/>
<circle cx="1505.4" cy="2114.6" r="4.3" fill="#4A8BF2"/>
<circle cx="1493.5" cy="2128.4" r="4.3" fill="#4A8BF2"/>
<circle cx="1505.4" cy="2132.5" r="4.3" fill="#4A8BF2"/>
<circle cx="1481.3" cy="2138.7" r="4.3" fill="#4A8BF2"/>
<circle cx="1493.5" cy="2144.4" r="4.3" fill="#4A8BF2"/>
<circle cx="1505.4" cy="2144.4" r="4.3" fill="#4A8BF2"/>
<circle cx="1493.5" cy="2155.9" r="4.3" fill="#4A8BF2"/>
<circle cx="1553.6" cy="2089.8" r="4.3" fill="#2E8B3E"/>
<circle cx="1529.5" cy="2095.8" r="4.3" fill="#2E8B3E"/>
<circle cx="1529.5" cy="2104.3" r="4.3" fill="#2E8B3E"/>
<circle cx="1553.6" cy="2108.2" r="4.3" fill="#2E8B3E"/>
<circle cx="1553.6" cy="2120.3" r="4.3" fill="#2E8B3E"/>
<circle cx="1529.5" cy="2123.3" r="4.3" fill="#2E8B3E"/>
<circle cx="1553.6" cy="2130.7" r="4.3" fill="#2E8B3E"/>
<circle cx="1529.5" cy="2141.7" r="4.3" fill="#2E8B3E"/>
<circle cx="1553.6" cy="2146.7" r="4.3" fill="#2E8B3E"/>
<circle cx="1541.5" cy="2158.2" r="4.3" fill="#2E8B3E"/>
<circle cx="1585.7" cy="2116.2" r="4.3" fill="#8B1A1A"/>
<circle cx="1601.8" cy="2117.6" r="4.3" fill="#8B1A1A"/>
<circle cx="1577.7" cy="2122.6" r="4.3" fill="#8B1A1A"/>
<circle cx="1593.8" cy="2121.5" r="4.3" fill="#8B1A1A"/>
<circle cx="1585.7" cy="2126.1" r="4.3" fill="#8B1A1A"/>
<circle cx="1577.7" cy="2131.8" r="4.3" fill="#8B1A1A"/>
<circle cx="1593.8" cy="2131.8" r="4.3" fill="#8B1A1A"/>
<circle cx="1601.8" cy="2131.8" r="4.3" fill="#8B1A1A"/>
<circle cx="1589.6" cy="2135.3" r="4.3" fill="#8B1A1A"/>
<circle cx="1589.6" cy="2142.8" r="4.3" fill="#8B1A1A"/>
<circle cx="1589.6" cy="2152.5" r="4.3" fill="#8B1A1A"/>
<circle cx="1626.4" cy="2111.8" r="4.3" fill="#3A1785"/>
<circle cx="1638.5" cy="2114.6" r="4.3" fill="#3A1785"/>
<circle cx="1644.3" cy="2120.3" r="4.3" fill="#3A1785"/>
<circle cx="1626.4" cy="2121" r="4.3" fill="#3A1785"/>
<circle cx="1632.1" cy="2121" r="4.3" fill="#3A1785"/>
<circle cx="1638.5" cy="2128.4" r="4.3" fill="#3A1785"/>
<circle cx="1644.3" cy="2127.2" r="4.3" fill="#3A1785"/>
<circle cx="1638.5" cy="2135.3" r="4.3" fill="#3A1785"/>
<circle cx="1638.5" cy="2147.9" r="4.3" fill="#3A1785"/>
<circle cx="1638.5" cy="2155.9" r="4.3" fill="#3A1785"/>
<path d="M1430.4 2131.8L1463.4 2131.8M1478.6 2127.9L1511.6 2127.9M1526.8 2121.5L1559.8 2121.5M1575 2129.5L1608 2129.5M1623.2 2128.4L1656.2 2128.4" stroke="#000" stroke-width="2.3" fill="none"/>
<path d="M1434.3 2079.7L1434.3 2009L1639.7 2009L1639.7 2069.2" stroke="#000" stroke-width="1.6" fill="none"/>
<path d="M1440 2079.7L1440 2030.1L1589.7 2030.1L1589.7 2070.3" stroke="#000" stroke-width="1.6" fill="none"/>
<path d="M1446.2 2079.7L1446.2 2049.2L1541.5 2049.2L1541.5 2084" stroke="#000" stroke-width="1.6" fill="none"/>
<path d="M1452.6 2079.7L1452.6 2066.9L1493.5 2066.9L1493.5 2079.7" stroke="#000" stroke-width="1.6" fill="none"/>
<text x="1543.3" y="2006" font-size="20.5" text-anchor="middle">N.S.</text>
<text x="1514.6" y="2026.2" font-size="20.5" text-anchor="middle">N.S.</text>
<text x="1500.8" y="2045.7" font-size="20.5" text-anchor="middle">N.S.</text>
<text x="1475.6" y="2064.1" font-size="20.5" text-anchor="middle">N.S.</text>
<text x="1465.7" y="2225" font-size="33.5" font-style="italic">Mlkl</text>
<text x="1531.8" y="2215.3" font-size="19.5">iΔEC/iΔEC</text>
<text x="1446.9" y="2286" font-size="26.5" text-anchor="middle">1</text>
<text x="1495.1" y="2286" font-size="26.5" text-anchor="middle">2</text>
<text x="1543.3" y="2286" font-size="26.5" text-anchor="middle">3</text>
<text x="1591.5" y="2286" font-size="26.5" text-anchor="middle">4</text>
<text x="1639.7" y="2286" font-size="26.5" text-anchor="middle">5</text>
<text x="1543.9" y="2315.4" font-size="33.5" text-anchor="middle">Cycle</text>
<text x="1368" y="2000" font-size="33.6" text-anchor="middle" transform="rotate(-90 1368 2000)">Percentage of CXCR3<tspan font-size="20" dy="-13">+</tspan><tspan dy="13">CD8</tspan><tspan font-size="20" dy="-13">+</tspan><tspan dy="13"> T cells</tspan></text>
<text x="1689" y="1729.5" font-size="50" font-weight="bold">j</text>
<path d="M1797 1898.1L1797 2113.4" stroke="#000" stroke-width="2.2" fill="none"/>
<path d="M1789 2104.9L2104.8 2104.9" stroke="#000" stroke-width="2.2" fill="none"/>
<path d="M1789 2104.9L1797 2104.9M1789 2036L1797 2036M1789 1967L1797 1967M1789 1898.1L1797 1898.1" stroke="#000" stroke-width="2.2" fill="none"/>
<path d="M1850.6 2104.9L1850.6 2113.4M1902.1 2104.9L1902.1 2113.4M1953.6 2104.9L1953.6 2113.4M2005.1 2104.9L2005.1 2113.4M2056.6 2104.9L2056.6 2113.4" stroke="#000" stroke-width="2.2" fill="none"/>
<text x="1787.5" y="2112.7" font-size="22.5" text-anchor="end">0</text>
<text x="1787.5" y="2043.8" font-size="22.5" text-anchor="end">20</text>
<text x="1787.5" y="1974.8" font-size="22.5" text-anchor="end">40</text>
<text x="1787.5" y="1905.9" font-size="22.5" text-anchor="end">60</text>
<text x="1850.6" y="2138.6" font-size="26.5" text-anchor="middle">1</text>
<text x="1902.1" y="2138.6" font-size="26.5" text-anchor="middle">2</text>
<text x="1953.6" y="2138.6" font-size="26.5" text-anchor="middle">3</text>
<text x="2005.1" y="2138.6" font-size="26.5" text-anchor="middle">4</text>
<text x="2056.6" y="2138.6" font-size="26.5" text-anchor="middle">5</text>
<text x="1944" y="2178.4" font-size="33.5" text-anchor="middle">Cycle</text>
<path d="M1850.6 1965.3L1850.6 2011.8M1845.1 1965.3L1856.1 1965.3M1845.1 2011.8L1856.1 2011.8M1902.1 1970.5L1902.1 2011.8M1896.6 1970.5L1907.6 1970.5M1896.6 2011.8L1907.6 2011.8M1953.6 1986.3L1953.6 2028M1948.1 1986.3L1959.1 1986.3M1948.1 2028L1959.1 2028M2005.1 2008.4L2005.1 2042.9M1999.6 2008.4L2010.6 2008.4M1999.6 2042.9L2010.6 2042.9M2056.6 2037.3L2056.6 2063.5M2051.1 2037.3L2062.1 2037.3M2051.1 2063.5L2062.1 2063.5" stroke="#EF7E2D" stroke-width="1.8" fill="none"/>
<path d="M1850.6 1960.8L1850.6 2003.2M1845.1 1960.8L1856.1 1960.8M1845.1 2003.2L1856.1 2003.2M1902.1 1958.1L1902.1 1998M1896.6 1958.1L1907.6 1958.1M1896.6 1998L1907.6 1998M1953.6 1949.8L1953.6 1994.6M1948.1 1949.8L1959.1 1949.8M1948.1 1994.6L1959.1 1994.6M2005.1 1968.7L2005.1 1991.1M1999.6 1968.7L2010.6 1968.7M1999.6 1991.1L2010.6 1991.1M2056.6 1964.6L2056.6 1992.9M2051.1 1964.6L2062.1 1964.6M2051.1 1992.9L2062.1 1992.9" stroke="#4A8BF2" stroke-width="1.8" fill="none"/>
<path d="M1850.6 1982.5L1902.1 1978.4L1953.6 1971.8L2005.1 1980.5L2056.6 1978.7" stroke="#4A8BF2" stroke-width="2" fill="none"/>
<rect x="1845.6" y="1977.5" width="10" height="10" fill="#4A8BF2"/>
<rect x="1897.1" y="1973.4" width="10" height="10" fill="#4A8BF2"/>
<rect x="1948.6" y="1966.8" width="10" height="10" fill="#4A8BF2"/>
<rect x="2000.1" y="1975.5" width="10" height="10" fill="#4A8BF2"/>
<rect x="2051.6" y="1973.7" width="10" height="10" fill="#4A8BF2"/>
<path d="M1850.6 1989.4L1902.1 1992.2L1953.6 2007.3L2005.1 2026.3L2056.6 2051.5" stroke="#EF7E2D" stroke-width="2" fill="none"/>
<circle cx="1850.6" cy="1989.4" r="5.2" fill="#EF7E2D"/>
<circle cx="1902.1" cy="1992.2" r="5.2" fill="#EF7E2D"/>
<circle cx="1953.6" cy="2007.3" r="5.2" fill="#EF7E2D"/>
<circle cx="2005.1" cy="2026.3" r="5.2" fill="#EF7E2D"/>
<circle cx="2056.6" cy="2051.5" r="5.2" fill="#EF7E2D"/>
<text x="1832.4" y="1847.2" font-size="33.5" font-style="italic" fill="#E96E26">Mlkl</text>
<text x="1898" y="1837.5" font-size="19.5" fill="#E96E26">loxP/loxP</text>
<text x="1832" y="1885" font-size="33.5" font-style="italic" fill="#3F7FEA">Mlkl</text>
<text x="1898" y="1875" font-size="19.5" fill="#3F7FEA">iΔEC/iΔEC</text>
<path d="M2000.1 1832.6L2016.3 1832.6L2016.3 1871.4L2000.1 1871.4" stroke="#000" stroke-width="2" fill="none"/>
<text x="2043.7" y="1869" font-size="33" text-anchor="middle">****</text>
<text x="1722" y="2000.3" font-size="33.6" text-anchor="middle" transform="rotate(-90 1722 2000.3)">Percentage of</text>
<text x="1757" y="2001.5" font-size="33.6" text-anchor="middle" transform="rotate(-90 1757 2001.5)">CXCR3<tspan font-size="20" dy="-13">+</tspan><tspan dy="13">CD8</tspan><tspan font-size="20" dy="-13">+</tspan><tspan dy="13"> T cells</tspan></text>
</svg></body></html>
